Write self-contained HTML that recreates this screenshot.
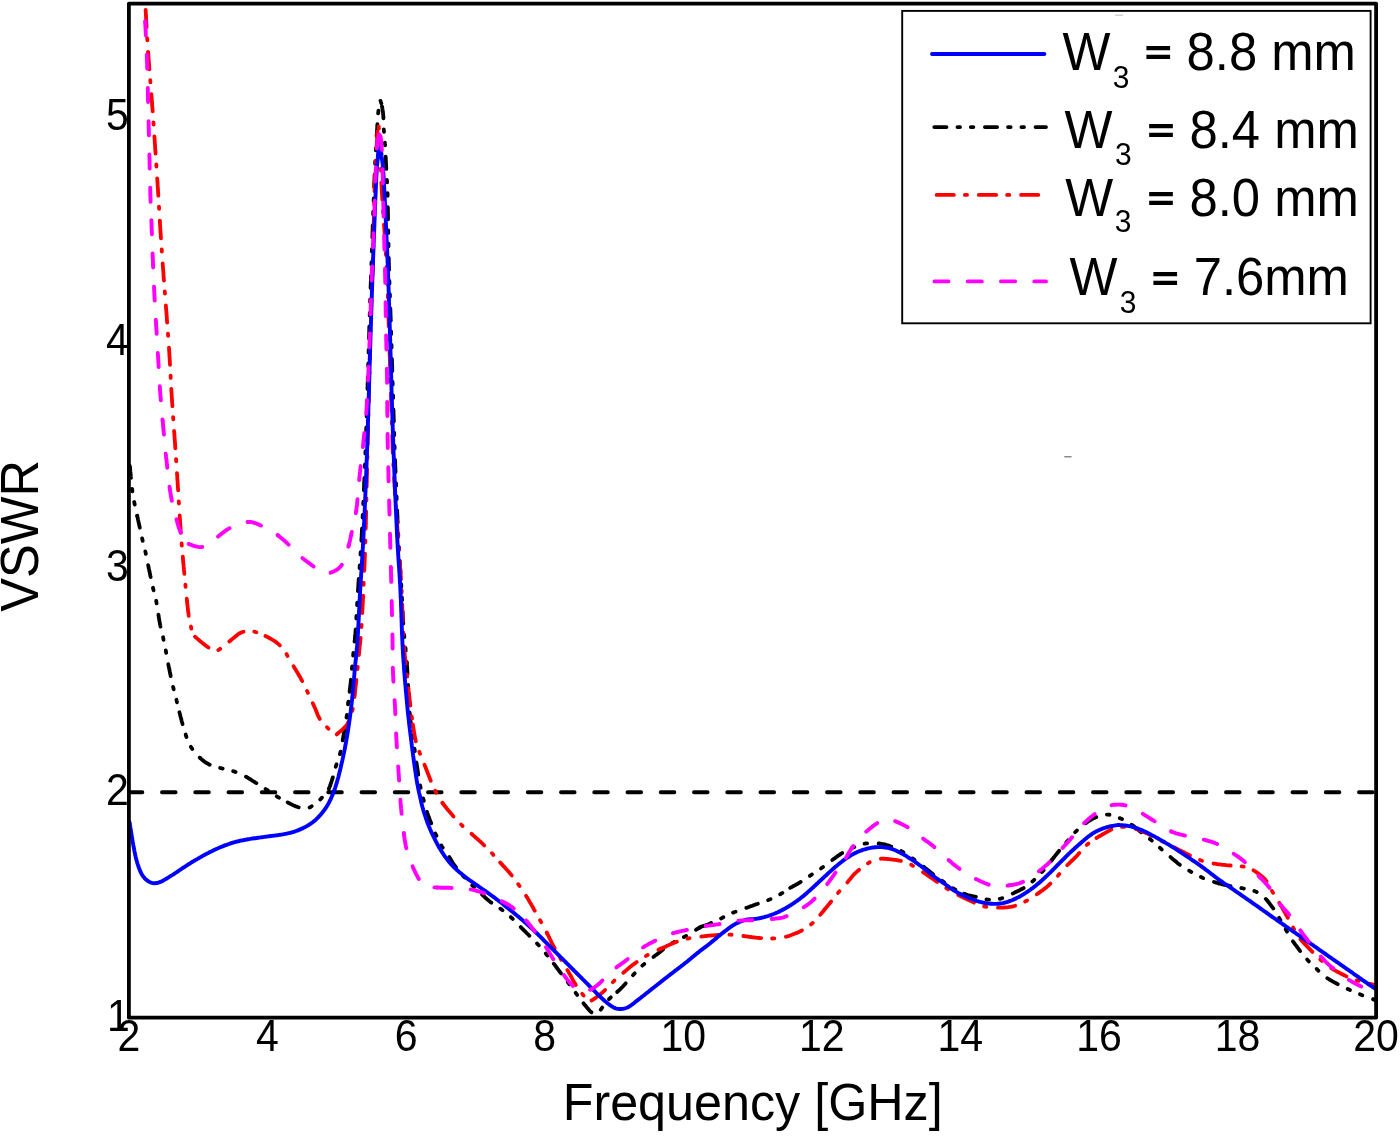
<!DOCTYPE html>
<html lang="en">
<head>
<meta charset="utf-8">
<title>VSWR versus Frequency</title>
<style>
html,body{margin:0;padding:0;background:#fff;}
body{width:1400px;height:1136px;overflow:hidden;}
svg{display:block;}
text{font-family:"Liberation Sans",sans-serif;fill:#000;}
.tk{font-size:41px;}
.lg{font-size:50.8px;}
.sb{font-size:30px;}
.ax{font-size:50.3px;}
.ay{font-size:50.6px;}
</style>
</head>
<body>
<svg width="1400" height="1136" viewBox="0 0 1400 1136">
<rect x="0" y="0" width="1400" height="1136" fill="#fff"/>
<defs><clipPath id="plot"><rect x="128.9" y="3.6" width="1247.2" height="1014.1"/></clipPath></defs>
<g clip-path="url(#plot)" fill="none" stroke-linecap="round" stroke-linejoin="round">
<path d="M128.75 792.3H1380" stroke="#000" stroke-width="3.9" stroke-dasharray="13.6 19.65"/>
<g stroke="#000" stroke-width="3.8" stroke-dasharray="12.2 10.94 2.6 10.77 2.6 11.5">
<path d="M129.5 462.0L129.6 462.7L129.6 463.5L129.7 464.5L129.8 465.5L129.9 466.7L130.0 467.9L130.2 469.2L130.3 470.6L130.4 472.0L130.6 473.5L130.7 474.9L130.8 476.4L131.0 477.9L131.1 479.3L131.2 480.8L131.4 482.1L131.5 483.5L131.6 484.7L131.8 485.9L131.9 487.0L132.0 488.0L132.2 489.8L132.4 491.3L132.5 492.5L132.7 493.7L132.8 494.7L133.0 495.7L133.2 496.8L133.4 498.0L133.7 499.4L134.0 501.0L134.2 502.0L134.4 503.0L134.6 504.2L134.9 505.3L135.2 506.6L135.4 507.8L135.7 509.1L136.0 510.4L136.3 511.8L136.6 513.1L136.9 514.4L137.2 515.8" stroke-dashoffset="46.8"/>
<path d="M137.2 515.8L137.5 517.1L137.8 518.3L138.0 519.6L138.3 520.8L138.5 521.9L138.8 523.0L139.0 524.0L139.3 525.6L139.7 527.1L140.0 528.5L140.2 529.8L140.5 531.1L140.7 532.3L141.0 533.4L141.2 534.6L141.5 535.7L141.7 536.8L142.0 538.0L142.3 539.2L142.6 540.3L142.8 541.4L143.1 542.4L143.4 543.4L143.7 544.4L144.0 545.6L144.3 546.9L144.6 548.3L145.0 550.0L145.2 550.9L145.4 552.0L145.7 553.0L145.9 554.2L146.2 555.4L146.4 556.6L146.7 557.9L147.0 559.2L147.2 560.5L147.5 561.9L147.8 563.2L148.0 564.5L148.3 565.9L148.6 567.2L148.8 568.4L149.1 569.6L149.3 570.8L149.6 572.0L149.8 573.0L150.0 574.0L150.3 575.7L150.7 577.2L151.0 578.6L151.2 579.9L151.5 581.2L151.7 582.3L152.0 583.5L152.2 584.6L152.5 585.7L152.7 586.8L153.0 588.0L153.3 589.2L153.6 590.3L153.9 591.4L154.2 592.4L154.4 593.4L154.7 594.4L155.0 595.6L155.3 596.9L155.7 598.3L156.0 600.0L156.2 600.9L156.4 602.0L156.6 603.1L156.8 604.2L157.0 605.4L157.2 606.7L157.4 608.0L157.6 609.3L157.8 610.6L158.0 611.9L158.2 613.3L158.4 614.6"/>
<path d="M158.4 614.6L158.6 615.9L158.8 617.2L159.0 618.5L159.2 619.7L159.4 620.9L159.6 622.0L159.8 623.0L160.0 624.0L160.3 625.6L160.6 627.0L160.9 628.3L161.2 629.6L161.5 630.7L161.7 631.7L162.0 632.8L162.2 633.8L162.5 634.8L162.7 635.9L163.0 637.0L163.3 638.2L163.5 639.4L163.8 640.6L164.0 641.7L164.3 642.9L164.5 644.1L164.8 645.3L165.0 646.6L165.3 648.1L165.6 649.6L165.8 650.6L166.0 651.7L166.2 652.9L166.4 654.1L166.7 655.3L166.9 656.6L167.1 657.9L167.4 659.2L167.6 660.5L167.9 661.8L168.1 663.1L168.3 664.4L168.6 665.7L168.8 666.9L169.1 668.1L169.3 669.3L169.6 670.6L169.8 671.9L170.1 673.2L170.4 674.5L170.6 675.8L170.9 677.1L171.2 678.4L171.4 679.6L171.7 680.8L172.0 682.0L172.2 683.2L172.5 684.3L172.8 685.4L173.0 686.5L173.3 687.9L173.7 689.2L174.0 690.4L174.3 691.6L174.6 692.7L174.9 693.8L175.2 695.0L175.5 696.2L175.8 697.5L176.2 698.9L176.5 700.0L176.7 701.1L177.0 702.3L177.3 703.5L177.6 704.7L177.9 705.9L178.2 707.2L178.5 708.5L178.8 709.8L179.1 711.0L179.4 712.3"/>
<path d="M179.4 712.3L179.8 713.6L180.1 714.9L180.4 716.1L180.7 717.3L181.1 718.6L181.4 719.9L181.7 721.2L182.1 722.5L182.5 723.8L182.8 725.1L183.2 726.3L183.5 727.6L183.9 728.8L184.2 730.0L184.6 731.2L184.9 732.3L185.3 733.4L185.7 734.7L186.1 736.0L186.5 737.1L186.9 738.3L187.3 739.4L187.7 740.5L188.1 741.5L188.6 742.6L189.1 743.6L189.6 744.6L190.2 745.7L190.8 746.8L191.5 747.8L192.3 748.9L193.0 750.0L193.8 751.0L194.7 752.1L195.5 753.1L196.3 754.1L197.2 755.0L198.1 755.9L198.9 756.8L199.8 757.7"/>
<path d="M199.8 757.7L200.8 758.6L201.7 759.4L202.7 760.2L203.7 761.0L204.6 761.7L205.6 762.4L206.6 763.0L207.7 763.6L208.7 764.2L209.9 764.8L211.1 765.3L212.3 765.7L213.5 766.1L214.7 766.5L216.0 766.9L217.2 767.2L218.5 767.5L219.8 767.9L221.0 768.2L222.2 768.5L223.4 768.8L224.7 769.0L225.9 769.3L227.2 769.6L228.5 769.8L229.7 770.1L230.9 770.5L232.1 770.8L233.4 771.2L234.6 771.6L235.8 772.0L237.0 772.5L238.3 773.0L239.5 773.5L240.7 774.0L241.9 774.6L243.2 775.2L244.3 775.8L245.4 776.4L246.5 777.0L247.6 777.6L248.7 778.3L249.8 779.0L251.0 779.7L252.1 780.5L253.2 781.2L254.4 781.9L255.5 782.6L256.5 783.2L257.6 783.9L258.7 784.6L259.8 785.3L260.9 786.0L261.9 786.7L263.0 787.3L264.0 788.0L265.1 788.7L266.1 789.3L267.0 789.9L267.9 790.5L269.1 791.3L270.3 792.1L271.3 792.8L272.3 793.5L273.3 794.1L274.3 794.8L275.3 795.5L276.5 796.2L277.5 796.8L278.6 797.4L279.6 798.1L280.8 798.7L281.9 799.3L283.0 800.0L284.2 800.6L285.3 801.2L286.5 801.8L287.6 802.4"/>
<path d="M287.6 802.4L288.7 803.0L289.8 803.5L291.0 804.1L292.1 804.7L293.2 805.2L294.4 805.7L295.5 806.2L296.6 806.6L297.6 807.0L298.7 807.3L300.0 807.6L301.2 807.9L302.5 808.1L303.7 808.3L304.9 808.3L306.1 808.3L307.3 808.1L308.5 807.8L309.6 807.4L310.7 806.9L311.8 806.2L312.9 805.5L314.0 804.7L315.2 803.8L316.3 802.9L317.3 802.0L318.4 801.1L319.3 800.3L320.2 799.5L321.1 798.6L322.0 797.7L322.9 796.8L323.7 795.9L324.6 794.9L325.4 794.0L326.1 793.0L326.9 792.0L327.5 791.1L328.2 790.0L328.8 788.9"/>
<path d="M328.8 788.9L329.3 787.8L329.7 786.7L330.2 785.6L330.6 784.4L330.9 783.2L331.4 782.0L331.8 780.6L332.2 779.5L332.5 778.4L332.9 777.2L333.2 775.9L333.6 774.6L333.9 773.3L334.3 772.0L334.6 770.7L335.0 769.5L335.3 768.2L335.7 767.0L336.0 765.8L336.4 764.6L336.8 763.4L337.2 762.3L337.6 761.2L338.0 760.1L338.4 759.0L338.7 757.9L339.1 756.8L339.5 755.6L339.9 754.4L340.2 753.1L340.5 752.0L340.7 750.9L341.0 749.8L341.2 748.6L341.4 747.5L341.6 746.3L341.9 745.0L342.1 743.8L342.3 742.6L342.5 741.3L342.7 740.0L343.0 738.8L343.2 737.5L343.4 736.2L343.6 735.1L343.8 733.9L344.0 732.7L344.2 731.4L344.5 730.2L344.7 729.0L344.9 727.7L345.1 726.4L345.3 725.2L345.5 724.0L345.7 722.7L345.9 721.6L346.1 720.4L346.3 719.3L346.4 718.2L346.6 717.2L346.8 715.7L347.0 714.4L347.1 713.3L347.2 712.2L347.3 711.1L347.4 710.0L347.5 708.9L347.7 707.6L347.8 706.2L348.0 704.5L348.1 703.5L348.2 702.5L348.4 701.5L348.5 700.4L348.6 699.3L348.8 698.1L348.9 696.9L349.1 695.7L349.3 694.5L349.4 693.2L349.6 691.9"/>
<path d="M349.6 691.9L349.7 690.6L349.9 689.3L350.0 688.0L350.2 686.7L350.4 685.3L350.5 684.0L350.7 682.6L350.8 681.3L350.9 680.2L351.0 679.1L351.1 677.9L351.3 676.7L351.4 675.5L351.5 674.3L351.6 673.1L351.7 671.9L351.8 670.7L351.9 669.4L352.0 668.2L352.1 667.0L352.2 665.7L352.4 664.5L352.5 663.3L352.6 662.0L352.7 660.8L352.8 659.6L352.9 658.4L353.0 657.2L353.1 656.1L353.2 654.9L353.3 653.8L353.4 652.5L353.6 651.2L353.7 650.0L353.8 648.8L353.9 647.7L354.0 646.6L354.2 645.5L354.3 644.3L354.4 643.2L354.5 642.1L354.6 641.0L354.8 639.8L354.9 638.6L355.0 637.3L355.1 636.0L355.2 634.6L355.4 633.2L355.5 631.6L355.6 630.0L355.7 629.0L355.7 628.0L355.8 627.0L355.9 626.0L355.9 624.9L356.0 623.9L356.1 622.8L356.1 621.7L356.2 620.6L356.3 619.5L356.3 618.3L356.4 617.2L356.5 616.0L356.5 614.8L356.6 613.6L356.7 612.4L356.8 611.2L356.8 610.0L356.9 608.7L357.0 607.5L357.0 606.2L357.1 604.9L357.2 603.6L357.3 602.3L357.3 601.0L357.4 599.6L357.5 598.3L357.6 596.9L357.7 595.6L357.7 594.2L357.8 592.8L357.9 591.4L358.0 590.0L358.1 588.9L358.1 587.9L358.2 586.8L358.3 585.7L358.4 584.7L358.4 583.6L358.5 582.5L358.6 581.4L358.7 580.3L358.7 579.2L358.8 578.1L358.9 577.0L359.0 575.9L359.1 574.8L359.1 573.7L359.2 572.6L359.3 571.4L359.4 570.3L359.5 569.1L359.6 567.9L359.7 566.8L359.7 565.6L359.8 564.4L359.9 563.2L360.0 562.0L360.1 560.8L360.2 559.6L360.3 558.3L360.3 557.1L360.4 555.8L360.5 554.6L360.6 553.3L360.7 552.0L360.8 550.7L360.9 549.4L360.9 548.1L361.0 546.7L361.1 545.4L361.2 544.0L361.3 542.6L361.4 541.3L361.4 539.8L361.5 538.4L361.6 537.0L361.7 536.0L361.7 534.9L361.8 533.8L361.8 532.8L361.9 531.7L361.9 530.6L362.0 529.5L362.1 528.3L362.1 527.2L362.2 526.1L362.2 524.9L362.3 523.7L362.4 522.6L362.4 521.4L362.5 520.2L362.5 519.0L362.6 517.8L362.7 516.6L362.7 515.4L362.8 514.2L362.8 513.0L362.9 511.8L362.9 510.5L363.0 509.3L363.1 508.0L363.1 506.8L363.2 505.6L363.2 504.3L363.3 503.0L363.4 501.8L363.4 500.5L363.5 499.3L363.5 498.0L363.6 496.7L363.6 495.5L363.7 494.2L363.8 492.9L363.8 491.7L363.9 490.4L363.9 489.2L364.0 487.9L364.0 486.6L364.1 485.4L364.1 484.1L364.2 482.9L364.2 481.6L364.3 480.4L364.4 479.1L364.4 477.9L364.5 476.6L364.5 475.4L364.6 474.2L364.6 472.9L364.7 471.7L364.7 470.5L364.8 469.3L364.8 468.1L364.9 466.9L364.9 465.7L365.0 464.6L365.0 463.4L365.0 462.2L365.1 460.9L365.1 459.7L365.2 458.4L365.2 457.2L365.3 456.0L365.3 454.7L365.4 453.5L365.4 452.3L365.5 451.1L365.5 449.9L365.6 448.6L365.6 447.4L365.6 446.2L365.7 445.0L365.7 443.8L365.8 442.6L365.8 441.4L365.9 440.2L365.9 439.0L365.9 437.8L366.0 436.6L366.0 435.4L366.1 434.2L366.1 433.0L366.1 431.8L366.2 430.6L366.2 429.4L366.3 428.2L366.3 427.0L366.3 425.8L366.4 424.6L366.4 423.4L366.4 422.2L366.5 421.1L366.5 419.9L366.6 418.7L366.6 417.5L366.6 416.3L366.7 415.1L366.7 414.0L366.7 412.8L366.8 411.6L366.8 410.4L366.9 409.2L366.9 408.0L366.9 406.9L367.0 405.7L367.0 404.5L367.0 403.3L367.1 402.1L367.1 400.9L367.2 399.7L367.2 398.6L367.2 397.4L367.3 396.2L367.3 395.0L367.3 393.8L367.4 392.5L367.4 391.3L367.5 390.1L367.5 388.8L367.5 387.6L367.6 386.4L367.6 385.1L367.6 383.9L367.7 382.7L367.7 381.5L367.8 380.2L367.8 379.0L367.8 377.8L367.9 376.5L367.9 375.3L367.9 374.1L368.0 372.8L368.0 371.6L368.0 370.4L368.1 369.2L368.1 367.9L368.2 366.7L368.2 365.5L368.2 364.3L368.3 363.0L368.3 361.8L368.3 360.6L368.4 359.4L368.4 358.1L368.4 356.9L368.5 355.7L368.5 354.5L368.5 353.3L368.6 352.0L368.6 350.8L368.6 349.6L368.7 348.4L368.7 347.2L368.8 346.0L368.8 344.8L368.8 343.6L368.9 342.4L368.9 341.2L368.9 339.9L369.0 338.7L369.0 337.5L369.0 336.3L369.1 335.2L369.1 334.0L369.2 332.8L369.2 331.6L369.2 330.4L369.3 329.2L369.3 328.0L369.3 326.8L369.4 325.5L369.4 324.3L369.5 323.1L369.5 321.8L369.5 320.6L369.6 319.4L369.6 318.2L369.6 317.1L369.7 315.9L369.7 314.7L369.8 313.5L369.8 312.4L369.8 311.2L369.9 310.0L369.9 308.9L369.9 307.7L370.0 306.6L370.0 305.4L370.1 304.3L370.1 303.1L370.1 302.0L370.2 300.8L370.2 299.7L370.2 298.5L370.3 297.3L370.3 296.2L370.4 295.0L370.4 293.8L370.4 292.7L370.5 291.5L370.5 290.3L370.6 289.1L370.6 287.9L370.6 286.7L370.7 285.5L370.7 284.2L370.8 283.0L370.8 281.8L370.9 280.5L370.9 279.3L370.9 278.0L371.0 276.7L371.0 275.4L371.1 274.1L371.1 272.8L371.2 271.4L371.2 270.1L371.3 268.7L371.3 267.3L371.4 265.9L371.4 264.5L371.4 263.4L371.5 262.3L371.5 261.2L371.6 260.1L371.6 259.0L371.6 257.8L371.7 256.6L371.7 255.4L371.8 254.2L371.8 253.0L371.8 251.8L371.9 250.5L371.9 249.3L372.0 248.0L372.0 246.7L372.1 245.4L372.1 244.1L372.2 242.8L372.2 241.5L372.2 240.2L372.3 238.8L372.3 237.5L372.4 236.1L372.4 234.8L372.5 233.4L372.5 232.1L372.6 230.7L372.6 229.4L372.7 228.0L372.7 226.6L372.8 225.3L372.8 223.9L372.9 222.6L372.9 221.2L373.0 219.8L373.0 218.5L373.1 217.2L373.1 215.8L373.1 214.5L373.2 213.2L373.2 211.8L373.3 210.5L373.3 209.2L373.4 207.9L373.4 206.6L373.5 205.4L373.5 204.1L373.6 202.9L373.6 201.6L373.6 200.4L373.7 199.2L373.7 198.0L373.8 196.8L373.8 195.7L373.9 194.6L373.9 193.4L373.9 192.3L374.0 191.2L374.0 190.2L374.1 189.1L374.1 188.1L374.1 187.1L374.2 186.1L374.2 185.2L374.2 184.3L374.3 183.3L374.3 182.5L374.3 181.6L374.4 180.8L374.4 180.0L374.5 177.4L374.6 175.1L374.7 173.0L374.8 171.2L374.8 169.6L374.9 168.1L374.9 166.8L375.0 165.7L375.1 164.7L375.1 163.7L375.1 162.9L375.2 162.1L375.2 161.3L375.3 160.6L375.3 159.8L375.4 159.0L375.4 158.1L375.5 157.2L375.5 156.2L375.6 155.0L375.7 153.8L375.7 152.5L375.8 151.3L375.9 150.0L375.9 148.7L376.0 147.5L376.1 146.2L376.2 144.9L376.2 143.7L376.3 142.4L376.4 141.2L376.4 139.9L376.5 138.7L376.6 137.5L376.7 136.3L376.7 135.1L376.8 134.0L376.9 132.9L376.9 131.8L377.0 130.7L377.1 129.3L377.2 127.9L377.2 126.6L377.3 125.3L377.4 124.0L377.5 122.8L377.5 121.5L377.6 120.3L377.7 119.2L377.7 118.0L377.8 116.9L377.9 115.8L378.0 114.8L378.1 113.7L378.2 112.7L378.4 111.1L378.5 109.5L378.7 107.9L378.9 106.3L379.1 104.8L379.3 103.4L379.5 102.3L379.7 101.4L380.0 100.8L380.2 100.6L380.5 100.8L380.7 101.4L381.0 102.3L381.4 103.4L381.7 104.8L382.0 106.3"/>
<path d="M382.0 106.3L382.3 107.9L382.5 109.5L382.8 111.1L383.0 112.7L383.1 113.7L383.2 114.8L383.3 116.0L383.4 117.2L383.4 118.4L383.5 119.7L383.5 121.0L383.6 122.3L383.6 123.6L383.7 124.8L383.7 126.1L383.7 127.3L383.8 128.5L383.8 129.6L383.9 130.7L384.0 132.1L384.1 133.3L384.2 134.5L384.3 135.6L384.4 136.7L384.5 137.8L384.6 138.9L384.7 140.1L384.8 141.3L384.9 142.6L385.0 144.0L385.1 145.0L385.1 146.1L385.2 147.3L385.3 148.5L385.3 149.7L385.4 150.9L385.4 152.1L385.5 153.4L385.6 154.7L385.6 156.0L385.7 157.2L385.8 158.5L385.8 159.8L385.9 161.0L385.9 162.2L386.0 163.4L386.1 164.6L386.1 165.9L386.2 167.2L386.3 168.4L386.3 169.7L386.4 170.9L386.5 172.1L386.6 173.4L386.6 174.6L386.7 175.8L386.8 177.0L386.8 178.1L386.9 179.2L386.9 180.3L387.0 181.4L387.1 182.6L387.1 183.4L387.2 183.9L387.2 184.3L387.3 184.7L387.3 185.3L387.3 186.1L387.4 187.4L387.5 189.2L387.5 191.7L387.6 195.0L387.6 195.7L387.6 196.5L387.7 197.3L387.7 198.2L387.7 199.1L387.7 200.0L387.7 200.9L387.7 201.9L387.8 202.9L387.8 203.9L387.8 205.0L387.8 206.1L387.8 207.2L387.9 208.3L387.9 209.4L387.9 210.6L387.9 211.8L387.9 213.0L388.0 214.2L388.0 215.5L388.0 216.8L388.0 218.0L388.0 219.3L388.1 220.6L388.1 221.9L388.1 223.3L388.1 224.6L388.1 226.0L388.2 227.3L388.2 228.7L388.2 230.0L388.2 231.4L388.3 232.8L388.3 234.2L388.3 235.6L388.3 236.9L388.4 238.3L388.4 239.7L388.4 241.1L388.4 242.5L388.5 243.8L388.5 245.2L388.5 246.6L388.5 247.9L388.6 249.3L388.6 250.6L388.6 252.0L388.6 253.3L388.7 254.6L388.7 255.9L388.7 257.2L388.8 258.4L388.8 259.7L388.8 260.9L388.8 262.1L388.9 263.3L388.9 264.5L388.9 265.8L389.0 267.0L389.0 268.3L389.0 269.6L389.1 270.8L389.1 272.1L389.1 273.3L389.2 274.6L389.2 275.8L389.3 277.0L389.3 278.3L389.3 279.5L389.4 280.7L389.4 281.9L389.5 283.2L389.5 284.4L389.5 285.6L389.6 286.8L389.6 288.0L389.7 289.2L389.7 290.4L389.7 291.6L389.8 292.8L389.8 294.0L389.9 295.2L389.9 296.4L389.9 297.6L390.0 298.8L390.0 300.0L390.1 301.2L390.1 302.4L390.2 303.6L390.2 304.8L390.2 306.0L390.3 307.2L390.3 308.4L390.4 309.6L390.4 310.8L390.5 312.0L390.5 313.2L390.5 314.4L390.6 315.7L390.6 316.9L390.7 318.1L390.7 319.3L390.8 320.6L390.8 321.8L390.8 323.0L390.9 324.3L390.9 325.5L391.0 326.7L391.0 328.0L391.0 329.2L391.1 330.4L391.1 331.6L391.1 332.8L391.2 334.0L391.2 335.2L391.3 336.3L391.3 337.5L391.3 338.7L391.4 339.9L391.4 341.2L391.4 342.4L391.5 343.6L391.5 344.8L391.5 346.0L391.6 347.2L391.6 348.4L391.7 349.6L391.7 350.8L391.7 352.0L391.8 353.3L391.8 354.5L391.8 355.7L391.9 356.9L391.9 358.1L391.9 359.4L392.0 360.6L392.0 361.8L392.0 363.0L392.1 364.3L392.1 365.5L392.2 366.7L392.2 367.9L392.2 369.2L392.3 370.4L392.3 371.6L392.3 372.8L392.4 374.1L392.4 375.3L392.4 376.5L392.5 377.8L392.5 379.0L392.6 380.2L392.6 381.5L392.6 382.7L392.7 383.9L392.7 385.1L392.7 386.4L392.8 387.6L392.8 388.8L392.8 390.1L392.9 391.3L392.9 392.5L393.0 393.8L393.0 395.0L393.0 396.2L393.1 397.4L393.1 398.6L393.1 399.7L393.2 400.9L393.2 402.1L393.3 403.3L393.3 404.5L393.3 405.7L393.4 406.8L393.4 408.0L393.4 409.2L393.5 410.4L393.5 411.6L393.5 412.8L393.6 413.9L393.6 415.1L393.6 416.3L393.7 417.5L393.7 418.7L393.8 419.9L393.8 421.0L393.8 422.2L393.9 423.4L393.9 424.6L393.9 425.8L394.0 427.0L394.0 428.2L394.0 429.4L394.1 430.6L394.1 431.7L394.2 432.9L394.2 434.1L394.2 435.3L394.3 436.5L394.3 437.7L394.3 438.9L394.4 440.1L394.4 441.3L394.5 442.6L394.5 443.8L394.5 445.0L394.6 446.2L394.6 447.4L394.7 448.6L394.7 449.8L394.8 451.1L394.8 452.3L394.8 453.5L394.9 454.7L394.9 456.0L395.0 457.2L395.0 458.4L395.1 459.7L395.1 460.9L395.2 462.2L395.2 463.4L395.2 464.6L395.3 465.7L395.3 466.9L395.4 468.1L395.4 469.3L395.5 470.5L395.5 471.8L395.6 473.0L395.6 474.2L395.7 475.4L395.7 476.7L395.8 477.9L395.8 479.2L395.9 480.4L395.9 481.7L396.0 482.9L396.0 484.2L396.1 485.5L396.1 486.7L396.2 488.0L396.2 489.3L396.3 490.5L396.3 491.8L396.4 493.1L396.4 494.3L396.5 495.6L396.6 496.9L396.6 498.2L396.7 499.4L396.7 500.7L396.8 502.0L396.8 503.2L396.9 504.5L396.9 505.7L397.0 507.0L397.0 508.3L397.1 509.5L397.2 510.7L397.2 512.0L397.3 513.2L397.3 514.4L397.4 515.7L397.4 516.9L397.5 518.1L397.5 519.3L397.6 520.5L397.7 521.7L397.7 522.9L397.8 524.0L397.8 525.2L397.9 526.3L397.9 527.5L398.0 528.6L398.0 529.7L398.1 530.9L398.1 532.0L398.2 533.0L398.2 534.1L398.3 535.2L398.3 536.3L398.4 537.3L398.5 538.8L398.5 540.2L398.6 541.6L398.7 543.1L398.8 544.5L398.8 545.9L398.9 547.2L399.0 548.6L399.1 550.0L399.1 551.3L399.2 552.6L399.3 553.9L399.4 555.2L399.5 556.5L399.5 557.8L399.6 559.1L399.7 560.3L399.8 561.6L399.8 562.8L399.9 564.0L400.0 565.3L400.1 566.5L400.1 567.7L400.2 568.8L400.3 570.0L400.4 571.2L400.4 572.4L400.5 573.5L400.6 574.7L400.6 575.8L400.7 576.9L400.8 578.0L400.8 579.2L400.9 580.3L401.0 581.4L401.1 582.5L401.1 583.6L401.2 584.6L401.3 585.7L401.3 586.8L401.4 587.9L401.4 588.9L401.5 590.0L401.6 591.4L401.7 592.8L401.7 594.2L401.8 595.5L401.9 596.9L401.9 598.2L402.0 599.5L402.1 600.7L402.1 602.0L402.2 603.2L402.3 604.5L402.3 605.7L402.4 606.9L402.4 608.1L402.5 609.3L402.5 610.4L402.6 611.6L402.7 612.7L402.7 613.9L402.8 615.0L402.8 616.2L402.9 617.3L403.0 618.4L403.0 619.5L403.1 620.7L403.2 621.8L403.2 622.9L403.3 624.0L403.4 625.1L403.4 626.2L403.5 627.4L403.6 628.5L403.7 629.8L403.8 631.0L403.9 632.2L404.0 633.4L404.1 634.6L404.2 635.7L404.3 636.8L404.4 637.9L404.6 639.0L404.7 640.1L404.8 641.2L404.9 642.3L405.0 643.4L405.1 644.5L405.3 645.6L405.4 646.7L405.5 647.9L405.6 649.0L405.7 650.2L405.9 651.4L406.0 652.6L406.1 653.9L406.2 655.2L406.3 656.5L406.5 657.9L406.6 659.3L406.7 660.8L406.8 662.3L406.9 663.3L406.9 664.4L407.0 665.5L407.1 666.6L407.2 667.7L407.2 668.9L407.3 670.0L407.4 671.2L407.4 672.5L407.5 673.7L407.6 675.0L407.6 676.2L407.7 677.5L407.8 678.8L407.8 680.1L407.9 681.4L408.0 682.8L408.0 684.1L408.1 685.4L408.2 686.8L408.2 688.1L408.3 689.4L408.4 690.8L408.5 692.1L408.5 693.5L408.6 694.8L408.7 696.1L408.7 697.4L408.8 698.7L408.9 700.0L409.0 701.3L409.0 702.5L409.1 703.8L409.2 705.0L409.3 706.2L409.3 707.4L409.4 708.6L409.5 709.7L409.6 710.8L409.6 711.9L409.7 713.0L409.8 714.0L409.9 715.0L410.0 716.6L410.2 718.2L410.3 719.7L410.5 721.1L410.7 722.6L410.8 724.0L411.0 725.3L411.2 726.7L411.3 728.0L411.5 729.2L411.7 730.5L411.9 731.7L412.0 732.9L412.2 734.0L412.4 735.2L412.6 736.3L412.8 737.4L412.9 738.5L413.1 739.6L413.3 740.6L413.4 741.7L413.6 742.7L413.8 743.7L413.9 744.8L414.1 745.8L414.2 746.8L414.4 748.3L414.6 749.8L414.8 751.2L415.0 752.6L415.2 753.9L415.4 755.2L415.6 756.4L415.7 757.6L415.9 758.8L416.1 760.0L416.2 761.1L416.4 762.2L416.6 763.4L416.8 764.5L416.9 765.7L417.1 766.8L417.3 768.0L417.5 769.2L417.7 770.5L417.9 771.7L418.0 772.9L418.2 774.0L418.4 775.2L418.6 776.4L418.8 777.5L418.9 778.7L419.1 779.8L419.3 781.0L419.6 782.2L419.8 783.3L420.0 784.5L420.2 785.8L420.5 787.0L420.7 788.1L421.0 789.3L421.3 790.5L421.5 791.7L421.8 792.9L422.1 794.1L422.4 795.3L422.7 796.5L423.0 797.8L423.3 799.0L423.6 800.2L424.0 801.4L424.3 802.6L424.6 803.7L424.9 804.8L425.2 805.9L425.5 807.0L425.8 808.0L426.2 809.3L426.6 810.6L427.0 811.9L427.4 813.1L427.8 814.2L428.2 815.4L428.6 816.5L429.0 817.5L429.4 818.6L429.8 819.7L430.2 820.7L430.6 821.7L431.0 822.8L431.5 824.0L432.0 825.3L432.4 826.5L432.9 827.7L433.4 828.8L433.9 830.0L434.4 831.1L434.9 832.3L435.3 833.4L435.8 834.4L436.3 835.5L436.9 836.8L437.4 838.0L438.0 839.2L438.5 840.3L439.1 841.4L439.7 842.6L440.3 843.7L440.9 844.8L441.6 846.0L442.3 847.1L443.0 848.1L443.7 849.2L444.5 850.3L445.3 851.4L446.0 852.4L446.8 853.5L447.6 854.6L448.3 855.6L449.0 856.6L449.7 857.7L450.3 858.7L450.8 859.6L451.4 860.5L451.9 861.5L452.5 862.5L453.2 863.5L454.0 864.7L455.0 866.0L455.6 866.8L456.3 867.6L456.9 868.5L457.6 869.3L458.4 870.2L459.1 871.2L459.9 872.1L460.7 873.1L461.6 874.1L462.5 875.1L463.3 876.1L464.3 877.1L465.2 878.1L466.2 879.2L467.2 880.2L468.2 881.3L469.0 882.1L469.8 882.9L470.6 883.8L471.5 884.6L472.4 885.5L473.4 886.5L474.3 887.4L475.3 888.3L476.3 889.3L477.2 890.2L478.2 891.1L479.2 892.1L480.2 893.0L481.2 893.9L482.1 894.7"/>
<path d="M482.1 894.7L483.1 895.6L484.0 896.4L484.8 897.2L485.7 898.0L486.5 898.7L487.3 899.4L488.0 900.0L489.3 901.1L490.5 902.1L491.7 902.9L492.7 903.6L493.7 904.2L494.6 904.8L495.4 905.4L496.3 905.9L497.2 906.4L498.1 907.0L499.0 907.7L500.0 908.4L501.0 909.1L501.9 909.8L502.9 910.5L503.8 911.1L504.7 911.8L505.7 912.6L506.7 913.4L507.8 914.4L509.0 915.4L509.8 916.1L510.6 916.9L511.4 917.7L512.3 918.5L513.2 919.4L514.1 920.3L515.0 921.3L515.9 922.2L516.9 923.2L517.8 924.1L518.8 925.1L519.7 926.0L520.6 927.0L521.5 927.9L522.4 928.8L523.3 929.7L524.2 930.6L525.2 931.5L526.1 932.5L527.0 933.4L528.0 934.3L528.9 935.3L529.9 936.2L530.8 937.1L531.7 938.0L532.5 938.9L533.4 939.7L534.2 940.6L535.0 941.4L535.8 942.2L536.5 942.9L537.6 944.1L538.6 945.1L539.4 946.1L540.2 947.0L541.0 947.9L541.8 948.8L542.5 949.7L543.3 950.6L544.2 951.7L545.0 952.6L545.7 953.5L546.5 954.5L547.3 955.4L548.1 956.4L548.9 957.4L549.7 958.4L550.5 959.5L551.3 960.5L552.2 961.6L553.0 962.7L553.7 963.7"/>
<path d="M553.7 963.7L554.5 964.6L555.3 965.7L556.0 966.7L556.8 967.8L557.6 968.8L558.4 969.9L559.2 971.0L560.0 972.0L560.7 973.0L561.5 974.0L562.2 975.0L562.9 975.9L563.8 977.0L564.6 978.1L565.4 979.2L566.2 980.2L567.0 981.2L567.8 982.2L568.5 983.1L569.2 984.0L569.9 984.9L570.6 985.8L571.5 987.0L572.3 988.1L573.1 989.2L573.8 990.2L574.5 991.3L575.3 992.4L576.1 993.5L576.8 994.4L577.5 995.4L578.2 996.3L578.9 997.3L579.6 998.3L580.4 999.3L581.1 1000.3L581.9 1001.3L582.7 1002.3L583.4 1003.2"/>
<path d="M583.4 1003.2L584.2 1004.2L585.1 1005.3L585.9 1006.3L586.7 1007.3L587.6 1008.3L588.4 1009.3L589.1 1010.1L589.8 1010.9L590.5 1011.5L591.9 1012.6L593.0 1013.2L594.0 1013.5L595.0 1013.5L596.0 1013.4L597.0 1013.1L598.1 1012.3L599.5 1011.0L600.1 1010.3L600.8 1009.5L601.5 1008.6L602.2 1007.6L603.0 1006.5L603.8 1005.4L604.6 1004.3L605.5 1003.1L606.3 1002.1L607.2 1001.0L608.0 1000.1L608.9 999.2L609.8 998.3L610.7 997.5L611.6 996.7L612.6 995.8L613.5 995.0L614.5 994.2L615.4 993.5L616.3 992.7L617.1 992.0"/>
<path d="M617.1 992.0L617.9 991.3L619.0 990.3L620.0 989.4L620.8 988.5L621.7 987.6L622.6 986.8L623.5 985.8L624.5 984.7L625.2 983.9L626.0 983.1L626.7 982.2L627.5 981.3L628.3 980.4L629.1 979.5L629.9 978.5L630.8 977.6L631.6 976.6L632.5 975.7L633.3 974.8L634.1 973.9L635.0 973.0L635.8 972.1L636.6 971.2L637.5 970.4L638.3 969.5L639.2 968.6L640.2 967.7L641.1 966.8L642.1 965.8L643.2 964.9L644.0 964.2L644.9 963.5L645.8 962.8L646.7 962.0L647.7 961.3L648.7 960.5L649.6 959.8L650.6 959.0L651.6 958.3L652.7 957.5L653.7 956.8L654.6 956.0L655.6 955.3L656.6 954.6L657.5 953.9L658.5 953.1L659.6 952.3L660.6 951.5L661.5 950.7L662.5 950.0L663.5 949.2L664.4 948.4L665.4 947.7L666.4 946.9L667.4 946.2L668.5 945.5L669.6 944.7L670.7 944.0L671.7 943.4L672.8 942.8L673.9 942.2L675.0 941.5L676.1 940.9L677.3 940.3L678.5 939.8L679.6 939.2L680.8 938.6L681.9 938.0L683.1 937.4L684.2 936.9L685.3 936.3L686.3 935.8L687.3 935.2L688.5 934.5L689.7 933.8L690.8 933.1L691.9 932.4L693.0 931.7L694.0 931.0L695.1 930.3L696.1 929.7L697.0 929.1L698.0 928.5L698.9 928.0L699.8 927.5"/>
<path d="M699.8 927.5L701.2 926.8L702.5 926.3L703.7 925.9L704.9 925.5L706.0 925.1L707.3 924.7L708.6 924.2L709.6 923.8L710.6 923.3L711.7 922.8L712.8 922.3L713.9 921.8L715.0 921.3L716.1 920.7L717.3 920.2L718.4 919.7L719.6 919.1L720.7 918.6L721.7 918.1L722.8 917.5L723.9 917.0L725.0 916.4L726.1 915.8L727.3 915.3L728.4 914.7L729.5 914.2L730.6 913.7L731.7 913.2L732.9 912.7L734.1 912.2L735.3 911.8L736.5 911.3L737.8 910.9L739.0 910.5L740.2 910.1L741.4 909.7L742.6 909.2L743.8 908.8L745.0 908.4L746.2 907.9L747.5 907.5L748.7 907.0L749.9 906.6L751.1 906.1L752.4 905.7L753.6 905.2L754.7 904.8L755.9 904.4L757.2 904.0L758.4 903.5L759.6 903.1L760.9 902.7L762.1 902.3L763.3 901.9L764.5 901.5L765.7 901.1L766.9 900.6L768.0 900.2L769.1 899.7L770.2 899.3L771.2 898.8L772.3 898.3L773.4 897.9L774.5 897.3L775.6 896.8L776.8 896.2L777.9 895.6L778.9 895.0L779.9 894.4L780.9 893.8L782.0 893.2L783.0 892.5L784.1 891.8L785.1 891.1L786.2 890.4L787.2 889.7L788.2 889.1L789.2 888.5L790.1 887.9"/>
<path d="M790.1 887.9L791.3 887.2L792.5 886.6L793.6 885.9L794.7 885.4L795.7 884.8L796.8 884.2L797.8 883.7L798.9 883.0L800.0 882.4L801.1 881.7L802.2 881.0L803.3 880.3L804.3 879.6L805.4 878.8L806.5 878.1L807.6 877.3L808.8 876.6L809.9 875.8L810.9 875.2L811.8 874.5L812.8 873.9L813.8 873.2L814.8 872.6L815.8 871.9L816.9 871.3L817.9 870.6L818.9 869.9L819.9 869.2L820.9 868.5L821.9 867.8L822.9 867.1L823.9 866.3L824.9 865.6L825.9 864.8L826.9 864.0L827.9 863.3L828.9 862.5L829.9 861.8L830.9 861.0L831.9 860.3L832.9 859.6L833.9 858.8L835.0 858.1L836.0 857.3L837.0 856.6L838.0 855.8L839.1 855.1L840.1 854.4L841.0 853.8L842.0 853.2L842.9 852.6L844.1 851.9L845.2 851.3L846.2 850.7L847.2 850.2L848.3 849.7L849.3 849.2L850.5 848.7L851.7 848.2L852.8 847.7L853.9 847.3L855.1 846.8L856.3 846.3L857.5 845.8L858.8 845.3L860.1 844.8L861.3 844.4L862.6 844.1L863.8 843.8L865.0 843.6L866.2 843.4L867.4 843.3L868.6 843.2L869.8 843.1L871.1 843.1L872.3 843.1L873.5 843.1L874.7 843.1L875.9 843.2L877.1 843.3L878.3 843.4L879.5 843.6"/>
<path d="M879.5 843.6L880.7 843.7L882.0 844.0L883.2 844.2L884.4 844.4L885.6 844.7L886.8 845.1L888.0 845.4L889.2 845.8L890.4 846.2L891.7 846.6L892.9 847.1L894.1 847.6L895.3 848.1L896.6 848.7L897.8 849.2L898.9 849.8L900.1 850.4L901.2 851.0L902.4 851.7L903.5 852.3L904.6 853.0L905.7 853.8L906.8 854.5L907.8 855.2L908.9 856.0L910.0 856.7L911.1 857.5L912.1 858.2L913.1 858.9L914.1 859.6L915.1 860.3L916.1 861.0L917.1 861.8L918.1 862.5L919.1 863.2L920.1 864.0L921.1 864.7L922.1 865.5L923.1 866.3L924.1 867.1L925.1 867.9L926.1 868.7L927.1 869.5L928.1 870.3L929.1 871.1L930.1 871.9L931.1 872.7L932.1 873.5L933.1 874.3L934.1 875.1L935.1 875.8L936.1 876.6L937.1 877.3L938.1 878.0L939.1 878.8L940.1 879.5L941.1 880.2L942.1 880.9L943.1 881.6L944.1 882.3L945.2 883.1L946.3 883.8L947.4 884.6L948.5 885.3L949.6 886.1L950.7 886.8L951.8 887.5L952.9 888.2L954.0 888.9L955.1 889.5L956.2 890.1L957.4 890.7L958.5 891.2L959.6 891.8L960.8 892.3L961.9 892.8L963.0 893.3L964.1 893.7"/>
<path d="M964.1 893.7L965.2 894.1L966.2 894.5L967.6 895.0L968.8 895.3L970.0 895.6L971.2 895.9L972.4 896.1L973.6 896.4L975.0 896.7L976.1 897.0L977.3 897.3L978.5 897.7L979.8 898.1L981.1 898.5L982.4 898.8L983.7 899.1L985.0 899.3L986.4 899.5L987.5 899.6L988.7 899.7L989.9 899.7L991.1 899.7L992.3 899.7L993.5 899.7L994.7 899.6L996.0 899.5L997.2 899.4L998.4 899.2L999.6 898.9L1000.8 898.6L1002.0 898.2L1003.3 897.8L1004.5 897.3L1005.7 896.7L1006.9 896.2L1008.2 895.6L1009.4 895.0L1010.5 894.5L1011.7 893.9L1012.8 893.4L1014.0 892.9L1015.2 892.3L1016.3 891.8L1017.5 891.3L1018.6 890.7L1019.7 890.2L1020.7 889.6L1021.8 889.1L1022.8 888.5L1023.8 887.9L1024.9 887.2L1025.9 886.6L1026.8 885.9L1027.7 885.3L1028.7 884.6L1029.6 883.9L1030.5 883.1L1031.5 882.2L1032.6 881.3L1033.4 880.6L1034.2 879.8L1035.0 879.0L1035.9 878.2L1036.8 877.4L1037.7 876.5L1038.5 875.6L1039.4 874.7L1040.3 873.8L1041.2 872.8L1042.0 871.9L1042.8 871.1L1043.6 870.2L1044.5 869.2L1045.3 868.2L1046.2 867.2L1047.0 866.2L1047.7 865.2L1048.5 864.2L1049.3 863.2L1050.1 862.2L1050.8 861.2L1051.6 860.2"/>
<path d="M1051.6 860.2L1052.4 859.2L1053.2 858.2L1054.0 857.2L1054.9 856.1L1055.7 855.1L1056.6 854.0L1057.4 853.0L1058.2 852.0L1059.0 851.0L1059.8 850.0L1060.6 849.1L1061.3 848.2L1062.2 847.1L1063.1 846.0L1063.9 845.1L1064.7 844.1L1065.5 843.2L1066.3 842.3L1067.1 841.4L1067.9 840.5L1068.7 839.5L1069.5 838.6L1070.3 837.6L1071.1 836.6L1071.9 835.7L1072.7 834.7L1073.6 833.8L1074.5 832.8L1075.4 831.9L1076.3 831.1L1077.2 830.2L1078.1 829.4L1079.1 828.5L1080.1 827.6L1081.2 826.8L1082.2 825.9L1083.3 825.1L1084.3 824.3L1085.3 823.6L1086.4 822.8L1087.4 822.0L1088.5 821.2L1089.6 820.5L1090.8 819.8L1091.9 819.1L1093.1 818.5L1094.3 817.9L1095.4 817.4L1096.6 817.0L1097.7 816.5L1098.9 816.1L1100.2 815.7L1101.4 815.4L1102.6 815.1L1103.8 814.9L1105.1 814.7L1106.3 814.6L1107.5 814.6L1108.7 814.7L1109.9 814.8L1111.2 815.1L1112.4 815.4L1113.7 815.8L1114.9 816.2L1116.1 816.7L1117.3 817.1L1118.5 817.6L1119.6 818.1L1120.7 818.5L1121.9 819.0L1123.1 819.6L1124.2 820.1L1125.3 820.7L1126.4 821.3L1127.4 821.9L1128.5 822.6L1129.5 823.3L1130.6 824.0L1131.6 824.7"/>
<path d="M1131.6 824.7L1132.6 825.4L1133.6 826.1L1134.6 826.9L1135.5 827.7L1136.5 828.5L1137.5 829.3L1138.5 830.1L1139.5 830.9L1140.5 831.7L1141.5 832.5L1142.5 833.2L1143.5 834.0L1144.5 834.7L1145.5 835.5L1146.4 836.2L1147.4 837.0L1148.4 837.8L1149.4 838.6L1150.4 839.4L1151.3 840.2L1152.2 840.9L1153.1 841.8L1154.0 842.6L1155.0 843.4L1155.9 844.2L1156.8 845.0L1157.7 845.8L1158.6 846.7L1159.4 847.4L1160.3 848.2L1161.3 849.1L1162.3 849.9L1163.2 850.8L1164.1 851.6L1165.0 852.4L1166.0 853.2L1166.9 854.1L1168.0 855.0L1169.1 855.9L1169.9 856.6L1170.8 857.3L1171.7 858.1L1172.6 858.9L1173.6 859.7L1174.5 860.5L1175.5 861.3L1176.5 862.1L1177.4 862.9L1178.4 863.7L1179.4 864.4L1180.3 865.1L1181.2 865.8L1182.3 866.6L1183.4 867.3L1184.5 868.0L1185.6 868.7L1186.6 869.3L1187.7 869.9L1188.8 870.5L1189.9 871.1L1191.0 871.8L1192.2 872.4L1193.2 873.0L1194.3 873.6L1195.4 874.1L1196.6 874.8L1197.7 875.4L1198.9 876.0L1200.0 876.5L1201.2 877.1L1202.3 877.7L1203.4 878.2L1204.4 878.7L1205.4 879.1L1206.8 879.7L1208.0 880.2L1209.2 880.6L1210.3 881.0L1211.5 881.3L1212.7 881.7L1213.9 882.0L1215.3 882.4L1216.4 882.7L1217.5 883.0L1218.7 883.3"/>
<path d="M1218.7 883.3L1219.9 883.6L1221.1 884.0L1222.4 884.3L1223.6 884.6L1224.9 884.9L1226.1 885.2L1227.3 885.4L1228.5 885.7L1229.8 886.0L1231.0 886.2L1232.2 886.4L1233.4 886.6L1234.6 886.8L1235.7 887.0L1236.9 887.2L1238.1 887.4L1239.4 887.7L1240.6 887.9L1241.8 888.1L1243.0 888.4L1244.2 888.6L1245.4 888.8L1246.7 889.1L1247.9 889.3L1249.1 889.6L1250.3 889.8L1251.5 890.1L1252.6 890.5L1253.6 890.8L1254.9 891.3L1256.2 891.8L1257.3 892.3L1258.4 892.8L1259.5 893.4L1260.6 894.1L1261.7 894.9L1262.8 895.8L1263.6 896.5L1264.4 897.3L1265.2 898.2L1266.0 899.1L1266.8 900.0L1267.6 901.0L1268.4 902.0L1269.2 903.0L1270.0 904.1L1270.7 905.0L1271.4 906.0L1272.1 906.9L1272.9 907.9L1273.6 909.0L1274.3 910.0L1274.9 911.0L1275.5 912.0L1276.1 912.9L1276.7 913.9L1277.4 914.9L1278.0 916.0L1278.6 917.0L1279.2 918.1L1279.9 919.2L1280.5 920.3L1281.2 921.4L1281.8 922.5L1282.4 923.6L1283.1 924.7L1283.7 925.9L1284.4 927.0L1285.0 928.1L1285.6 929.2L1286.3 930.3L1286.9 931.5L1287.5 932.6L1288.2 933.7L1288.8 934.8L1289.5 935.9L1290.1 937.0L1290.8 938.1L1291.5 939.2L1292.2 940.3L1292.9 941.3"/>
<path d="M1292.9 941.3L1293.7 942.4L1294.4 943.4L1295.1 944.4L1295.9 945.4L1296.7 946.4L1297.4 947.4L1298.2 948.4L1298.9 949.4L1299.7 950.5L1300.5 951.5L1301.3 952.5L1302.1 953.6L1302.9 954.6L1303.7 955.6L1304.5 956.6L1305.4 957.6L1306.3 958.6L1307.1 959.5L1308.0 960.5L1308.9 961.4L1309.8 962.3L1310.7 963.2L1311.7 964.2L1312.6 965.1L1313.6 966.0L1314.5 967.0L1315.5 967.9L1316.4 968.7L1317.3 969.6L1318.2 970.5L1319.1 971.3L1320.0 972.2L1320.9 973.1L1321.8 973.9L1322.8 974.8L1323.7 975.6L1324.7 976.3L1325.7 977.1L1326.7 977.8L1327.8 978.5L1328.9 979.2L1330.0 979.9L1331.1 980.5L1332.3 981.2L1333.4 981.8L1334.5 982.4L1335.6 983.0L1336.7 983.5L1337.7 984.1L1338.9 984.7L1340.1 985.3L1341.2 985.9L1342.3 986.4L1343.3 987.0L1344.4 987.5L1345.5 988.0L1346.7 988.5L1347.9 989.1L1349.0 989.6L1350.1 990.1L1351.3 990.6L1352.4 991.1L1353.6 991.7L1354.8 992.2L1356.0 992.7L1357.3 993.2L1358.6 993.8L1359.9 994.3L1361.0 994.7L1362.2 995.2L1363.5 995.7L1364.8 996.2L1366.2 996.7L1367.5 997.2L1368.9 997.7L1370.2 998.2L1371.4 998.7L1372.5 999.1L1373.5 999.4"/>
<path d="M1373.5 999.4L1374.3 999.7L1375.0 1000.0"/>
</g>
<g stroke="#ff0000" stroke-width="3.8" stroke-dasharray="17.3 10.94 2.2 11.8">
<path d="M145.6 9.5L145.6 10.1L145.7 10.8L145.7 11.6L145.8 12.4L145.8 13.3L145.9 14.2L145.9 15.1L146.0 16.1L146.0 17.2L146.1 18.2L146.1 19.4L146.2 20.5L146.3 21.7L146.3 22.9L146.4 24.2L146.5 25.5L146.6 26.8L146.6 28.1L146.7 29.5L146.8 30.9L146.9 32.3L147.0 33.7L147.0 35.1L147.1 36.6L147.2 38.1L147.3 39.5L147.4 41.0L147.5 42.5L147.6 44.0L147.7 45.5L147.8 47.0L147.9 48.5L148.0 50.0L148.1 51.0L148.1 52.1" stroke-dashoffset="41.8"/>
<path d="M148.1 52.1L148.2 53.2L148.3 54.2L148.4 55.3L148.5 56.5L148.5 57.6L148.6 58.7L148.7 59.9L148.8 61.0L148.9 62.2L149.0 63.4L149.1 64.6L149.2 65.8L149.3 67.0L149.3 68.3L149.4 69.5L149.5 70.7L149.6 72.0L149.7 73.2L149.8 74.5L149.9 75.7L150.0 77.0L150.1 78.3L150.2 79.6L150.3 80.8L150.4 82.1L150.5 83.4L150.6 84.6L150.7 85.9L150.8 87.2L150.9 88.5L151.0 89.7L151.1 91.0L151.2 92.3L151.3 93.5L151.4 94.8L151.5 96.0L151.6 97.2L151.7 98.5L151.8 99.7L151.9 100.9L152.0 102.1L152.1 103.3L152.1 104.5L152.2 105.7L152.3 106.8L152.4 108.0L152.5 109.3L152.6 110.6L152.7 111.8L152.8 113.1L152.9 114.4L152.9 115.6L153.0 116.9L153.1 118.1L153.2 119.4L153.3 120.6L153.4 121.9L153.5 123.1L153.6 124.4L153.7 125.6L153.7 126.9L153.8 128.1L153.9 129.3L154.0 130.5L154.1 131.8L154.2 133.0L154.3 134.2L154.3 135.4L154.4 136.6L154.5 137.8L154.6 139.0L154.7 140.2L154.7 141.4L154.8 142.6L154.9 143.8L155.0 145.0L155.1 146.2L155.1 147.3L155.2 148.5L155.3 149.7L155.4 150.8L155.5 152.0L155.5 153.2L155.6 154.3L155.7 155.5L155.8 156.6L155.8 157.7L155.9 158.9L156.0 160.0L156.1 161.3L156.2 162.6L156.3 164.0L156.4 165.3L156.4 166.6L156.5 167.9L156.6 169.3L156.7 170.6L156.8 171.9L156.9 173.3L157.0 174.6L157.0 175.9L157.1 177.2L157.2 178.6L157.3 179.9L157.4 181.2L157.5 182.5L157.6 183.7L157.6 185.0L157.7 186.3L157.8 187.5L157.9 188.7L158.0 190.0L158.0 191.2L158.1 192.4L158.2 193.5L158.3 194.7L158.3 195.8L158.4 196.9L158.5 198.0L158.5 199.1L158.6 200.1L158.7 201.2L158.7 202.2L158.8 203.1L158.8 204.1L158.9 205.0L159.0 206.8L159.1 208.3L159.2 209.8L159.3 211.1L159.3 212.2L159.4 213.3L159.4 214.3L159.5 215.3L159.5 216.2L159.6 217.1L159.7 218.1L159.7 219.0L159.8 220.1L159.8 221.2"/>
<path d="M159.8 221.2L159.9 222.4L160.0 223.8L160.1 225.3L160.2 227.0L160.3 227.9L160.3 228.9L160.4 229.9L160.5 230.9L160.5 232.0L160.6 233.0L160.7 234.1L160.7 235.2L160.8 236.4L160.9 237.5L161.0 238.7L161.1 239.9L161.1 241.1L161.2 242.4L161.3 243.6L161.4 244.9L161.5 246.1L161.6 247.4L161.7 248.7L161.8 250.0L161.8 251.2L161.9 252.5L162.0 253.8L162.1 255.1L162.2 256.4L162.3 257.7L162.4 259.0L162.5 260.3L162.6 261.6L162.7 262.8L162.7 264.1L162.8 265.3L162.9 266.6L163.0 267.8L163.1 269.0L163.2 270.2L163.3 271.4L163.4 272.6L163.5 273.8L163.5 275.0L163.6 276.2L163.7 277.4L163.8 278.6L163.9 279.8L164.0 281.0L164.1 282.2L164.2 283.4L164.3 284.6L164.4 285.8L164.5 287.0L164.6 288.2L164.6 289.4L164.7 290.6L164.8 291.8L164.9 293.0L165.0 294.2L165.1 295.4L165.2 296.6L165.3 297.8L165.4 299.0L165.5 300.2L165.6 301.4L165.7 302.6L165.8 303.8L165.9 305.0L165.9 306.2L166.0 307.4L166.1 308.6L166.2 309.8L166.3 311.0L166.4 312.2L166.5 313.5L166.6 314.7L166.7 315.9L166.8 317.1L166.8 318.4L166.9 319.6L167.0 320.8L167.1 322.0L167.2 323.2L167.3 324.4L167.4 325.7L167.5 326.9L167.6 328.1L167.7 329.3L167.8 330.5L167.8 331.8L167.9 333.0L168.0 334.2L168.1 335.4L168.2 336.6L168.3 337.9L168.4 339.1L168.5 340.3L168.5 341.6L168.6 342.8L168.7 344.0L168.8 345.3L168.9 346.5L169.0 347.8L169.1 349.0L169.1 350.3L169.2 351.5L169.3 352.8L169.4 354.0L169.4 355.1L169.5 356.3L169.6 357.5L169.7 358.7L169.7 359.9L169.8 361.1L169.9 362.3L169.9 363.5L170.0 364.7L170.1 365.9L170.1 367.1L170.2 368.3L170.3 369.5L170.3 370.7L170.4 372.0L170.5 373.2L170.5 374.4L170.6 375.6L170.7 376.8L170.7 378.0L170.8 379.3L170.8 380.5L170.9 381.7L171.0 382.9L171.0 384.1L171.1 385.3L171.2 386.5L171.2 387.7L171.3 388.9"/>
<path d="M171.3 388.9L171.4 390.1L171.4 391.3L171.5 392.5L171.6 393.7L171.7 394.9L171.7 396.0L171.8 397.2L171.9 398.4L172.0 399.7L172.0 400.9L172.1 402.1L172.2 403.4L172.3 404.6L172.4 405.8L172.4 407.0L172.5 408.3L172.6 409.5L172.7 410.7L172.8 411.9L172.9 413.2L173.0 414.4L173.0 415.6L173.1 416.8L173.2 418.0L173.3 419.2L173.4 420.4L173.5 421.6L173.5 422.8L173.6 424.0L173.7 425.2L173.8 426.4L173.9 427.6L174.0 428.7L174.1 429.9L174.1 431.1L174.2 432.2L174.3 433.4L174.4 434.6L174.5 435.7L174.5 436.8L174.6 438.0L174.7 439.1L174.8 440.4L174.9 441.7L175.0 443.0L175.1 444.2L175.1 445.5L175.2 446.7L175.3 447.9L175.4 449.1L175.5 450.3L175.6 451.5L175.6 452.7L175.7 453.9L175.8 455.1L175.9 456.2L176.0 457.4L176.0 458.6L176.1 459.8L176.2 461.0L176.3 462.2L176.4 463.4L176.4 464.6L176.5 465.8L176.6 467.0L176.7 468.2L176.8 469.5L176.9 470.8L176.9 472.0L177.0 473.3L177.1 474.7L177.2 476.0L177.3 477.1L177.3 478.3L177.4 479.5L177.5 480.7L177.6 481.9L177.7 483.2L177.7 484.4L177.8 485.7L177.9 487.0L178.0 488.3L178.1 489.6L178.2 490.9L178.2 492.2L178.3 493.6L178.4 494.9L178.5 496.2L178.6 497.5L178.7 498.9L178.7 500.2L178.8 501.5L178.9 502.8L179.0 504.1L179.1 505.4L179.1 506.6L179.2 507.9L179.3 509.1L179.4 510.3L179.5 511.5L179.5 512.7L179.6 513.8L179.7 514.9L179.7 516.0L179.8 517.0L179.9 518.1L179.9 519.1L180.0 520.0L180.1 521.7L180.2 523.3L180.3 524.8L180.4 526.1L180.5 527.5L180.6 528.7L180.6 529.8L180.7 531.0L180.8 532.0L180.9 533.1L180.9 534.1L181.0 535.1L181.1 536.2L181.2 537.2L181.2 538.3L181.3 539.4L181.4 540.5L181.5 541.7L181.6 543.0L181.7 544.1L181.8 545.3L181.9 546.4L182.0 547.5L182.1 548.6L182.2 549.7L182.2 550.8L182.3 552.0L182.4 553.1L182.5 554.3L182.6 555.4L182.8 556.6"/>
<path d="M182.8 556.6L182.9 557.8L183.0 559.1L183.1 560.3L183.2 561.6L183.3 562.9L183.5 564.2L183.6 565.6L183.7 567.0L183.9 568.5L184.0 570.0L184.1 571.0L184.2 572.1L184.3 573.2L184.4 574.4L184.5 575.6L184.6 576.8L184.8 578.0L184.9 579.3L185.0 580.6L185.1 581.9L185.3 583.2L185.4 584.6L185.5 585.9L185.6 587.2L185.8 588.6L185.9 590.0L186.0 591.3L186.2 592.6L186.3 594.0L186.4 595.3L186.6 596.6L186.7 597.9L186.8 599.2L186.9 600.4L187.1 601.6L187.2 602.8L187.3 604.0L187.4 605.1L187.6 606.1L187.7 607.2L187.8 608.2L187.9 609.1L188.0 610.0L188.2 611.9L188.5 613.7L188.7 615.3L189.0 616.8L189.2 618.1L189.4 619.4L189.6 620.5L189.8 621.6L190.0 622.5L190.2 623.5L190.4 624.4L190.6 625.2L190.8 626.1L191.0 627.0L191.4 628.9L191.8 630.6L192.2 632.1L192.5 633.3L192.8 634.2L193.0 635.0L193.5 635.5L194.2 636.0L195.0 636.7"/>
<path d="M195.0 636.7L195.9 637.5L196.9 638.3L197.9 639.2L199.0 640.1L200.1 641.1L201.2 642.0L202.3 642.9L203.4 643.8L204.4 644.6L205.3 645.3L206.2 645.9L207.4 646.8L208.6 647.7L209.7 648.5L210.7 649.2L211.7 649.9L212.7 650.4L213.8 650.7L214.9 650.9L216.1 650.8L217.0 650.6L218.0 650.2L219.0 649.6L220.0 649.0L221.1 648.2L222.1 647.4L223.2 646.5L224.2 645.6L225.3 644.7L226.3 643.8L227.4 643.0L228.4 642.2L229.4 641.4L230.5 640.6L231.5 639.7L232.5 638.8L233.6 638.0L234.6 637.1L235.7 636.2L236.7 635.4L237.7 634.6L238.7 633.9L239.7 633.3L240.7 632.8L242.0 632.2L243.2 631.8L244.4 631.4L245.6 631.2L246.8 631.0L248.0 630.9L249.2 630.9L250.5 631.0L251.8 631.1L252.8 631.3L253.9 631.5L255.1 631.8L256.2 632.2L257.4 632.5L258.5 633.0L259.7 633.4L260.9 633.9L262.0 634.4L263.2 635.0L264.3 635.5L265.4 636.0"/>
<path d="M265.4 636.0L266.6 636.6L267.8 637.2L269.0 637.8L270.2 638.5L271.4 639.1L272.5 639.8L273.6 640.5L274.7 641.2L275.8 641.9L276.8 642.7L277.7 643.4L278.7 644.3L279.7 645.2L280.5 646.0L281.3 646.9L282.1 647.9L282.8 648.8L283.5 649.8L284.3 650.9L285.1 652.0L285.7 652.9L286.3 653.8L286.9 654.8L287.5 655.8L288.1 656.8L288.7 657.8L289.3 658.9L289.9 660.0L290.6 661.0L291.2 662.2L291.8 663.3L292.5 664.4L293.1 665.4L293.7 666.4L294.3 667.4L294.9 668.5L295.6 669.6L296.2 670.7L296.9 671.8L297.5 672.8L298.2 673.9L298.8 675.0L299.4 676.1L300.0 677.1L300.6 678.1L301.1 679.1L301.7 680.3L302.4 681.4L302.9 682.6L303.5 683.6L304.0 684.7L304.5 685.7L305.1 686.8L305.6 687.9L306.1 689.1L306.7 690.2L307.3 691.5L307.8 692.5L308.3 693.6L308.9 694.8L309.4 696.0L310.0 697.1L310.5 698.4L311.1 699.6L311.6 700.8L312.2 702.0L312.7 703.2"/>
<path d="M312.7 703.2L313.3 704.3L313.8 705.4L314.2 706.5L314.7 707.5L315.3 708.8L315.8 710.1L316.3 711.3L316.7 712.4L317.2 713.5L317.6 714.6L318.0 715.6L318.5 716.6L319.0 717.6L319.6 718.6L320.3 719.7L321.1 720.7L321.9 721.7L322.7 722.6L323.5 723.5L324.4 724.4L325.3 725.3L326.1 726.3L327.0 727.2L327.9 728.2L328.9 729.3L329.9 730.4L331.0 731.5L332.0 732.6L332.9 733.6L333.7 734.5L334.5 735.2L335.0 735.8L335.6 735.3L336.4 734.7L337.3 733.9"/>
<path d="M337.3 733.9L338.3 733.0L339.4 732.1L340.5 731.1L341.6 730.2L342.6 729.3L343.4 728.5L344.4 727.5L345.4 726.6L346.2 725.7L347.0 724.7L347.7 723.5L348.5 722.0L348.9 721.1L349.3 720.2L349.7 719.3L350.1 718.3L350.4 717.2L350.8 716.1L351.2 715.0L351.6 713.7L351.9 712.4L352.2 711.0L352.6 709.6L352.9 708.0L353.1 707.0L353.3 706.0L353.4 705.0L353.6 703.9L353.8 702.8L353.9 701.6L354.1 700.5L354.2 699.3L354.4 698.0L354.5 696.8L354.7 695.5L354.8 694.3L355.0 693.0L355.1 691.6L355.2 690.3L355.4 688.9L355.5 687.6L355.7 686.2L355.8 684.8L356.0 683.4L356.1 682.3L356.2 681.2L356.4 680.0L356.5 678.8L356.6 677.6L356.8 676.4L356.9 675.2L357.0 673.9L357.1 672.6L357.3 671.3L357.4 670.0L357.5 668.8L357.7 667.5L357.8 666.2L357.9 664.9L358.0 663.6L358.2 662.3L358.3 661.1L358.4 659.8L358.5 658.6L358.7 657.4L358.8 656.2L358.9 655.0L359.0 653.9L359.1 652.8L359.2 651.7L359.3 650.3L359.5 649.0L359.6 647.7L359.7 646.5L359.8 645.4L359.9 644.3L360.1 643.2L360.2 642.1L360.3 641.1L360.4 640.0L360.5 638.9L360.6 637.8L360.7 636.7L360.8 635.5L360.9 634.2L361.0 632.9L361.1 631.5L361.2 630.1L361.3 628.5L361.4 627.5L361.4 626.5L361.5 625.5L361.6 624.5L361.6 623.5L361.7 622.4L361.8 621.4L361.8 620.3L361.9 619.2L362.0 618.1L362.0 617.0L362.1 615.8L362.2 614.7L362.2 613.5L362.3 612.3L362.3 611.1L362.4 609.9L362.5 608.7L362.5 607.4L362.6 606.2L362.7 604.9L362.7 603.6L362.8 602.3L362.9 601.0L362.9 599.7L363.0 598.3L363.1 597.0L363.1 595.6L363.2 594.2L363.3 592.8L363.3 591.4L363.4 590.0L363.4 589.0L363.5 587.9L363.5 586.9L363.6 585.8L363.6 584.7L363.7 583.7L363.7 582.6L363.8 581.5L363.8 580.4L363.9 579.4L363.9 578.3L364.0 577.2L364.0 576.0L364.1 574.9L364.1 573.8L364.2 572.7L364.2 571.5L364.3 570.4L364.3 569.2L364.4 568.1L364.4 566.9L364.5 565.7L364.5 564.5L364.6 563.3L364.6 562.1L364.7 560.9L364.7 559.7L364.8 558.4L364.8 557.2L364.9 555.9L364.9 554.6L365.0 553.4L365.0 552.1L365.0 550.8L365.1 549.4L365.1 548.1L365.2 546.8L365.2 545.4L365.3 544.0L365.3 542.7L365.4 541.3L365.4 539.9L365.5 538.4L365.5 537.0L365.5 536.0L365.6 534.9L365.6 533.8L365.6 532.7L365.7 531.6L365.7 530.5L365.7 529.4L365.7 528.3L365.8 527.2L365.8 526.0L365.8 524.8L365.9 523.7L365.9 522.5L365.9 521.3L365.9 520.1L366.0 518.9L366.0 517.7L366.0 516.5L366.1 515.3L366.1 514.1L366.1 512.8L366.1 511.6L366.2 510.4L366.2 509.1L366.2 507.9L366.3 506.6L366.3 505.4L366.3 504.1L366.3 502.8L366.4 501.6L366.4 500.3L366.4 499.0L366.4 497.8L366.5 496.5L366.5 495.2L366.5 493.9L366.5 492.7L366.6 491.4L366.6 490.1L366.6 488.8L366.7 487.6L366.7 486.3L366.7 485.0L366.7 483.8L366.8 482.5L366.8 481.3L366.8 480.0L366.8 478.7L366.9 477.5L366.9 476.3L366.9 475.0L367.0 473.8L367.0 472.6L367.0 471.3L367.0 470.1L367.1 468.9L367.1 467.7L367.1 466.5L367.1 465.3L367.2 464.2L367.2 463.0L367.2 461.7L367.3 460.5L367.3 459.2L367.3 458.0L367.4 456.7L367.4 455.5L367.4 454.2L367.4 453.0L367.5 451.7L367.5 450.5L367.5 449.2L367.6 448.0L367.6 446.8L367.6 445.6L367.7 444.3L367.7 443.1L367.7 441.9L367.7 440.7L367.8 439.4L367.8 438.2L367.8 437.0L367.9 435.8L367.9 434.6L367.9 433.4L368.0 432.2L368.0 431.0L368.0 429.8L368.1 428.6L368.1 427.4L368.1 426.2L368.1 425.0L368.2 423.8L368.2 422.6L368.2 421.4L368.3 420.2L368.3 419.0L368.3 417.8L368.4 416.6L368.4 415.4L368.4 414.2L368.5 413.0L368.5 411.8L368.5 410.6L368.5 409.4L368.6 408.2L368.6 407.0L368.6 405.8L368.7 404.6L368.7 403.4L368.7 402.2L368.8 401.0L368.8 399.8L368.8 398.6L368.8 397.4L368.9 396.2L368.9 395.0L368.9 393.8L369.0 392.5L369.0 391.3L369.0 390.1L369.0 388.9L369.1 387.6L369.1 386.4L369.1 385.2L369.2 383.9L369.2 382.7L369.2 381.5L369.2 380.3L369.3 379.0L369.3 377.8L369.3 376.6L369.4 375.3L369.4 374.1L369.4 372.9L369.4 371.7L369.5 370.4L369.5 369.2L369.5 368.0L369.5 366.8L369.6 365.5L369.6 364.3L369.6 363.1L369.6 361.9L369.7 360.6L369.7 359.4L369.7 358.2L369.8 357.0L369.8 355.8L369.8 354.5L369.8 353.3L369.9 352.1L369.9 350.9L369.9 349.7L370.0 348.5L370.0 347.2L370.0 346.0L370.0 344.8L370.1 343.6L370.1 342.4L370.1 341.2L370.2 340.0L370.2 338.8L370.2 337.6L370.3 336.4L370.3 335.2L370.3 334.0L370.4 332.8L370.4 331.6L370.4 330.4L370.5 329.2L370.5 328.0L370.5 326.8L370.6 325.5L370.6 324.3L370.7 323.1L370.7 321.9L370.7 320.7L370.8 319.5L370.8 318.3L370.9 317.1L370.9 315.9L370.9 314.8L371.0 313.6L371.0 312.4L371.1 311.2L371.1 310.1L371.2 308.9L371.2 307.8L371.2 306.6L371.3 305.4L371.3 304.3L371.4 303.1L371.4 301.9L371.5 300.8L371.5 299.6L371.6 298.5L371.6 297.3L371.7 296.1L371.7 295.0L371.7 293.8L371.8 292.6L371.8 291.4L371.9 290.3L371.9 289.1L372.0 287.9L372.0 286.7L372.1 285.5L372.1 284.3L372.2 283.1L372.2 281.9L372.2 280.6L372.3 279.4L372.3 278.2L372.4 276.9L372.4 275.7L372.5 274.4L372.5 273.1L372.6 271.9L372.6 270.6L372.6 269.3L372.7 268.0L372.7 266.7L372.8 265.3L372.8 264.0L372.8 262.9L372.9 261.8L372.9 260.6L372.9 259.5L373.0 258.3L373.0 257.1L373.0 255.9L373.1 254.7L373.1 253.5L373.1 252.3L373.1 251.0L373.2 249.8L373.2 248.5L373.2 247.2L373.3 245.9L373.3 244.6L373.3 243.3L373.4 242.0L373.4 240.7L373.4 239.4L373.5 238.1L373.5 236.8L373.5 235.4L373.5 234.1L373.6 232.8L373.6 231.4L373.6 230.1L373.7 228.8L373.7 227.4L373.7 226.1L373.8 224.8L373.8 223.4L373.8 222.1L373.8 220.8L373.9 219.5L373.9 218.2L373.9 216.9L374.0 215.6L374.0 214.3L374.0 213.0L374.0 211.7L374.1 210.5L374.1 209.2L374.1 208.0L374.2 206.7L374.2 205.5L374.2 204.3L374.2 203.1L374.3 202.0L374.3 200.8L374.3 199.6L374.3 198.5L374.4 197.4L374.4 196.3L374.4 195.2L374.5 194.2L374.5 193.1L374.5 192.1L374.5 191.1L374.6 190.1L374.6 189.2L374.6 188.3L374.6 187.3L374.7 186.5L374.7 185.6L374.8 183.6L374.8 181.6L374.9 179.8L375.0 178.1L375.0 176.6L375.1 175.1L375.1 173.7L375.2 172.4L375.3 171.1L375.3 170.0L375.4 168.9L375.4 167.8L375.5 166.8L375.6 165.8L375.6 164.9L375.7 163.9L375.7 163.0L375.8 162.1L375.8 161.2L375.9 160.2L376.0 159.3L376.0 158.3L376.1 157.3L376.2 156.3L376.2 155.2L376.3 154.0L376.4 152.7L376.4 151.3L376.5 149.9L376.6 148.3L376.7 146.8L376.7 145.1L376.8 143.5L376.9 141.8L377.0 140.1L377.1 138.5L377.1 136.8L377.2 135.2L377.3 133.7L377.4 132.2L377.5 130.8L377.5 129.5L377.6 128.3L377.7 127.2L377.8 126.2L377.9 125.4L378.0 124.7L378.0 124.2L378.1 123.8L378.2 123.7L378.3 123.8L378.4 124.0L378.4 124.4L378.5 124.8L378.6 125.4L378.7 126.1L378.7 126.9L378.8 127.8L378.9 128.8L379.0 129.9L379.0 131.0L379.1 132.3L379.2 133.6L379.3 134.9L379.4 136.3L379.4 137.8L379.5 139.2L379.6 140.7L379.7 142.3L379.8 143.8L379.8 145.4L379.9 146.9L380.0 148.5L380.1 150.0L380.1 151.6L380.2 153.1L380.3 154.6L380.3 156.0L380.4 157.4L380.5 158.7L380.5 160.0L380.6 161.2L380.6 162.3L380.7 163.4L380.8 164.8L380.8 166.1L380.9 167.3L380.9 168.3L381.0 169.4L381.0 170.3L381.0 171.2L381.0 172.1L381.1 172.9L381.1 173.8L381.1 174.6L381.1 175.5L381.1 176.5L381.2 177.4L381.2 178.5L381.2 179.6L381.3 180.8L381.3 182.2L381.4 183.6L381.5 185.2L381.6 187.0L381.7 188.9L381.8 191.0L381.8 191.8L381.9 192.7L382.0 193.6L382.0 194.5L382.1 195.5L382.1 196.4L382.2 197.4L382.3 198.4L382.3 199.5L382.4 200.5L382.5 201.6L382.5 202.7L382.6 203.8L382.7 204.9L382.8 206.1L382.8 207.3L382.9 208.4L383.0 209.6L383.1 210.8L383.2 212.1L383.2 213.3L383.3 214.5L383.4 215.8L383.5 217.1L383.6 218.3L383.7 219.6L383.8 220.9L383.9 222.2L383.9 223.5L384.0 224.8L384.1 226.2L384.2 227.5L384.3 228.8L384.4 230.1L384.5 231.5L384.6 232.8L384.7 234.2L384.7 235.5L384.8 236.8L384.9 238.2L385.0 239.5L385.1 240.8L385.2 242.1L385.3 243.5L385.3 244.8L385.4 246.1L385.5 247.4L385.6 248.7L385.7 250.0L385.7 251.2L385.8 252.5L385.9 253.8L386.0 255.0L386.0 256.2L386.1 257.5L386.2 258.7L386.3 259.9L386.3 261.1L386.4 262.2L386.4 263.4L386.5 264.5L386.6 265.8L386.6 267.1L386.7 268.4L386.8 269.7L386.8 271.0L386.9 272.3L386.9 273.5L387.0 274.8L387.0 276.0L387.1 277.3L387.1 278.5L387.2 279.8L387.2 281.0L387.3 282.2L387.3 283.4L387.4 284.7L387.4 285.9L387.5 287.1L387.5 288.3L387.6 289.5L387.6 290.7L387.6 291.9L387.7 293.1L387.7 294.3L387.8 295.5L387.8 296.7L387.8 297.8L387.9 299.0L387.9 300.2L388.0 301.4L388.0 302.6L388.0 303.8L388.1 305.0L388.1 306.2L388.1 307.3L388.2 308.5L388.2 309.7L388.3 310.9L388.3 312.1L388.3 313.3L388.4 314.5L388.4 315.7L388.4 316.9L388.5 318.1L388.5 319.4L388.6 320.6L388.6 321.8L388.6 323.0L388.7 324.3L388.7 325.5L388.8 326.7L388.8 328.0L388.8 329.2L388.9 330.4L388.9 331.6L389.0 332.8L389.0 334.0L389.0 335.2L389.1 336.4L389.1 337.6L389.2 338.8L389.2 340.0L389.2 341.2L389.3 342.4L389.3 343.6L389.4 344.8L389.4 346.0L389.4 347.2L389.5 348.4L389.5 349.6L389.6 350.8L389.6 352.1L389.6 353.3L389.7 354.5L389.7 355.7L389.8 356.9L389.8 358.2L389.8 359.4L389.9 360.6L389.9 361.8L390.0 363.1L390.0 364.3L390.0 365.5L390.1 366.7L390.1 368.0L390.2 369.2L390.2 370.4L390.2 371.6L390.3 372.9L390.3 374.1L390.4 375.3L390.4 376.6L390.4 377.8L390.5 379.0L390.5 380.3L390.6 381.5L390.6 382.7L390.6 383.9L390.7 385.2L390.7 386.4L390.8 387.6L390.8 388.9L390.8 390.1L390.9 391.3L390.9 392.5L391.0 393.8L391.0 395.0L391.0 396.2L391.1 397.4L391.1 398.6L391.2 399.8L391.2 401.0L391.2 402.2L391.3 403.4L391.3 404.6L391.3 405.8L391.4 407.0L391.4 408.2L391.4 409.4L391.5 410.6L391.5 411.8L391.5 413.0L391.6 414.2L391.6 415.4L391.6 416.6L391.7 417.8L391.7 419.0L391.7 420.2L391.8 421.4L391.8 422.6L391.9 423.8L391.9 425.0L391.9 426.2L392.0 427.4L392.0 428.6L392.0 429.8L392.1 431.0L392.1 432.2L392.1 433.4L392.2 434.6L392.2 435.8L392.3 437.0L392.3 438.2L392.3 439.4L392.4 440.7L392.4 441.9L392.5 443.1L392.5 444.3L392.6 445.6L392.6 446.8L392.6 448.0L392.7 449.2L392.7 450.5L392.8 451.7L392.8 453.0L392.9 454.2L393.0 455.5L393.0 456.7L393.1 458.0L393.1 459.2L393.2 460.5L393.2 461.7L393.3 463.0L393.4 464.2L393.4 465.3L393.5 466.5L393.5 467.7L393.6 468.9L393.7 470.1L393.7 471.3L393.8 472.6L393.9 473.8L393.9 475.0L394.0 476.3L394.1 477.5L394.2 478.7L394.2 480.0L394.3 481.3L394.4 482.5L394.5 483.8L394.5 485.0L394.6 486.3L394.7 487.6L394.8 488.8L394.9 490.1L394.9 491.4L395.0 492.7L395.1 493.9L395.2 495.2L395.3 496.5L395.4 497.8L395.4 499.0L395.5 500.3L395.6 501.6L395.7 502.8L395.8 504.1L395.9 505.4L395.9 506.6L396.0 507.9L396.1 509.1L396.2 510.4L396.3 511.6L396.4 512.8L396.5 514.1L396.5 515.3L396.6 516.5L396.7 517.7L396.8 518.9L396.9 520.1L396.9 521.3L397.0 522.5L397.1 523.7L397.2 524.8L397.3 526.0L397.3 527.2L397.4 528.3L397.5 529.4L397.6 530.5L397.6 531.6L397.7 532.7L397.8 533.8L397.9 534.9L397.9 536.0L398.0 537.0L398.1 538.4L398.2 539.8L398.3 541.2L398.4 542.6L398.5 544.0L398.6 545.3L398.7 546.6L398.7 547.9L398.8 549.2L398.9 550.5L399.0 551.8L399.1 553.0L399.2 554.3L399.3 555.5L399.4 556.7L399.5 557.9L399.5 559.1L399.6 560.3L399.7 561.5L399.8 562.6L399.9 563.8L400.0 564.9L400.1 566.1L400.1 567.2L400.2 568.4L400.3 569.5L400.4 570.6L400.5 571.8L400.5 572.9L400.6 574.0L400.7 575.1L400.8 576.3L400.8 577.4L400.9 578.5L401.0 579.6L401.1 580.8L401.1 581.9L401.2 583.0L401.3 584.2L401.3 585.3L401.4 586.5L401.5 587.7L401.5 588.8L401.6 590.0L401.7 591.2L401.7 592.5L401.8 593.7L401.8 595.0L401.9 596.3L402.0 597.6L402.0 598.8L402.1 600.1L402.1 601.4L402.2 602.7L402.2 604.0L402.3 605.3L402.3 606.6L402.3 607.9L402.4 609.1L402.4 610.4L402.5 611.7L402.5 613.0L402.5 614.3L402.6 615.6L402.6 616.8L402.7 618.1L402.7 619.3L402.7 620.6L402.8 621.8L402.8 623.1L402.9 624.3L402.9 625.5L402.9 626.7L403.0 627.9L403.0 629.1L403.1 630.2L403.1 631.4L403.2 632.5L403.2 633.6L403.3 634.7L403.3 635.8L403.4 636.9L403.4 638.0L403.5 639.0L403.5 640.0L403.6 641.0L403.7 642.6L403.8 644.1L403.9 645.5L404.0 646.9L404.1 648.2L404.2 649.5L404.3 650.8L404.5 652.0L404.6 653.2L404.7 654.3L404.8 655.5L404.9 656.6L405.1 657.7L405.2 658.8L405.3 659.9L405.4 661.0L405.6 662.1L405.7 663.2L405.8 664.3L406.0 665.4L406.1 666.6L406.2 667.8L406.4 669.0L406.5 670.2L406.7 671.5L406.8 672.8L406.9 673.9L407.0 675.1L407.2 676.3L407.3 677.5L407.4 678.7L407.5 679.9L407.7 681.2L407.8 682.4L407.9 683.7L408.1 685.0L408.2 686.3L408.4 687.6L408.5 688.9L408.6 690.2L408.8 691.5L408.9 692.8L409.0 694.1L409.2 695.4L409.3 696.6L409.5 697.9L409.6 699.2L409.8 700.4L409.9 701.7L410.0 702.9L410.2 704.1L410.3 705.3L410.5 706.5L410.6 707.6L410.7 708.7L410.9 709.8L411.0 710.9L411.2 712.3L411.4 713.7L411.5 715.1L411.7 716.5L411.9 717.8L412.1 719.2L412.3 720.5L412.5 721.8L412.6 723.0L412.8 724.3"/>
<path d="M412.8 724.3L413.0 725.5L413.2 726.7L413.4 727.9L413.6 729.1L413.7 730.2L413.9 731.3L414.1 732.4L414.3 733.5L414.5 734.5L414.7 735.5L414.8 736.5L415.0 737.4L415.2 738.3L415.6 740.1L415.9 741.6L416.3 743.0L416.6 744.2L417.0 745.3L417.3 746.4L417.7 747.4L418.1 748.5L418.5 749.6L418.9 750.7L419.4 752.0L419.8 753.1L420.2 754.1L420.6 755.2L421.0 756.3L421.5 757.4L421.9 758.5L422.4 759.6L422.8 760.8L423.3 761.9L423.8 763.1L424.3 764.3L424.8 765.5L425.3 766.7L425.8 768.0L426.2 769.1L426.7 770.2L427.1 771.3L427.5 772.5L428.0 773.6L428.4 774.8L428.9 776.0L429.4 777.2L429.8 778.4L430.3 779.7L430.8 780.8L431.2 782.0L431.7 783.2L432.2 784.3L432.7 785.4L433.1 786.5L433.6 787.5L434.2 788.8L434.8 790.0L435.5 791.3L436.1 792.4L436.7 793.6L437.3 794.7L438.0 795.8L438.6 796.9L439.2 798.0L439.9 799.0L440.5 800.0L441.1 801.0L441.8 802.0L442.6 803.1"/>
<path d="M442.6 803.1L443.4 804.2L444.2 805.3L445.0 806.3L445.8 807.3L446.6 808.3L447.4 809.2L448.2 810.2L449.0 811.1L449.8 812.1L450.6 813.0L451.4 813.9L452.2 814.9L452.9 815.8L453.7 816.7L454.5 817.6L455.3 818.5L456.0 819.3L456.8 820.2L457.7 821.1L458.5 822.0L459.4 822.9L460.2 823.7L461.1 824.5L462.0 825.4L462.9 826.2L463.8 827.0L464.8 827.9L465.7 828.7L466.7 829.5L467.6 830.3L468.5 831.1L469.5 832.0L470.4 832.8L471.3 833.6L472.3 834.5L473.2 835.3L474.1 836.1L475.1 837.0L476.0 837.8L477.0 838.7L477.9 839.5L478.8 840.3L479.7 841.1L480.6 841.9L481.4 842.7L482.4 843.6L483.3 844.5L484.2 845.4L485.1 846.2L485.9 847.0L486.8 847.9L487.6 848.7L488.5 849.6L489.4 850.5L490.3 851.5L491.1 852.3L491.9 853.2L492.7 854.1L493.5 855.0L494.4 855.9L495.2 856.9L496.0 857.8L496.9 858.8L497.7 859.7L498.5 860.6L499.4 861.6L500.2 862.5"/>
<path d="M500.2 862.5L501.0 863.4L501.9 864.3L502.7 865.3L503.6 866.2L504.4 867.1L505.3 868.1L506.1 869.0L507.0 869.9L507.8 870.8L508.6 871.7L509.4 872.6L510.1 873.5L511.0 874.5L511.8 875.5L512.5 876.5L513.3 877.4L514.0 878.4L514.7 879.3L515.5 880.3L516.2 881.3L517.0 882.4L517.8 883.5L518.4 884.4L519.1 885.4L519.8 886.3L520.5 887.3L521.2 888.3L521.9 889.4L522.5 890.4L523.2 891.5L523.9 892.5L524.6 893.6L525.3 894.6L526.0 895.7L526.6 896.7L527.3 897.8L528.0 898.9L528.7 900.1L529.3 901.2L530.0 902.4L530.7 903.5L531.3 904.6L531.9 905.7L532.6 906.8L533.2 907.9L533.7 908.9L534.3 909.9L535.0 911.1L535.6 912.2L536.2 913.3L536.8 914.3L537.3 915.3L537.9 916.3L538.5 917.4L539.1 918.5L539.8 919.8L540.3 920.8L540.9 921.8L541.4 922.8L542.0 923.9L542.7 925.0L543.3 926.2L543.9 927.3L544.5 928.5L545.1 929.6L545.8 930.8L546.4 931.9L546.9 933.0"/>
<path d="M546.9 933.0L547.5 934.1L548.1 935.2L548.6 936.3L549.2 937.4L549.7 938.5L550.2 939.6L550.7 940.6L551.2 941.7L551.8 942.8L552.3 943.9L552.9 945.0L553.5 946.1L554.1 947.3L554.7 948.3L555.3 949.4L555.9 950.5L556.5 951.7L557.2 952.8L557.8 954.0L558.5 955.1L559.2 956.3L559.8 957.4L560.5 958.6L561.1 959.7L561.7 960.7L562.3 961.7L562.9 962.7L563.7 964.0L564.4 965.2L565.1 966.4L565.8 967.5L566.4 968.5L567.0 969.6L567.7 970.6L568.3 971.6L568.9 972.7L569.5 973.7L570.2 974.9L570.8 976.0L571.4 977.1L572.0 978.2L572.5 979.3L573.1 980.4L573.7 981.4L574.3 982.5L575.0 983.6L575.7 984.7L576.4 985.8L577.1 986.9L577.9 988.0L578.6 989.1L579.4 990.1L580.1 991.2L580.9 992.2L581.6 993.1L582.4 994.1L583.3 995.2L584.2 996.2L585.1 997.2L586.0 998.1L586.8 998.9L587.5 999.6L588.2 1000.1L589.6 1001.2L591.5 1000.5"/>
<path d="M591.5 1000.5L592.2 1000.1L593.0 999.6L594.0 999.0L595.0 998.3L596.0 997.5L597.1 996.7L598.3 995.8L599.4 995.0L600.5 994.1L601.5 993.2L602.5 992.4L603.4 991.6L604.4 990.7L605.3 989.8L606.2 988.9L607.1 988.0L608.0 987.0L608.8 986.1L609.7 985.2L610.6 984.3L611.5 983.4L612.4 982.5L613.3 981.7L614.2 980.8L615.1 980.0L616.0 979.2L616.8 978.4L617.7 977.7L618.6 976.9L619.5 976.1L620.4 975.3L621.4 974.5L622.3 973.7L623.2 972.9L624.2 972.1L625.1 971.2L626.1 970.4L627.0 969.6L628.0 968.7L629.0 967.9L630.0 967.0L631.1 966.2L632.2 965.3L633.3 964.5L634.2 963.8L635.2 963.1L636.1 962.5L637.1 961.8L638.1 961.1L639.1 960.4L640.1 959.7L641.1 959.0L642.2 958.3L643.3 957.6L644.3 956.9L645.4 956.3L646.5 955.6L647.6 955.0L648.6 954.4L649.7 953.9L650.8 953.3L652.0 952.7L653.1 952.2L654.3 951.7L655.5 951.1L656.6 950.6L657.8 950.1L658.9 949.6L660.0 949.1L661.1 948.6"/>
<path d="M661.1 948.6L662.2 948.2L663.2 947.7L664.1 947.3L665.4 946.7L666.6 946.1L667.8 945.6L668.9 945.1L669.9 944.6L670.9 944.1L671.9 943.7L673.0 943.3L674.0 942.8L675.1 942.4L676.2 942.0L677.3 941.6L678.5 941.2L679.6 940.8L680.7 940.4L681.9 940.1L683.0 939.7L684.2 939.4L685.4 939.1L686.6 938.8L687.7 938.6L688.9 938.3L690.0 938.1L691.2 937.9L692.4 937.7L693.6 937.5L694.8 937.4L696.0 937.2L697.2 937.0L698.5 936.9L699.8 936.7L701.0 936.6L702.3 936.4L703.5 936.3L704.8 936.1L706.1 936.0L707.4 935.9L708.7 935.7L710.1 935.6L711.4 935.5L712.7 935.4L713.9 935.3L715.2 935.2L716.5 935.1L717.9 935.0L719.2 934.9L720.6 934.9L721.9 934.8L723.2 934.8L724.5 934.7L725.8 934.7L727.0 934.7L728.3 934.7L729.5 934.7L730.8 934.7L732.0 934.8L733.2 934.9L734.3 935.0L735.5 935.1L736.6 935.2L737.8 935.4L739.0 935.5L740.3 935.6L741.6 935.8L742.8 935.9L744.0 936.1"/>
<path d="M744.0 936.1L745.3 936.3L746.6 936.4L747.9 936.6L749.2 936.8L750.6 937.0L751.9 937.2L753.2 937.4L754.5 937.5L755.8 937.7L757.0 937.8L758.3 937.9L759.5 938.0L760.8 938.1L762.0 938.2L763.2 938.3L764.4 938.4L765.6 938.4L766.7 938.5L767.9 938.5L769.1 938.5L770.3 938.5L771.5 938.5L772.7 938.5L773.8 938.4L775.0 938.4L776.2 938.4L777.4 938.3L778.5 938.2L779.7 938.1L781.0 937.9L782.2 937.7L783.5 937.4L784.6 937.1L785.8 936.8L787.0 936.5L788.2 936.1L789.5 935.7L790.7 935.2L792.0 934.8L793.2 934.3L794.4 933.8L795.6 933.3L796.8 932.9L797.9 932.4L798.9 931.9L800.2 931.3L801.4 930.7L802.6 930.1L803.7 929.4L804.8 928.8L805.9 928.2L806.9 927.5L807.9 926.8L808.9 926.1L809.9 925.3L810.9 924.5L811.8 923.8L812.6 923.0L813.5 922.1L814.3 921.3L815.1 920.4L816.0 919.5L816.8 918.6L817.7 917.6L818.7 916.5L819.4 915.7L820.2 914.8"/>
<path d="M820.2 914.8L821.0 913.9L821.7 913.0L822.6 912.0L823.4 911.0L824.2 910.0L825.0 909.0L825.8 908.0L826.7 907.0L827.4 906.1L828.2 905.1L829.0 904.2L829.7 903.3L830.6 902.2L831.4 901.2L832.3 900.1L833.1 899.1L833.8 898.1L834.6 897.1L835.4 896.1L836.2 895.2L836.9 894.2L837.7 893.3L838.5 892.3L839.3 891.4L840.1 890.4L840.9 889.5L841.7 888.6L842.5 887.7L843.3 886.8L844.1 886.0L844.9 885.1L845.7 884.2L846.5 883.3L847.3 882.4L848.1 881.5L848.8 880.6L849.6 879.7L850.3 878.8L851.1 877.9L851.8 876.9L852.6 876.0L853.4 875.1L854.2 874.2L855.1 873.3L856.1 872.4L857.0 871.6L857.9 870.8L858.9 870.0L859.9 869.1L861.0 868.3L862.0 867.5L863.1 866.6L864.2 865.9L865.3 865.1L866.3 864.4L867.3 863.7L868.3 863.1L869.3 862.5L870.6 861.8L871.8 861.2L872.9 860.6L874.0 860.1L875.1 859.7L876.2 859.4L877.5 859.2L878.8 858.9L880.3 858.8L881.4 858.7L882.5 858.7L883.8 858.7"/>
<path d="M883.8 858.7L885.0 858.8L886.4 858.9L887.7 859.0L889.1 859.1L890.5 859.3L891.8 859.4L893.2 859.6L894.4 859.8L895.7 859.9L896.8 860.1L897.9 860.3L899.4 860.6L900.8 860.8L902.1 861.1L903.2 861.5L904.4 861.8L905.5 862.2L906.6 862.6L907.7 863.1L908.9 863.6L910.0 864.1L911.1 864.7L912.1 865.3L913.2 865.9L914.3 866.5L915.3 867.2L916.4 867.9L917.6 868.7L918.7 869.4L919.9 870.2L920.8 870.8L921.8 871.5L922.8 872.1L923.9 872.8L924.9 873.5L926.0 874.2L927.0 874.9L928.1 875.7L929.1 876.4L930.2 877.1L931.2 877.8L932.2 878.4L933.1 879.1L934.2 879.8L935.2 880.6L936.3 881.3L937.3 882.0L938.2 882.7L939.2 883.4L940.2 884.1L941.2 884.8L942.1 885.5L943.1 886.1L944.1 886.8L945.2 887.5L946.3 888.2L947.3 888.9L948.4 889.5L949.4 890.2L950.5 890.8L951.6 891.5L952.7 892.1L953.9 892.7L955.1 893.4L956.1 894.0L957.2 894.5L958.3 895.1"/>
<path d="M958.3 895.1L959.4 895.6L960.6 896.2L961.7 896.7L962.9 897.3L964.0 897.9L965.2 898.4L966.3 898.9L967.5 899.5L968.6 900.0L969.7 900.5L970.8 901.1L971.9 901.6L973.0 902.2L974.1 902.7L975.2 903.2L976.4 903.8L977.5 904.3L978.6 904.7L979.7 905.2L980.9 905.6L982.0 905.9L983.2 906.2L984.3 906.5L985.5 906.7L986.7 906.9L987.8 907.1L989.0 907.2L990.2 907.4L991.4 907.5L992.6 907.6L993.8 907.6L995.1 907.7L996.3 907.7L997.6 907.7L998.8 907.7L1000.1 907.7L1001.5 907.7L1002.8 907.6L1004.1 907.5L1005.5 907.4L1006.8 907.3L1008.1 907.2L1009.3 907.0L1010.5 906.8L1011.7 906.6L1013.0 906.3L1014.3 906.0L1015.6 905.6L1016.8 905.2L1018.0 904.7L1019.2 904.3L1020.4 903.8L1021.5 903.3L1022.6 902.7L1023.8 902.2L1024.9 901.6L1026.1 901.1L1027.1 900.5L1028.2 899.8L1029.3 899.2L1030.4 898.5L1031.5 897.8L1032.5 897.1L1033.7 896.4L1034.8 895.6L1035.8 894.9L1036.8 894.3"/>
<path d="M1036.8 894.3L1037.8 893.6L1038.8 892.9L1039.9 892.1L1040.9 891.4L1042.0 890.7L1043.0 889.9L1044.0 889.1L1045.0 888.4L1046.0 887.6L1046.9 886.8L1047.9 885.9L1048.9 885.1L1049.8 884.2L1050.7 883.3L1051.7 882.4L1052.6 881.5L1053.4 880.6L1054.3 879.6L1055.2 878.7L1056.0 877.8L1056.9 876.9L1057.7 876.0L1058.5 875.1L1059.3 874.2L1060.1 873.3L1060.9 872.4L1061.6 871.5L1062.4 870.6L1063.2 869.7L1064.0 868.8L1064.8 867.8L1065.7 866.9L1066.5 866.0L1067.4 865.1L1068.3 864.2L1069.3 863.3L1070.2 862.3L1071.2 861.4L1072.2 860.5L1073.1 859.5L1074.1 858.6L1075.0 857.7L1075.9 856.8L1076.7 855.9L1077.6 854.9L1078.4 854.0L1079.3 853.0L1080.1 852.1L1080.8 851.1L1081.6 850.2L1082.4 849.3L1083.2 848.4L1083.9 847.6L1084.7 846.8L1085.5 846.0L1086.5 845.1L1087.4 844.3L1088.4 843.6L1089.3 842.8L1090.2 842.2L1091.2 841.5L1092.2 840.8L1093.2 840.1L1094.3 839.4L1095.3 838.7L1096.4 838.0"/>
<path d="M1096.4 838.0L1097.5 837.4L1098.6 836.7L1099.8 836.0L1101.0 835.3L1102.1 834.6L1103.2 834.0L1104.3 833.4L1105.3 832.8L1106.5 832.1L1107.7 831.5L1108.8 830.9L1109.8 830.3L1110.9 829.7L1112.0 829.2L1113.0 828.8L1114.1 828.4L1115.3 828.0L1116.6 827.7L1117.8 827.4L1119.0 827.2L1120.2 827.0L1121.5 826.9L1122.9 826.9L1124.0 826.9L1125.2 827.0L1126.4 827.1L1127.6 827.2L1128.9 827.4L1130.1 827.6L1131.4 827.8L1132.7 828.1L1133.9 828.4L1135.1 828.7L1136.3 829.1L1137.5 829.5L1138.7 829.9L1139.9 830.4L1141.2 830.9L1142.4 831.4L1143.7 831.9L1145.0 832.5L1146.0 833.0L1147.1 833.4L1148.1 833.9L1149.2 834.5L1150.3 835.0L1151.4 835.6L1152.5 836.1L1153.6 836.7L1154.7 837.3L1155.8 837.9L1156.9 838.4L1158.0 839.0L1159.1 839.6L1160.2 840.1L1161.3 840.7L1162.4 841.3L1163.5 841.9L1164.6 842.5L1165.8 843.1L1166.9 843.7L1168.0 844.3L1169.1 844.9L1170.2 845.4L1171.3 846.0L1172.4 846.6L1173.5 847.1L1174.6 847.7"/>
<path d="M1174.6 847.7L1175.7 848.2L1176.8 848.8L1177.9 849.3L1179.0 849.9L1180.1 850.4L1181.2 851.0L1182.3 851.5L1183.4 852.1L1184.5 852.6L1185.6 853.2L1186.7 853.7L1187.8 854.3L1188.9 854.9L1190.0 855.5L1191.1 856.1L1192.2 856.6L1193.3 857.2L1194.4 857.7L1195.5 858.3L1196.6 858.7L1197.7 859.2L1198.9 859.7L1200.1 860.1L1201.2 860.5L1202.4 860.9L1203.6 861.2L1204.7 861.5L1205.9 861.8L1207.1 862.1L1208.4 862.4L1209.7 862.7L1211.0 863.0L1212.2 863.2L1213.4 863.5L1214.7 863.7L1216.0 863.9L1217.3 864.1L1218.7 864.3L1220.0 864.4L1221.3 864.6L1222.6 864.8L1223.9 864.9L1225.2 865.0L1226.4 865.2L1227.5 865.3L1228.9 865.4L1230.2 865.5L1231.5 865.5L1232.7 865.6L1233.8 865.6L1235.0 865.6L1236.1 865.7L1237.3 865.7L1238.4 865.8L1239.6 866.0L1240.8 866.2L1242.0 866.4L1243.1 866.6L1244.3 866.8L1245.5 867.0L1246.7 867.3L1247.8 867.7L1249.0 868.1L1250.3 868.6L1251.5 869.2L1252.5 869.7L1253.5 870.3"/>
<path d="M1253.5 870.3L1254.6 871.0L1255.7 871.7L1256.7 872.4L1257.8 873.2L1258.9 874.0L1260.0 874.8L1261.0 875.7L1262.0 876.5L1263.0 877.4L1263.9 878.2L1264.7 879.1L1265.6 880.1L1266.4 881.2L1267.1 882.2L1267.8 883.3L1268.5 884.5L1269.1 885.6L1269.7 886.7L1270.2 887.8L1270.8 889.0L1271.4 890.1L1272.1 891.2L1272.8 892.3L1273.4 893.4L1274.1 894.5L1274.8 895.5L1275.5 896.6L1276.1 897.7L1276.8 898.8L1277.5 899.9L1278.2 901.0L1278.8 902.1L1279.5 903.2L1280.1 904.3L1280.8 905.3L1281.4 906.4L1282.0 907.5L1282.7 908.6L1283.3 909.8L1284.0 910.9L1284.6 912.0L1285.2 913.0L1285.8 914.1L1286.3 915.1L1286.9 916.1L1287.6 917.3L1288.2 918.5L1288.8 919.6L1289.4 920.7L1289.9 921.8L1290.5 922.9L1291.1 924.0L1291.7 925.1L1292.4 926.3L1293.0 927.3L1293.6 928.4L1294.2 929.5L1294.8 930.6L1295.5 931.7L1296.1 932.8L1296.8 933.9L1297.5 935.0L1298.3 936.1L1299.0 937.2L1299.8 938.3L1300.6 939.3"/>
<path d="M1300.6 939.3L1301.4 940.2L1302.2 941.2L1303.1 942.2L1303.9 943.1L1304.8 944.1L1305.7 945.0L1306.6 945.9L1307.5 946.8L1308.4 947.7L1309.2 948.6L1310.0 949.4L1311.0 950.4L1311.9 951.4L1312.8 952.3L1313.7 953.2L1314.5 954.1L1315.4 955.0L1316.3 955.8L1317.3 956.7L1318.3 957.7L1319.1 958.4L1319.9 959.2L1320.8 960.0L1321.7 960.8L1322.5 961.6L1323.4 962.4L1324.4 963.1L1325.3 963.9L1326.3 964.7L1327.3 965.5L1328.3 966.3L1329.4 967.0L1330.4 967.6L1331.4 968.3L1332.4 968.9L1333.5 969.6L1334.6 970.2L1335.7 970.8L1336.8 971.4L1337.9 972.1L1339.0 972.6L1340.1 973.2L1341.2 973.8L1342.2 974.3L1343.2 974.8L1344.2 975.3L1345.4 975.9L1346.6 976.5L1347.7 977.0L1348.8 977.4L1349.8 977.9L1350.8 978.3L1351.9 978.7L1353.0 979.1L1354.1 979.5L1355.3 979.9L1356.5 980.3L1357.8 980.7L1359.1 981.0L1360.5 981.4L1361.8 981.8L1363.2 982.1L1364.5 982.5L1365.8 982.8L1367.0 983.1L1368.1 983.4L1369.1 983.6"/>
<path d="M1369.1 983.6L1370.9 984.0L1372.3 984.4L1373.4 984.7L1374.3 984.8L1375.0 985.0"/>
</g>
<path d="M129.5 822.0L129.6 822.7L129.7 823.5L129.9 824.4L130.1 825.5L130.2 826.6L130.4 827.9L130.7 829.2L130.9 830.5L131.1 831.9L131.3 833.4L131.6 834.8L131.8 836.3L132.0 837.7L132.3 839.2L132.5 840.6L132.7 841.9L133.0 843.2L133.2 844.5L133.4 845.6L133.6 846.7L133.9 848.2L134.2 849.7L134.4 851.1L134.7 852.4L135.0 853.7L135.2 854.9L135.5 856.1L135.7 857.2L136.0 858.3L136.3 859.4L136.6 860.5L136.9 861.6L137.2 862.7L137.6 864.0L138.0 865.2L138.4 866.5L138.9 867.7L139.3 868.9L139.8 870.0L140.2 871.1L140.7 872.2L141.2 873.2L141.7 874.1L142.2 875.0L143.0 876.2L143.9 877.3L144.7 878.3L145.6 879.2L146.5 879.9L147.4 880.6L148.3 881.2L149.5 881.9L150.7 882.5L151.9 882.9L153.2 883.1L154.5 883.2L155.6 883.2L156.7 883.0L157.8 882.8L159.0 882.4L160.4 881.9L161.9 881.2L162.8 880.7L163.8 880.2L164.8 879.6L165.9 879.0L167.0 878.3L168.2 877.6L169.3 876.9L170.5 876.1L171.7 875.4L173.0 874.6L174.2 873.8L175.2 873.2L176.2 872.5L177.2 871.8L178.2 871.1L179.3 870.4L180.4 869.7L181.4 869.0L182.5 868.2L183.6 867.5L184.7 866.8L185.8 866.1L186.9 865.4L187.9 864.7L189.0 864.0L190.1 863.3L191.1 862.7L192.2 862.0L193.2 861.4L194.3 860.8L195.3 860.1L196.4 859.5L197.5 858.9L198.5 858.3L199.6 857.7L200.6 857.1L201.7 856.5L202.7 855.9L203.8 855.3L204.9 854.7L206.1 854.1L207.2 853.5L208.4 852.9L209.5 852.3L210.6 851.7L211.8 851.2L212.9 850.6L214.0 850.1L215.2 849.5L216.3 849.0L217.5 848.5L218.6 848.0L219.7 847.5L220.9 847.0L222.0 846.6L223.2 846.1L224.3 845.6L225.4 845.2L226.6 844.8L227.7 844.4L228.9 844.0L230.0 843.6L231.1 843.2L232.3 842.8L233.4 842.5L234.6 842.2L235.8 841.8L237.0 841.5L238.1 841.3L239.3 841.0L240.4 840.7L241.6 840.5L242.8 840.3L244.1 840.0L245.4 839.8L246.7 839.5L248.1 839.3L249.2 839.1L250.4 838.9L251.6 838.7L252.8 838.5L254.1 838.3L255.4 838.2L256.7 838.0L258.0 837.8L259.3 837.6L260.6 837.4L261.9 837.2L263.2 837.1L264.4 836.9L265.6 836.7L266.8 836.6L267.9 836.4L269.3 836.2L270.7 836.0L272.0 835.9L273.3 835.7L274.5 835.6L275.7 835.4L276.9 835.3L278.1 835.1L279.2 834.9L280.3 834.8L281.5 834.6L282.6 834.4L283.9 834.2L285.2 833.9L286.5 833.7L287.7 833.4L288.9 833.1L290.2 832.8L291.4 832.5L292.6 832.2L293.8 831.8L295.0 831.4L296.1 831.0L297.3 830.6L298.4 830.1L299.6 829.6L300.7 829.1L301.9 828.6L303.0 828.1L304.1 827.5L305.2 827.0L306.3 826.4L307.3 825.8L308.4 825.2L309.4 824.5L310.4 823.9L311.4 823.2L312.4 822.5L313.3 821.8L314.2 821.0L315.2 820.2L316.1 819.4L317.1 818.4L317.9 817.6L318.6 816.8L319.4 816.0L320.2 815.1L321.0 814.2L321.8 813.2L322.6 812.3L323.4 811.3L324.1 810.2L324.9 809.2L325.6 808.2L326.3 807.1L327.0 806.0L327.6 805.0L328.2 804.0L328.8 802.9L329.3 801.9L329.9 800.8L330.4 799.7L330.9 798.6L331.4 797.5L331.9 796.3L332.4 795.1L332.9 793.9L333.4 792.6L333.9 791.3L334.4 790.0L334.8 789.0L335.1 788.0L335.4 786.9L335.8 785.9L336.1 784.8L336.5 783.7L336.8 782.6L337.1 781.5L337.4 780.4L337.7 779.2L338.1 778.0L338.4 776.9L338.7 775.6L339.0 774.4L339.3 773.2L339.6 771.9L340.0 770.6L340.3 769.2L340.6 767.9L340.8 766.9L341.1 765.8L341.3 764.7L341.6 763.6L341.9 762.5L342.1 761.4L342.4 760.2L342.6 759.1L342.9 757.9L343.1 756.7L343.4 755.5L343.6 754.3L343.9 753.1L344.1 751.9L344.4 750.7L344.6 749.4L344.9 748.2L345.1 747.0L345.3 745.7L345.6 744.5L345.8 743.3L346.0 742.0L346.3 740.8L346.5 739.5L346.7 738.3L346.9 737.1L347.1 735.9L347.3 734.7L347.5 733.6L347.7 732.4L347.9 731.2L348.1 730.0L348.3 728.8L348.4 727.6L348.6 726.4L348.8 725.2L349.0 724.0L349.2 722.8L349.3 721.5L349.5 720.3L349.7 719.1L349.8 717.8L350.0 716.6L350.2 715.3L350.3 714.1L350.5 712.8L350.7 711.5L350.8 710.2L351.0 708.9L351.1 707.6L351.3 706.3L351.4 705.1L351.6 704.0L351.7 702.8L351.8 701.6L352.0 700.3L352.1 699.1L352.2 697.8L352.3 696.6L352.5 695.3L352.6 694.1L352.7 692.8L352.8 691.5L352.9 690.2L353.1 688.9L353.2 687.6L353.3 686.3L353.4 685.1L353.5 683.8L353.6 682.5L353.7 681.2L353.8 680.0L354.0 678.7L354.1 677.5L354.2 676.3L354.3 675.1L354.4 673.9L354.5 672.7L354.6 671.6L354.7 670.4L354.8 669.3L354.9 667.9L355.1 666.7L355.2 665.4L355.3 664.2L355.4 663.0L355.5 661.9L355.6 660.8L355.8 659.7L355.9 658.7L356.0 657.6L356.1 656.5L356.2 655.5L356.3 654.4L356.4 653.3L356.5 652.2L356.6 651.0L356.7 649.8L356.8 648.6L357.0 647.3L357.1 646.0L357.2 644.6L357.3 643.1L357.4 641.6L357.5 640.0L357.6 639.0L357.6 638.0L357.7 637.0L357.8 636.0L357.8 634.9L357.9 633.8L358.0 632.7L358.0 631.6L358.1 630.5L358.1 629.3L358.2 628.1L358.3 627.0L358.3 625.8L358.4 624.6L358.5 623.3L358.5 622.1L358.6 620.9L358.7 619.6L358.7 618.4L358.8 617.1L358.9 615.8L358.9 614.5L359.0 613.3L359.0 612.0L359.1 610.7L359.2 609.4L359.2 608.1L359.3 606.8L359.4 605.5L359.4 604.2L359.5 602.8L359.6 601.5L359.6 600.2L359.7 598.9L359.8 597.7L359.8 596.4L359.9 595.1L360.0 593.8L360.1 592.5L360.1 591.3L360.2 590.0L360.3 588.8L360.3 587.6L360.4 586.5L360.5 585.3L360.5 584.1L360.6 583.0L360.7 581.8L360.8 580.7L360.8 579.5L360.9 578.4L361.0 577.2L361.1 576.1L361.1 574.9L361.2 573.8L361.3 572.7L361.4 571.5L361.4 570.4L361.5 569.2L361.6 568.1L361.7 566.9L361.7 565.7L361.8 564.6L361.9 563.4L362.0 562.2L362.0 561.0L362.1 559.8L362.2 558.6L362.3 557.4L362.3 556.1L362.4 554.9L362.5 553.6L362.6 552.3L362.6 551.1L362.7 549.8L362.8 548.4L362.9 547.1L362.9 545.8L363.0 544.4L363.1 543.0L363.2 541.6L363.3 540.2L363.3 538.8L363.4 537.3L363.5 536.3L363.5 535.2L363.6 534.1L363.6 533.0L363.7 532.0L363.7 530.9L363.8 529.7L363.8 528.6L363.9 527.5L363.9 526.3L364.0 525.2L364.0 524.0L364.1 522.9L364.2 521.7L364.2 520.5L364.3 519.3L364.3 518.1L364.4 516.9L364.4 515.7L364.5 514.4L364.5 513.2L364.6 512.0L364.7 510.7L364.7 509.5L364.8 508.3L364.8 507.0L364.9 505.7L364.9 504.5L365.0 503.2L365.0 502.0L365.1 500.7L365.1 499.4L365.2 498.2L365.3 496.9L365.3 495.6L365.4 494.3L365.4 493.1L365.5 491.8L365.5 490.5L365.6 489.3L365.6 488.0L365.7 486.7L365.7 485.5L365.8 484.2L365.8 482.9L365.9 481.7L365.9 480.4L366.0 479.2L366.0 477.9L366.1 476.7L366.1 475.4L366.2 474.2L366.2 473.0L366.3 471.8L366.3 470.5L366.4 469.3L366.4 468.1L366.5 466.9L366.5 465.7L366.6 464.6L366.6 463.4L366.6 462.2L366.7 460.9L366.7 459.7L366.8 458.4L366.8 457.2L366.9 456.0L366.9 454.7L367.0 453.5L367.0 452.3L367.0 451.1L367.1 449.8L367.1 448.6L367.2 447.4L367.2 446.2L367.3 445.0L367.3 443.8L367.3 442.6L367.4 441.3L367.4 440.1L367.5 438.9L367.5 437.7L367.5 436.5L367.6 435.3L367.6 434.1L367.6 432.9L367.7 431.7L367.7 430.6L367.8 429.4L367.8 428.2L367.8 427.0L367.9 425.8L367.9 424.6L367.9 423.4L368.0 422.2L368.0 421.0L368.0 419.9L368.1 418.7L368.1 417.5L368.2 416.3L368.2 415.1L368.2 413.9L368.3 412.8L368.3 411.6L368.3 410.4L368.4 409.2L368.4 408.0L368.4 406.8L368.5 405.7L368.5 404.5L368.5 403.3L368.6 402.1L368.6 400.9L368.7 399.7L368.7 398.6L368.7 397.4L368.8 396.2L368.8 395.0L368.8 393.8L368.9 392.5L368.9 391.3L369.0 390.1L369.0 388.8L369.0 387.6L369.1 386.4L369.1 385.1L369.1 383.9L369.2 382.7L369.2 381.5L369.2 380.2L369.3 379.0L369.3 377.8L369.4 376.5L369.4 375.3L369.4 374.1L369.5 372.8L369.5 371.6L369.5 370.4L369.6 369.2L369.6 367.9L369.6 366.7L369.7 365.5L369.7 364.3L369.8 363.0L369.8 361.8L369.8 360.6L369.9 359.4L369.9 358.1L369.9 356.9L370.0 355.7L370.0 354.5L370.0 353.3L370.1 352.0L370.1 350.8L370.1 349.6L370.2 348.4L370.2 347.2L370.3 346.0L370.3 344.8L370.3 343.6L370.4 342.4L370.4 341.2L370.4 339.9L370.5 338.7L370.5 337.5L370.5 336.3L370.6 335.2L370.6 334.0L370.7 332.8L370.7 331.6L370.7 330.4L370.8 329.2L370.8 328.0L370.8 326.8L370.9 325.5L370.9 324.3L371.0 323.1L371.0 321.8L371.0 320.6L371.1 319.4L371.1 318.2L371.1 317.1L371.2 315.9L371.2 314.7L371.3 313.5L371.3 312.4L371.3 311.2L371.4 310.0L371.4 308.9L371.4 307.7L371.5 306.6L371.5 305.4L371.5 304.3L371.6 303.1L371.6 302.0L371.7 300.8L371.7 299.7L371.7 298.5L371.8 297.3L371.8 296.2L371.8 295.0L371.9 293.8L371.9 292.7L372.0 291.5L372.0 290.3L372.0 289.1L372.1 287.9L372.1 286.7L372.2 285.5L372.2 284.2L372.2 283.0L372.3 281.8L372.3 280.5L372.4 279.3L372.4 278.0L372.5 276.7L372.5 275.4L372.6 274.1L372.6 272.8L372.7 271.4L372.7 270.1L372.7 268.7L372.8 267.3L372.8 265.9L372.9 264.5L372.9 263.4L373.0 262.3L373.0 261.2L373.1 260.1L373.1 259.0L373.1 257.8L373.2 256.6L373.2 255.4L373.3 254.2L373.3 253.0L373.4 251.7L373.4 250.5L373.5 249.2L373.5 247.9L373.6 246.7L373.6 245.4L373.7 244.0L373.7 242.7L373.8 241.4L373.8 240.1L373.9 238.7L373.9 237.4L374.0 236.0L374.0 234.7L374.1 233.3L374.1 231.9L374.2 230.6L374.2 229.2L374.3 227.8L374.3 226.5L374.4 225.1L374.4 223.7L374.5 222.4L374.5 221.0L374.6 219.7L374.6 218.3L374.7 217.0L374.7 215.6L374.8 214.3L374.8 212.9L374.9 211.6L374.9 210.3L375.0 209.0L375.0 207.7L375.1 206.4L375.1 205.2L375.2 203.9L375.2 202.7L375.3 201.4L375.3 200.2L375.4 199.0L375.4 197.8L375.5 196.6L375.5 195.5L375.6 194.4L375.6 193.2L375.7 192.1L375.7 191.1L375.8 190.0L375.8 189.0L375.9 188.0L375.9 187.0L375.9 186.0L376.0 185.1L376.0 184.2L376.1 183.3L376.1 182.4L376.1 181.6L376.2 180.8L376.2 180.0L376.3 177.2L376.5 174.8L376.6 172.7L376.7 170.9L376.8 169.3L376.9 167.9L376.9 166.8L377.0 165.8L377.1 164.9L377.2 164.1L377.2 163.4L377.3 162.8L377.4 162.2L377.5 161.5L377.5 160.8L377.6 160.0L377.7 159.1L377.8 158.0L377.9 156.6L378.0 155.0L378.1 153.4L378.3 151.8L378.4 150.1L378.5 148.5L378.6 146.8L378.7 145.3L378.9 143.9L379.0 142.6L379.1 141.4L379.2 140.4L379.3 139.7L379.5 139.2L379.6 139.0L379.7 139.1L379.9 139.5L380.0 140.1L380.2 141.0L380.3 142.1L380.4 143.4L380.6 144.8L380.7 146.3L380.9 147.9L381.0 149.6L381.2 151.2L381.3 152.9L381.5 154.5L381.6 156.0L381.7 157.0L381.8 157.8L381.9 158.6L382.0 159.4L382.1 160.1L382.2 160.8L382.3 161.5L382.4 162.2L382.5 163.0L382.6 163.8L382.7 164.7L382.8 165.7L382.9 166.8L383.0 168.1L383.1 169.6L383.2 171.2L383.4 173.1L383.5 175.1L383.7 177.4L383.8 180.0L383.8 180.8L383.9 181.6L383.9 182.5L384.0 183.3L384.0 184.2L384.1 185.1L384.1 186.1L384.2 187.1L384.2 188.1L384.3 189.1L384.3 190.1L384.4 191.2L384.4 192.3L384.5 193.4L384.6 194.5L384.6 195.6L384.7 196.8L384.7 198.0L384.8 199.1L384.8 200.3L384.9 201.6L385.0 202.8L385.0 204.0L385.1 205.3L385.1 206.6L385.2 207.9L385.3 209.1L385.3 210.5L385.4 211.8L385.4 213.1L385.5 214.4L385.6 215.7L385.6 217.1L385.7 218.4L385.8 219.8L385.8 221.1L385.9 222.5L385.9 223.9L386.0 225.2L386.1 226.6L386.1 227.9L386.2 229.3L386.2 230.7L386.3 232.0L386.4 233.4L386.4 234.7L386.5 236.1L386.5 237.4L386.6 238.8L386.7 240.1L386.7 241.5L386.8 242.8L386.8 244.1L386.9 245.4L387.0 246.7L387.0 248.0L387.1 249.3L387.1 250.5L387.2 251.8L387.2 253.0L387.3 254.2L387.3 255.4L387.4 256.6L387.4 257.8L387.5 259.0L387.5 260.1L387.6 261.2L387.6 262.3L387.7 263.4L387.7 264.5L387.8 265.9L387.8 267.3L387.9 268.7L387.9 270.1L388.0 271.4L388.0 272.8L388.1 274.1L388.1 275.4L388.2 276.7L388.2 278.0L388.3 279.3L388.3 280.5L388.4 281.8L388.4 283.0L388.4 284.2L388.5 285.5L388.5 286.7L388.6 287.9L388.6 289.1L388.6 290.3L388.7 291.5L388.7 292.7L388.8 293.8L388.8 295.0L388.8 296.2L388.9 297.3L388.9 298.5L388.9 299.7L389.0 300.8L389.0 302.0L389.1 303.1L389.1 304.3L389.1 305.4L389.2 306.6L389.2 307.7L389.2 308.9L389.3 310.0L389.3 311.2L389.3 312.4L389.4 313.5L389.4 314.7L389.4 315.9L389.5 317.1L389.5 318.2L389.5 319.4L389.6 320.6L389.6 321.8L389.6 323.1L389.7 324.3L389.7 325.5L389.8 326.8L389.8 328.0L389.8 329.2L389.9 330.4L389.9 331.6L389.9 332.8L390.0 334.0L390.0 335.2L390.0 336.3L390.1 337.5L390.1 338.7L390.2 339.9L390.2 341.2L390.2 342.4L390.3 343.6L390.3 344.8L390.3 346.0L390.4 347.2L390.4 348.4L390.4 349.6L390.5 350.8L390.5 352.0L390.5 353.3L390.6 354.5L390.6 355.7L390.6 356.9L390.7 358.1L390.7 359.4L390.7 360.6L390.8 361.8L390.8 363.0L390.8 364.3L390.9 365.5L390.9 366.7L390.9 367.9L391.0 369.2L391.0 370.4L391.0 371.6L391.1 372.8L391.1 374.1L391.1 375.3L391.2 376.5L391.2 377.8L391.2 379.0L391.3 380.2L391.3 381.5L391.3 382.7L391.4 383.9L391.4 385.1L391.4 386.4L391.5 387.6L391.5 388.8L391.5 390.1L391.6 391.3L391.6 392.5L391.7 393.8L391.7 395.0L391.7 396.2L391.8 397.4L391.8 398.6L391.8 399.7L391.9 400.9L391.9 402.1L392.0 403.3L392.0 404.5L392.0 405.7L392.1 406.8L392.1 408.0L392.1 409.2L392.2 410.4L392.2 411.6L392.3 412.8L392.3 413.9L392.3 415.1L392.4 416.3L392.4 417.5L392.4 418.7L392.5 419.9L392.5 421.0L392.6 422.2L392.6 423.4L392.6 424.6L392.7 425.8L392.7 427.0L392.7 428.2L392.8 429.4L392.8 430.6L392.9 431.7L392.9 432.9L392.9 434.1L393.0 435.3L393.0 436.5L393.1 437.7L393.1 438.9L393.2 440.1L393.2 441.3L393.2 442.6L393.3 443.8L393.3 445.0L393.4 446.2L393.4 447.4L393.4 448.6L393.5 449.8L393.5 451.1L393.6 452.3L393.6 453.5L393.7 454.7L393.7 456.0L393.8 457.2L393.8 458.4L393.9 459.7L393.9 460.9L394.0 462.2L394.0 463.4L394.0 464.6L394.1 465.7L394.1 466.9L394.2 468.1L394.2 469.3L394.3 470.5L394.3 471.8L394.4 473.0L394.4 474.2L394.5 475.4L394.5 476.7L394.6 477.9L394.6 479.2L394.7 480.4L394.7 481.7L394.8 482.9L394.8 484.2L394.9 485.5L394.9 486.7L395.0 488.0L395.0 489.3L395.1 490.5L395.1 491.8L395.2 493.1L395.2 494.3L395.3 495.6L395.4 496.9L395.4 498.2L395.5 499.4L395.5 500.7L395.6 502.0L395.6 503.2L395.7 504.5L395.7 505.7L395.8 507.0L395.8 508.3L395.9 509.5L396.0 510.7L396.0 512.0L396.1 513.2L396.1 514.4L396.2 515.7L396.2 516.9L396.3 518.1L396.3 519.3L396.4 520.5L396.4 521.7L396.5 522.9L396.6 524.0L396.6 525.2L396.7 526.3L396.7 527.5L396.8 528.6L396.8 529.7L396.9 530.9L396.9 532.0L397.0 533.0L397.0 534.1L397.1 535.2L397.1 536.3L397.2 537.3L397.3 538.8L397.4 540.2L397.4 541.6L397.5 543.0L397.6 544.4L397.7 545.8L397.7 547.1L397.8 548.4L397.9 549.8L398.0 551.1L398.1 552.3L398.1 553.6L398.2 554.9L398.3 556.1L398.4 557.4L398.4 558.6L398.5 559.8L398.6 561.0L398.7 562.2L398.8 563.4L398.8 564.6L398.9 565.7L399.0 566.9L399.1 568.1L399.2 569.2L399.2 570.4L399.3 571.5L399.4 572.7L399.5 573.8L399.5 574.9L399.6 576.1L399.7 577.2L399.7 578.4L399.8 579.5L399.9 580.7L400.0 581.8L400.0 583.0L400.1 584.1L400.2 585.3L400.2 586.5L400.3 587.6L400.3 588.8L400.4 590.0L400.5 591.3L400.5 592.5L400.6 593.8L400.6 595.1L400.7 596.3L400.7 597.6L400.8 598.9L400.9 600.2L400.9 601.5L401.0 602.8L401.0 604.1L401.0 605.4L401.1 606.7L401.1 608.0L401.2 609.3L401.2 610.5L401.3 611.8L401.3 613.1L401.4 614.4L401.4 615.7L401.4 616.9L401.5 618.2L401.5 619.4L401.6 620.7L401.6 621.9L401.7 623.1L401.7 624.4L401.7 625.6L401.8 626.8L401.8 627.9L401.9 629.1L401.9 630.3L401.9 631.4L402.0 632.6L402.0 633.7L402.1 634.8L402.1 635.8L402.2 636.9L402.2 638.0L402.3 639.0L402.3 640.0L402.4 641.6L402.4 643.0L402.5 644.5L402.6 645.9L402.7 647.3L402.7 648.6L402.8 649.9L402.9 651.1L402.9 652.4L403.0 653.6L403.1 654.8L403.2 655.9L403.2 657.1L403.3 658.2L403.4 659.3L403.5 660.4L403.5 661.6L403.6 662.7L403.7 663.8L403.8 664.9L403.9 666.1L403.9 667.2L404.0 668.4L404.1 669.6L404.2 670.8L404.3 672.0L404.4 673.2L404.5 674.5L404.6 675.7L404.7 677.0L404.8 678.3L404.9 679.6L405.0 680.9L405.1 682.2L405.2 683.5L405.4 684.9L405.5 686.2L405.6 687.5L405.7 688.8L405.8 690.1L405.9 691.4L406.1 692.7L406.2 694.0L406.3 695.2L406.4 696.4L406.5 697.6L406.6 698.8L406.7 699.9L406.8 701.0L406.9 702.1L407.0 703.1L407.1 704.1L407.2 705.0L407.4 706.8L407.5 708.3L407.6 709.6L407.7 710.7L407.8 711.7L407.9 712.7L408.0 713.6L408.1 714.6L408.2 715.6L408.4 716.8L408.5 718.1L408.7 719.6L408.9 721.4L409.0 722.3L409.1 723.3L409.2 724.3L409.4 725.4L409.5 726.5L409.6 727.6L409.8 728.8L409.9 730.0L410.1 731.2L410.2 732.5L410.4 733.7L410.5 735.0L410.7 736.3L410.9 737.6L411.0 739.0L411.2 740.3L411.4 741.6L411.5 742.9L411.7 744.2L411.8 745.5L412.0 746.8L412.2 748.1L412.3 749.4L412.5 750.6L412.6 751.8L412.8 753.0L413.0 754.1L413.1 755.2L413.3 756.6L413.5 757.9L413.6 759.3L413.8 760.6L414.0 761.9L414.2 763.2L414.4 764.5L414.5 765.8L414.7 767.0L414.9 768.3L415.1 769.5L415.2 770.7L415.4 771.9L415.6 773.1L415.8 774.3L415.9 775.4L416.1 776.6L416.3 777.7L416.5 778.8L416.6 779.9L416.8 781.0L417.0 782.0L417.2 783.4L417.5 784.8L417.8 786.1L418.0 787.5L418.3 788.7L418.5 790.0L418.8 791.2L419.0 792.4L419.3 793.6L419.6 794.7L419.8 795.8L420.1 796.9L420.3 798.0L420.5 799.0L420.8 800.0L421.0 801.0L421.3 802.5L421.6 803.8L421.9 805.0L422.2 806.1L422.5 807.2L422.8 808.2L423.1 809.3L423.4 810.5L423.8 811.7L424.2 813.0L424.5 814.0L424.9 815.0L425.2 816.1L425.6 817.2L425.9 818.3L426.3 819.4L426.7 820.5L427.1 821.7L427.5 822.9L428.0 824.1L428.5 825.3L428.9 826.5L429.5 827.7L430.0 829.0L430.5 830.1L430.9 831.1L431.4 832.2L432.0 833.4L432.5 834.5L433.1 835.7L433.6 836.9L434.2 838.0L434.8 839.2L435.4 840.4L436.0 841.6L436.6 842.7L437.2 843.9L437.8 845.0L438.4 846.1L439.0 847.2L439.6 848.2L440.3 849.3L441.0 850.5L441.7 851.6L442.4 852.7L443.1 853.7L443.8 854.8L444.5 855.8L445.2 856.8L446.0 857.9L446.7 858.8L447.5 859.8L448.2 860.8L449.0 861.7L449.8 862.7L450.6 863.6L451.5 864.6L452.4 865.5L453.2 866.4L454.1 867.4L455.1 868.2L456.0 869.1L456.9 870.0L457.9 870.8L458.8 871.7L459.8 872.5L460.8 873.3L461.8 874.1L462.8 875.0L463.8 875.8L464.8 876.6L465.7 877.3L466.7 878.1L467.7 878.8L468.8 879.6L469.8 880.3L470.8 881.0L471.9 881.7L472.9 882.5L474.0 883.2L475.0 883.9L476.1 884.6L477.1 885.3L478.2 886.1L479.2 886.8L480.2 887.5L481.3 888.3L482.3 889.0L483.3 889.7L484.4 890.4L485.4 891.1L486.4 891.9L487.5 892.6L488.5 893.3L489.5 894.1L490.6 894.8L491.6 895.5L492.6 896.3L493.7 897.0L494.7 897.8L495.7 898.5L496.6 899.3L497.6 900.0L498.6 900.8L499.6 901.5L500.6 902.3L501.6 903.1L502.5 903.8L503.5 904.6L504.5 905.4L505.5 906.2L506.4 906.9L507.4 907.7L508.3 908.4L509.2 909.2L510.1 909.9L511.1 910.7L512.1 911.5L513.1 912.3L514.0 913.1L515.0 913.9L515.9 914.6L516.8 915.4L517.8 916.2L518.7 916.9L519.6 917.7L520.5 918.5L521.4 919.3L522.4 920.1L523.3 920.9L524.2 921.7L525.2 922.6L526.1 923.4L527.1 924.2L528.0 925.1L529.0 926.0L529.9 926.8L530.8 927.7L531.8 928.6L532.7 929.4L533.7 930.3L534.6 931.2L535.6 932.1L536.5 933.0L537.4 933.8L538.3 934.7L539.1 935.6L540.0 936.4L540.9 937.3L541.8 938.2L542.7 939.1L543.5 940.0L544.4 940.9L545.3 941.8L546.2 942.7L547.1 943.5L547.9 944.4L548.8 945.3L549.7 946.2L550.6 947.1L551.5 948.0L552.3 948.8L553.2 949.7L554.1 950.6L555.0 951.5L555.9 952.4L556.7 953.2L557.6 954.1L558.5 955.0L559.4 955.9L560.3 956.8L561.1 957.6L562.0 958.5L562.9 959.4L563.8 960.3L564.7 961.2L565.5 962.0L566.4 962.9L567.3 963.8L568.2 964.7L569.1 965.6L569.9 966.4L570.8 967.3L571.7 968.2L572.6 969.1L573.5 970.0L574.3 970.8L575.2 971.7L576.1 972.6L577.0 973.5L577.9 974.4L578.8 975.3L579.7 976.2L580.6 977.1L581.5 978.0L582.4 978.9L583.3 979.8L584.2 980.7L585.1 981.6L585.9 982.4L586.8 983.3L587.7 984.2L588.5 985.0L589.3 985.8L590.3 986.8L591.3 987.8L592.3 988.8L593.2 989.8L594.2 990.7L595.1 991.6L596.0 992.6L596.9 993.5L597.8 994.3L598.6 995.2L599.5 996.0L600.3 996.8L601.4 997.8L602.4 998.8L603.5 999.8L604.5 1000.7L605.5 1001.5L606.4 1002.3L607.3 1003.1L608.2 1003.8L609.1 1004.5L610.3 1005.4L611.5 1006.2L612.5 1006.8L613.6 1007.4L614.6 1007.9L615.7 1008.3L617.0 1008.7L618.3 1008.9L619.7 1009.0L621.0 1009.0L622.3 1008.9L623.6 1008.7L624.8 1008.4L626.1 1008.0L627.4 1007.5L628.9 1006.7L629.7 1006.2L630.6 1005.6L631.4 1005.0L632.3 1004.4L633.2 1003.7L634.2 1002.9L635.3 1002.0L636.4 1001.1L637.7 1000.1L638.5 999.5L639.3 998.9L640.2 998.2L641.1 997.5L642.0 996.7L643.0 996.0L644.0 995.2L645.0 994.4L646.0 993.6L647.0 992.8L648.1 992.0L649.1 991.2L650.1 990.3L651.1 989.6L652.1 988.8L653.1 988.0L654.1 987.2L655.0 986.5L656.0 985.7L656.9 985.0L657.9 984.2L658.9 983.5L659.8 982.7L660.8 981.9L661.8 981.2L662.7 980.4L663.7 979.7L664.6 978.9L665.6 978.2L666.6 977.4L667.5 976.7L668.5 975.9L669.5 975.2L670.4 974.4L671.4 973.7L672.4 972.9L673.3 972.2L674.3 971.5L675.2 970.7L676.2 970.0L677.2 969.3L678.1 968.5L679.1 967.8L680.1 967.0L681.1 966.3L682.0 965.5L683.0 964.8L684.0 964.0L684.9 963.3L685.9 962.5L686.9 961.7L687.9 960.9L688.9 960.1L689.9 959.2L690.9 958.4L691.9 957.6L692.9 956.8L693.9 955.9L694.9 955.2L695.8 954.4L696.7 953.6L697.6 952.9L698.5 952.2L699.3 951.6L700.0 951.0L701.4 949.9L702.5 949.1L703.5 948.4L704.3 947.7L705.2 947.1L706.1 946.4L707.3 945.6L708.6 944.5L709.4 943.9L710.2 943.2L711.1 942.4L712.1 941.7L713.1 940.8L714.1 940.0L715.1 939.1L716.2 938.3L717.2 937.4L718.2 936.5L719.3 935.7L720.3 934.8L721.3 934.0L722.2 933.3L723.1 932.6L724.0 931.9L725.2 931.0L726.3 930.2L727.3 929.4L728.3 928.6L729.3 927.9L730.2 927.2L731.2 926.6L732.1 925.9L733.1 925.3L734.0 924.8L735.0 924.2L736.2 923.5L737.4 922.9L738.7 922.4L739.9 921.8L741.1 921.3L742.3 920.9L743.6 920.5L744.8 920.1L746.0 919.8L747.2 919.5L748.4 919.4L749.7 919.2L750.9 919.2L752.1 919.1L753.3 919.1L754.6 919.0L755.8 918.9L757.0 918.7L758.2 918.5L759.4 918.2L760.7 918.0L761.9 917.7L763.1 917.4L764.3 917.1L765.5 916.7L766.8 916.4L768.0 916.0L769.2 915.6L770.5 915.2L771.7 914.7L772.9 914.3L774.2 913.8L775.4 913.3L776.6 912.7L777.9 912.2L779.1 911.6L780.2 911.1L781.3 910.5L782.4 909.9L783.5 909.4L784.6 908.8L785.7 908.1L786.8 907.5L787.9 906.8L789.0 906.2L790.1 905.5L791.1 904.9L792.1 904.2L793.1 903.6L794.1 902.9L795.1 902.2L796.1 901.5L797.1 900.8L798.1 900.1L799.1 899.3L800.1 898.6L801.1 897.8L802.0 897.1L802.9 896.3L803.9 895.6L804.8 894.8L805.7 894.0L806.6 893.2L807.5 892.4L808.4 891.6L809.4 890.8L810.3 890.0L811.2 889.1L812.1 888.3L813.0 887.5L813.9 886.6L814.9 885.8L815.8 884.9L816.7 884.0L817.6 883.2L818.5 882.3L819.4 881.4L820.4 880.6L821.3 879.7L822.2 878.9L823.1 878.0L824.0 877.2L824.9 876.3L825.9 875.5L826.8 874.6L827.7 873.8L828.6 872.9L829.5 872.1L830.4 871.2L831.4 870.4L832.3 869.6L833.2 868.8L834.1 868.0L835.1 867.1L836.1 866.3L837.1 865.5L838.1 864.6L839.1 863.8L840.1 863.0L841.1 862.2L842.1 861.4L843.1 860.6L844.1 859.9L845.1 859.2L846.2 858.4L847.3 857.7L848.4 857.0L849.5 856.3L850.6 855.6L851.7 854.9L852.8 854.3L853.9 853.7L855.0 853.1L856.1 852.6L857.3 852.0L858.5 851.5L859.8 851.0L861.0 850.6L862.2 850.1L863.4 849.7L864.7 849.4L865.9 849.0L867.1 848.7L868.3 848.4L869.5 848.1L870.8 847.9L872.0 847.7L873.2 847.5L874.4 847.3L875.7 847.2L876.9 847.1L878.1 847.1L879.3 847.1L880.5 847.1L881.8 847.1L883.0 847.2L884.2 847.3L885.4 847.5L886.7 847.7L887.9 847.9L889.1 848.2L890.3 848.5L891.5 848.9L892.8 849.3L894.0 849.8L895.2 850.3L896.4 850.8L897.7 851.4L898.9 852.0L900.1 852.6L901.2 853.2L902.3 853.8L903.4 854.4L904.5 855.0L905.6 855.7L906.7 856.4L907.8 857.1L908.9 857.8L910.0 858.5L911.1 859.2L912.1 859.9L913.1 860.5L914.1 861.2L915.1 861.9L916.1 862.6L917.1 863.3L918.1 864.0L919.1 864.8L920.1 865.5L921.1 866.2L922.1 867.0L923.1 867.8L924.1 868.6L925.1 869.4L926.1 870.2L927.1 871.0L928.1 871.8L929.1 872.6L930.1 873.5L931.1 874.3L932.1 875.0L933.1 875.8L934.1 876.5L935.1 877.3L936.1 878.0L937.1 878.7L938.1 879.4L939.1 880.1L940.1 880.7L941.1 881.4L942.1 882.1L943.1 882.8L944.1 883.5L945.1 884.2L946.1 884.9L947.1 885.7L948.1 886.4L949.1 887.1L950.1 887.8L951.1 888.6L952.1 889.3L953.1 889.9L954.1 890.6L955.1 891.2L956.2 891.8L957.3 892.4L958.3 893.0L959.4 893.6L960.5 894.1L961.6 894.6L962.7 895.1L963.8 895.7L965.0 896.2L966.2 896.7L967.3 897.2L968.4 897.6L969.5 898.1L970.6 898.6L971.8 899.0L973.0 899.5L974.2 900.0L975.4 900.4L976.5 900.8L977.7 901.2L978.9 901.6L980.0 901.9L981.3 902.2L982.7 902.6L984.0 902.8L985.4 903.1L986.7 903.3L988.0 903.5L989.3 903.6L990.5 903.7L991.8 903.8L993.0 903.9L994.3 903.9L995.6 903.9L996.8 903.9L998.0 903.8L999.2 903.7L1000.4 903.5L1001.6 903.3L1002.8 903.1L1004.0 902.8L1005.2 902.5L1006.4 902.2L1007.7 901.8L1008.9 901.4L1010.1 900.9L1011.3 900.5L1012.6 900.0L1013.8 899.4L1015.0 898.9L1016.1 898.4L1017.2 897.8L1018.3 897.3L1019.4 896.7L1020.5 896.1L1021.6 895.4L1022.7 894.8L1023.8 894.1L1024.9 893.4L1026.0 892.7L1027.0 892.0L1028.0 891.4L1029.0 890.7L1030.0 890.0L1031.0 889.2L1032.0 888.5L1033.0 887.8L1034.0 887.0L1035.0 886.2L1036.0 885.4L1037.0 884.6L1037.9 883.8L1038.8 883.1L1039.8 882.3L1040.7 881.5L1041.6 880.7L1042.5 879.8L1043.4 879.0L1044.3 878.2L1045.2 877.3L1046.2 876.4L1047.1 875.6L1048.0 874.7L1048.8 873.9L1049.7 873.1L1050.5 872.2L1051.4 871.4L1052.2 870.5L1053.1 869.7L1053.9 868.8L1054.8 867.9L1055.6 867.0L1056.5 866.2L1057.3 865.3L1058.2 864.5L1059.0 863.6L1059.9 862.7L1060.7 861.9L1061.6 861.0L1062.4 860.2L1063.3 859.3L1064.1 858.5L1065.0 857.6L1065.8 856.7L1066.7 855.9L1067.5 855.1L1068.4 854.2L1069.2 853.4L1070.1 852.6L1071.0 851.7L1071.9 850.9L1072.9 850.0L1073.8 849.2L1074.7 848.3L1075.6 847.5L1076.5 846.7L1077.4 845.9L1078.4 845.1L1079.3 844.3L1080.2 843.5L1081.1 842.7L1082.1 841.8L1083.1 841.0L1084.1 840.1L1085.1 839.3L1086.1 838.4L1087.1 837.6L1088.1 836.8L1089.1 836.0L1090.1 835.3L1091.1 834.6L1092.1 833.9L1093.2 833.2L1094.3 832.5L1095.4 831.9L1096.5 831.3L1097.6 830.8L1098.7 830.2L1099.8 829.7L1100.9 829.3L1102.0 828.8L1103.1 828.4L1104.3 828.0L1105.6 827.6L1106.9 827.2L1108.2 826.8L1109.5 826.5L1110.8 826.3L1112.0 826.0L1113.1 825.8L1114.1 825.6L1115.6 825.3L1116.8 825.1L1118.0 825.0L1119.2 825.0L1120.7 825.1L1121.7 825.2L1122.8 825.3L1124.0 825.4L1125.3 825.5L1126.6 825.7L1127.9 825.9L1129.2 826.1L1130.5 826.4L1131.7 826.7L1132.9 827.0L1134.1 827.4L1135.4 827.8L1136.6 828.2L1137.8 828.6L1139.0 829.1L1140.3 829.6L1141.5 830.1L1142.7 830.6L1143.8 831.1L1144.8 831.5L1145.9 832.0L1146.9 832.5L1147.9 833.0L1149.0 833.6L1150.1 834.2L1151.2 834.8L1152.4 835.4L1153.7 836.1L1154.7 836.6L1155.7 837.2L1156.7 837.7L1157.8 838.3L1158.9 839.0L1160.0 839.6L1161.1 840.2L1162.3 840.9L1163.4 841.5L1164.6 842.2L1165.7 842.9L1166.9 843.6L1168.0 844.2L1169.1 844.9L1170.1 845.5L1171.1 846.1L1172.1 846.8L1173.1 847.4L1174.2 848.0L1175.2 848.7L1176.2 849.3L1177.2 850.0L1178.2 850.6L1179.2 851.3L1180.2 852.0L1181.3 852.7L1182.3 853.4L1183.4 854.1L1184.5 854.8L1185.5 855.5L1186.5 856.1L1187.5 856.8L1188.5 857.5L1189.5 858.2L1190.5 858.9L1191.6 859.6L1192.6 860.3L1193.7 861.0L1194.7 861.7L1195.8 862.5L1196.9 863.2L1197.9 863.9L1199.0 864.7L1200.0 865.4L1201.1 866.2L1202.1 866.9L1203.1 867.6L1204.1 868.3L1205.0 869.1L1206.0 869.8L1207.0 870.5L1208.0 871.3L1208.9 872.0L1209.9 872.8L1210.9 873.6L1211.9 874.3L1212.9 875.1L1213.8 875.8L1214.8 876.6L1215.8 877.3L1216.8 878.0L1217.7 878.8L1218.7 879.5L1219.7 880.2L1220.7 880.9L1221.8 881.7L1222.8 882.4L1223.8 883.1L1224.9 883.8L1225.9 884.5L1226.9 885.2L1227.9 885.9L1229.0 886.6L1230.0 887.3L1231.0 888.0L1232.1 888.7L1233.1 889.4L1234.2 890.1L1235.2 890.9L1236.2 891.6L1237.3 892.3L1238.3 893.0L1239.3 893.7L1240.3 894.4L1241.3 895.1L1242.3 895.8L1243.3 896.5L1244.3 897.2L1245.3 897.9L1246.4 898.6L1247.4 899.3L1248.4 900.0L1249.4 900.7L1250.4 901.4L1251.4 902.1L1252.4 902.9L1253.5 903.6L1254.5 904.3L1255.5 905.0L1256.5 905.7L1257.5 906.4L1258.6 907.2L1259.6 907.9L1260.6 908.6L1261.6 909.3L1262.6 910.0L1263.7 910.8L1264.7 911.5L1265.7 912.2L1266.7 912.9L1267.8 913.7L1268.8 914.4L1269.8 915.1L1270.8 915.8L1271.9 916.6L1272.9 917.3L1273.9 918.0L1274.9 918.7L1276.0 919.4L1277.0 920.2L1278.0 920.9L1279.0 921.6L1280.1 922.3L1281.1 923.0L1282.1 923.7L1283.1 924.5L1284.2 925.2L1285.2 925.9L1286.2 926.6L1287.3 927.3L1288.3 928.0L1289.3 928.8L1290.3 929.5L1291.4 930.2L1292.4 930.9L1293.4 931.6L1294.5 932.3L1295.5 933.0L1296.5 933.8L1297.5 934.5L1298.6 935.2L1299.6 935.9L1300.6 936.6L1301.6 937.3L1302.7 938.1L1303.7 938.8L1304.7 939.5L1305.8 940.2L1306.8 940.9L1307.8 941.6L1308.8 942.4L1309.9 943.1L1310.9 943.8L1311.9 944.5L1313.0 945.2L1314.0 946.0L1315.0 946.7L1316.0 947.4L1317.1 948.1L1318.1 948.9L1319.1 949.6L1320.1 950.3L1321.2 951.0L1322.2 951.7L1323.2 952.5L1324.3 953.2L1325.3 953.9L1326.3 954.6L1327.3 955.4L1328.4 956.1L1329.4 956.8L1330.4 957.5L1331.5 958.2L1332.5 959.0L1333.5 959.7L1334.5 960.4L1335.6 961.1L1336.6 961.8L1337.6 962.5L1338.6 963.2L1339.7 964.0L1340.7 964.7L1341.7 965.4L1342.8 966.1L1343.8 966.8L1344.8 967.5L1345.8 968.3L1346.9 969.0L1347.9 969.7L1348.9 970.4L1350.0 971.2L1351.1 971.9L1352.2 972.7L1353.3 973.5L1354.4 974.3L1355.6 975.1L1356.7 975.9L1357.8 976.6L1358.9 977.4L1359.9 978.2L1361.0 978.9L1362.0 979.6L1363.0 980.3L1363.9 980.9L1364.8 981.6L1365.6 982.2L1366.4 982.7L1368.0 983.8L1369.4 984.8L1370.7 985.7L1371.9 986.5L1372.8 987.1L1373.7 987.7L1374.4 988.2L1375.0 988.6" stroke="#0000ff" stroke-width="3.9"/>
<g stroke="#ff00ff" stroke-width="3.9" stroke-dasharray="14.1 19.2">
<path d="M144.6 5.0L144.6 5.6L144.6 6.3L144.6 7.0L144.7 7.9L144.7 8.9L144.7 10.1L144.7 11.6L144.8 13.3L144.9 15.5L145.0 18.0L145.0 18.8L145.1 19.7L145.1 20.5L145.2 21.5" stroke-dashoffset="16.8"/>
<path d="M145.2 21.5L145.2 22.4L145.3 23.4L145.3 24.4L145.4 25.5L145.4 26.5L145.5 27.7L145.5 28.8L145.6 29.9L145.7 31.1L145.7 32.3L145.8 33.6L145.8 34.8L145.9 36.1L146.0 37.3L146.0 38.6L146.1 39.9L146.2 41.2L146.2 42.6L146.3 43.9L146.4 45.2L146.4 46.6L146.5 47.9L146.6 49.3L146.6 50.6L146.7 52.0L146.7 53.3L146.8 54.7L146.8 56.0L146.9 57.4L147.0 58.7L147.0 60.0L147.0 61.1L147.1 62.3L147.1 63.4L147.2 64.6L147.2 65.8L147.2 67.0L147.3 68.2L147.3 69.4L147.3 70.6L147.4 71.9L147.4 73.1L147.4 74.4L147.5 75.6L147.5 76.9L147.5 78.1L147.6 79.4L147.6 80.7L147.6 81.9L147.7 83.2L147.7 84.5L147.7 85.8L147.8 87.0L147.8 88.3L147.8 89.6L147.8 90.8L147.9 92.1L147.9 93.4L147.9 94.6L148.0 95.9L148.0 97.1L148.0 98.3L148.0 99.5L148.1 100.8L148.1 102.0L148.1 103.1L148.2 104.3L148.2 105.5L148.2 106.6L148.2 107.8L148.3 108.9L148.3 110.0L148.3 111.4L148.4 112.7L148.4 114.0L148.4 115.3L148.5 116.5L148.5 117.7L148.5 119.0L148.6 120.2L148.6 121.4L148.6 122.5L148.6 123.7L148.7 124.9L148.7 126.0L148.7 127.2L148.8 128.3L148.8 129.4L148.8 130.6L148.8 131.7L148.9 132.8L148.9 134.0L148.9 135.1L149.0 136.3L149.0 137.5L149.0 138.6L149.1 139.8L149.1 141.0L149.1 142.3L149.1 143.5L149.2 144.7L149.2 146.0L149.2 147.3L149.3 148.6L149.3 150.0L149.3 151.1L149.4 152.3L149.4 153.4L149.4 154.6L149.4 155.8L149.5 157.1L149.5 158.3L149.5 159.6L149.6 160.9L149.6 162.2L149.6 163.6L149.6 164.9L149.7 166.2L149.7 167.6L149.7 168.9L149.8 170.3L149.8 171.7L149.8 173.0L149.9 174.4L149.9 175.7L149.9 177.1L150.0 178.4L150.0 179.8L150.0 181.1L150.1 182.4L150.1 183.7L150.1 185.0L150.1 186.2L150.2 187.5L150.2 188.7L150.2 189.9L150.3 191.0L150.3 192.2L150.3 193.3L150.3 194.3L150.4 195.4L150.4 196.4L150.4 197.3L150.5 198.3L150.5 199.2L150.5 200.0L150.6 202.2L150.6 204.0L150.7 205.4L150.7 206.6L150.8 207.6L150.8 208.4L150.9 209.2L150.9 209.9L151.0 210.6L151.0 211.5L151.1 212.6L151.2 213.8L151.2 215.4L151.3 217.3L151.3 218.2L151.4 219.1L151.4 220.1"/>
<path d="M151.4 220.1L151.4 221.2L151.5 222.2L151.5 223.3L151.6 224.5L151.6 225.7L151.6 226.9L151.7 228.1L151.7 229.3L151.8 230.6L151.8 231.9L151.9 233.2L151.9 234.6L152.0 235.9L152.0 237.3L152.1 238.6L152.1 240.0L152.1 241.3L152.2 242.7L152.2 244.1L152.3 245.4L152.3 246.8L152.4 248.1L152.4 249.4L152.5 250.7L152.5 252.0L152.6 253.3L152.6 254.5L152.7 255.7L152.7 256.9L152.8 258.1L152.8 259.2L152.9 260.6L152.9 261.9L153.0 263.3L153.0 264.6L153.1 265.9L153.1 267.2L153.2 268.4L153.2 269.7L153.3 270.9L153.3 272.1L153.4 273.3L153.4 274.5L153.5 275.7L153.6 276.9L153.6 278.1L153.7 279.3L153.7 280.5L153.8 281.6L153.8 282.8L153.9 284.0L153.9 285.2L154.0 286.4L154.1 287.6L154.1 288.8L154.2 290.0L154.2 291.2L154.3 292.4L154.4 293.6L154.4 294.9L154.5 296.1L154.6 297.3L154.6 298.6L154.7 299.8L154.8 301.0L154.8 302.3L154.9 303.5L155.0 304.7L155.0 306.0L155.1 307.2L155.2 308.4L155.3 309.7L155.3 310.9L155.4 312.1L155.5 313.4L155.5 314.6L155.6 315.8L155.7 317.1L155.8 318.3L155.8 319.5L155.9 320.8L156.0 322.0L156.1 323.2L156.1 324.5L156.2 325.7L156.3 326.9L156.3 328.2L156.4 329.4L156.5 330.6L156.6 331.9L156.6 333.1L156.7 334.3L156.8 335.6L156.9 336.8L156.9 338.0L157.0 339.3L157.1 340.5L157.2 341.7L157.2 343.0L157.3 344.2L157.4 345.4L157.5 346.7L157.5 347.9L157.6 349.1L157.7 350.4L157.8 351.6L157.8 352.8L157.9 354.1L158.0 355.3L158.1 356.5L158.1 357.8L158.2 359.0L158.3 360.2L158.3 361.5L158.4 362.7L158.5 363.9L158.6 365.2L158.6 366.4L158.7 367.6L158.8 368.9L158.8 370.1L158.9 371.3L159.0 372.6L159.0 373.8L159.1 375.0L159.2 376.3L159.2 377.5L159.3 378.7L159.4 380.0L159.5 381.2L159.5 382.4L159.6 383.7L159.7 384.9L159.8 386.1L159.9 387.4L159.9 388.6L160.0 389.8L160.1 391.1L160.2 392.3L160.3 393.5L160.4 394.8L160.5 396.0L160.6 397.2L160.7 398.5L160.8 399.7L160.9 400.9L161.0 402.1L161.1 403.4L161.2 404.6L161.3 405.8L161.4 407.1L161.5 408.3L161.6 409.5L161.7 410.7L161.9 412.0L162.0 413.2L162.1 414.4L162.2 415.7L162.3 416.9L162.4 418.1L162.5 419.3L162.6 420.6"/>
<path d="M162.6 420.6L162.8 421.8L162.9 423.0L163.0 424.3L163.1 425.5L163.2 426.7L163.3 428.0L163.4 429.2L163.5 430.4L163.7 431.6L163.8 432.8L163.9 434.0L164.0 435.2L164.1 436.4L164.2 437.7L164.3 438.9L164.4 440.1L164.5 441.3L164.6 442.5L164.8 443.7L164.9 444.9L165.0 446.2L165.1 447.4L165.2 448.6L165.4 449.9L165.5 451.1L165.6 452.4L165.7 453.7L165.9 454.9L166.0 456.2L166.2 457.5L166.3 458.8L166.4 459.9L166.6 461.1L166.7 462.3L166.8 463.4L166.9 464.6L167.1 465.8L167.2 467.0L167.3 468.3L167.5 469.5L167.6 470.7L167.7 471.9L167.9 473.2L168.0 474.4L168.1 475.6L168.3 476.9L168.4 478.1L168.6 479.3L168.7 480.6L168.9 481.8L169.0 483.0L169.2 484.2L169.3 485.5L169.5 486.7L169.7 487.9L169.9 489.1L170.0 490.3L170.2 491.4L170.4 492.6L170.6 493.7L170.8 494.9L171.0 496.0L171.2 497.3L171.5 498.6L171.7 499.9L172.0 501.2L172.3 502.5L172.6 503.8L172.9 505.1L173.2 506.4L173.5 507.7L173.8 509.0L174.1 510.2L174.4 511.5L174.7 512.8L175.0 514.0L175.3 515.2L175.6 516.4L176.0 517.6L176.3 518.8L176.6 519.9L176.9 521.0L177.2 522.1L177.5 523.2L177.8 524.2L178.1 525.2L178.4 526.2L178.7 527.1L179.0 528.0L179.6 529.8L180.2 531.4L180.8 532.9L181.5 534.4L182.1 535.7L182.7 536.9L183.3 538.1L183.9 539.1L184.4 540.0L184.9 540.9L185.3 541.7L185.7 542.4L186.0 543.0L186.7 543.2L187.6 543.5L188.6 543.9"/>
<path d="M188.6 543.9L189.8 544.4L191.1 544.8L192.4 545.3L193.8 545.8L195.3 546.2L196.7 546.6L198.1 546.9L199.5 547.1L200.8 547.1L202.0 547.0L203.1 546.7L204.3 546.3L205.4 545.8L206.5 545.2L207.5 544.5L208.6 543.8L209.7 543.0L210.7 542.1L211.8 541.3L212.8 540.4L213.9 539.6L214.9 538.8L216.0 538.0L217.0 537.3L218.0 536.6L218.9 535.9L219.9 535.1L220.8 534.3L221.8 533.6L222.8 532.8L223.7 532.1L224.7 531.3L225.7 530.6L226.7 529.9L227.8 529.2L228.9 528.6L230.0 528.0L231.1 527.5L232.2 526.9L233.4 526.4L234.6 525.9L235.9 525.3L237.1 524.8L238.4 524.4L239.6 523.9L240.9 523.5L242.1 523.1L243.4 522.8L244.6 522.5L245.8 522.3L246.9 522.1L248.0 522.0L249.3 522.0L250.6 522.0L251.8 522.2L253.0 522.4L254.1 522.8L255.2 523.1L256.4 523.5L257.5 524.0L258.6 524.5L259.7 525.0L260.8 525.5L262.0 526.0L263.1 526.5L264.2 527.0L265.3 527.5L266.4 528.1L267.5 528.7L268.6 529.3L269.7 529.9L270.8 530.6L271.8 531.3L272.9 531.9L274.0 532.6L275.0 533.3L276.0 534.0L277.0 534.7L278.0 535.4"/>
<path d="M278.0 535.4L278.9 536.1L279.8 536.9L280.8 537.6L281.7 538.4L282.6 539.1L283.5 539.9L284.4 540.7L285.3 541.5L286.2 542.3L287.1 543.2L288.0 544.0L288.9 544.8L289.7 545.6L290.6 546.5L291.4 547.3L292.2 548.2L293.1 549.1L293.9 550.0L294.8 550.9L295.6 551.8L296.5 552.7L297.4 553.5L298.2 554.4L299.1 555.2L300.0 556.0L301.0 556.8L302.0 557.7L303.0 558.5L304.1 559.3L305.1 560.2L306.2 560.9L307.2 561.7L308.2 562.5L309.3 563.2L310.3 564.0L311.2 564.7L312.1 565.4L313.0 566.0L314.2 566.9L315.3 567.8L316.3 568.6L317.4 569.5L318.3 570.2L319.3 570.9L320.2 571.5L321.1 572.1L322.0 572.5L323.3 573.0L324.5 573.4L325.6 573.6L326.8 573.6L328.1 573.4L329.6 573.0L330.5 572.7L331.5 572.3L332.6 571.9L333.7 571.5L334.8 570.9L335.9 570.3L337.0 569.7L338.1 568.9L339.1 568.0L340.1 567.1L341.0 566.0L341.6 565.2L342.1 564.3L342.6 563.4L343.1 562.4L343.6 561.3L344.0 560.2L344.5 559.1L344.9 557.9L345.3 556.7L345.7 555.5L346.1 554.3L346.5 553.0L346.9 551.8L347.3 550.5L347.6 549.3L348.0 548.0L348.3 546.9L348.7 545.7"/>
<path d="M348.7 545.7L349.0 544.5L349.3 543.3L349.6 542.1L349.9 540.8L350.2 539.6L350.4 538.3L350.7 537.0L351.0 535.7L351.2 534.5L351.5 533.2L351.8 531.9L352.0 530.7L352.3 529.5L352.5 528.3L352.8 527.1L353.0 526.0L353.3 524.7L353.6 523.5L353.8 522.4L354.1 521.3L354.3 520.2L354.6 519.2L354.8 518.2L355.0 517.1L355.3 516.0L355.5 514.9L355.7 513.7L355.9 512.4L356.2 511.0L356.4 509.5L356.6 507.8L356.7 506.9L356.8 505.9L357.0 504.8L357.1 503.8L357.2 502.7L357.3 501.6L357.4 500.4L357.5 499.2L357.6 498.0L357.8 496.8L357.9 495.6L358.0 494.3L358.1 493.0L358.2 491.8L358.3 490.5L358.4 489.2L358.5 487.9L358.6 486.6L358.8 485.3L358.9 484.0L359.0 482.7L359.1 481.4L359.2 480.1L359.3 478.9L359.4 477.6L359.6 476.4L359.7 475.2L359.8 474.0L359.9 472.7L360.1 471.5L360.2 470.3L360.3 469.0L360.5 467.8L360.6 466.6L360.7 465.4L360.9 464.2L361.0 463.0L361.2 461.8L361.3 460.6L361.4 459.4L361.6 458.2L361.7 457.0L361.9 455.8L362.0 454.6L362.2 453.4L362.3 452.2L362.4 450.9L362.6 449.7L362.7 448.4L362.9 447.2L363.0 445.9L363.1 444.6L363.3 443.3L363.4 442.0L363.5 440.9L363.6 439.7L363.8 438.6L363.9 437.5L364.0 436.5L364.1 435.4L364.2 434.3L364.3 433.3L364.5 432.2L364.6 431.1L364.7 430.1L364.8 429.0L364.9 427.9L365.0 426.8L365.1 425.7L365.3 424.5L365.4 423.4L365.5 422.2L365.6 420.9L365.7 419.7L365.8 418.4L365.9 417.1L366.0 415.8L366.2 414.4L366.3 412.9L366.4 411.4L366.5 409.9L366.6 408.3L366.7 406.7L366.8 405.0L366.9 404.0L366.9 403.1L367.0 402.1L367.0 401.1L367.1 400.1L367.1 399.0L367.2 397.9L367.3 396.9L367.3 395.8L367.4 394.7L367.4 393.5L367.5 392.4L367.5 391.3L367.6 390.1L367.6 388.9L367.7 387.7L367.8 386.5L367.8 385.3L367.9 384.1L367.9 382.9L368.0 381.6L368.0 380.4L368.1 379.1L368.1 377.9L368.2 376.6L368.3 375.3L368.3 374.0L368.4 372.8L368.4 371.5L368.5 370.2L368.5 368.9L368.6 367.6L368.6 366.3L368.7 365.0L368.7 363.7L368.8 362.4L368.8 361.1L368.9 359.8L368.9 358.5L369.0 357.2L369.0 355.9L369.1 354.6L369.1 353.4L369.2 352.1L369.2 350.8L369.3 349.5L369.3 348.3L369.4 347.0L369.4 345.8L369.5 344.5L369.5 343.3L369.6 342.1L369.6 340.9L369.7 339.7L369.7 338.5L369.7 337.3L369.8 336.0L369.8 334.8L369.9 333.5L369.9 332.3L370.0 331.0L370.0 329.8L370.1 328.6L370.1 327.3L370.1 326.1L370.2 324.9L370.2 323.6L370.3 322.4L370.3 321.2L370.3 320.0L370.4 318.7L370.4 317.5L370.5 316.3L370.5 315.1L370.5 313.8"/>
<path d="M370.5 313.8L370.6 312.6L370.6 311.4L370.7 310.2L370.7 309.0L370.7 307.8L370.8 306.6L370.8 305.3L370.8 304.1L370.9 302.9L370.9 301.7L371.0 300.5L371.0 299.3L371.0 298.1L371.1 296.8L371.1 295.6L371.1 294.4L371.2 293.2L371.2 292.0L371.3 290.8L371.3 289.6L371.3 288.4L371.4 287.2L371.4 285.9L371.5 284.7L371.5 283.5L371.5 282.3L371.6 281.1L371.6 279.9L371.7 278.7L371.7 277.4L371.8 276.2L371.8 275.0L371.8 273.8L371.9 272.5L371.9 271.3L372.0 270.1L372.0 268.8L372.1 267.5L372.1 266.3L372.2 265.0L372.2 263.7L372.3 262.4L372.3 261.1L372.4 259.8L372.4 258.5L372.5 257.2L372.6 255.9L372.6 254.6L372.7 253.3L372.7 252.0L372.8 250.7L372.8 249.4L372.9 248.1L372.9 246.8L373.0 245.5L373.0 244.2L373.1 243.0L373.2 241.7L373.2 240.4L373.3 239.1L373.3 237.9L373.4 236.6L373.4 235.3L373.5 234.1L373.5 232.9L373.6 231.6L373.6 230.4L373.7 229.2L373.7 228.0L373.8 226.8L373.8 225.7L373.9 224.5L373.9 223.3L374.0 222.2L374.0 221.1L374.1 220.0L374.1 218.9L374.2 217.8L374.2 216.7L374.2 215.7L374.3 214.7"/>
<path d="M374.3 214.7L374.3 213.7L374.4 212.7L374.4 211.7L374.5 210.1L374.5 208.5L374.6 206.9L374.6 205.4L374.7 203.9L374.7 202.5L374.8 201.1L374.8 199.7L374.9 198.4L374.9 197.1L374.9 195.8L375.0 194.6L375.0 193.4L375.1 192.2L375.1 191.0L375.1 189.9L375.2 188.8L375.2 187.7L375.2 186.6L375.3 185.5L375.3 184.4L375.3 183.3L375.3 182.3L375.4 181.2L375.4 180.2L375.5 179.2L375.5 178.1L375.5 177.1L375.6 176.0L375.6 175.0L375.7 173.5L375.7 172.0L375.8 170.6L375.8 169.2L375.9 167.8L375.9 166.4L375.9 165.0L376.0 163.7L376.0 162.4L376.1 161.1L376.1 159.9L376.2 158.6L376.2 157.4L376.3 156.2L376.3 155.1L376.4 153.9L376.5 152.8L376.5 151.8L376.6 150.7L376.7 149.7L376.8 148.7L377.0 147.0L377.2 145.2L377.4 143.5L377.6 141.8L377.9 140.2L378.1 138.7L378.4 137.4L378.7 136.2L378.9 135.2L379.1 134.5L379.4 134.1L379.6 133.9L379.8 134.0L380.0 134.5L380.2 135.1L380.4 136.0"/>
<path d="M380.4 136.0L380.6 137.1L380.8 138.4L381.0 139.8L381.2 141.4L381.3 143.1L381.5 144.9L381.7 146.8L381.8 148.7L381.9 149.6L381.9 150.6L382.0 151.6L382.0 152.6L382.1 153.7L382.1 154.8L382.2 156.0L382.2 157.2L382.2 158.4L382.3 159.6L382.3 160.9L382.4 162.2L382.4 163.5L382.4 164.8L382.5 166.1L382.5 167.4L382.5 168.7L382.6 170.0L382.6 171.4L382.6 172.7L382.6 174.0L382.7 175.3L382.7 176.6L382.7 177.8L382.8 179.1L382.8 180.3L382.8 181.5L382.9 182.6L382.9 183.7L382.9 184.8L382.9 185.9L383.0 186.9L383.0 187.9L383.0 188.9L383.0 189.9L383.1 190.9L383.1 192.0L383.1 193.0L383.1 194.0L383.1 195.1L383.2 196.2L383.2 197.3L383.2 198.5L383.2 199.7L383.3 201.0L383.3 202.3L383.3 203.7L383.3 205.1L383.4 206.6L383.4 208.2L383.5 209.9L383.5 211.7L383.5 212.6L383.5 213.6L383.6 214.5L383.6 215.5L383.6 216.5L383.6 217.6L383.7 218.6L383.7 219.7L383.7 220.8L383.8 221.9L383.8 223.0L383.8 224.1L383.8 225.3L383.9 226.4L383.9 227.6L383.9 228.8L384.0 230.0L384.0 231.2L384.0 232.5L384.1 233.7L384.1 235.0L384.1 236.2L384.2 237.5L384.2 238.8L384.2 240.1L384.3 241.3L384.3 242.6L384.3 243.9L384.4 245.2L384.4 246.6L384.4 247.9L384.5 249.2L384.5 250.5L384.5 251.8L384.6 253.1L384.6 254.5L384.6 255.8L384.7 257.1L384.7 258.4L384.7 259.7L384.8 261.0L384.8 262.3L384.8 263.6L384.9 264.9L384.9 266.2L384.9 267.5L385.0 268.8"/>
<path d="M385.0 268.8L385.0 270.0L385.0 271.3L385.0 272.5L385.1 273.8L385.1 275.0L385.1 276.2L385.2 277.5L385.2 278.7L385.2 280.0L385.2 281.2L385.3 282.5L385.3 283.8L385.3 285.0L385.3 286.3L385.3 287.6L385.4 288.9L385.4 290.2L385.4 291.5L385.4 292.8L385.5 294.1L385.5 295.4L385.5 296.8L385.5 298.1L385.6 299.4L385.6 300.7L385.6 302.0L385.6 303.3L385.6 304.6L385.7 305.9L385.7 307.2L385.7 308.5L385.7 309.8L385.7 311.1L385.8 312.3L385.8 313.6L385.8 314.9L385.8 316.1L385.8 317.3L385.9 318.6L385.9 319.8L385.9 321.0L385.9 322.2L385.9 323.4L386.0 324.6L386.0 325.8L386.0 326.9L386.0 328.0L386.0 329.2L386.1 330.3L386.1 331.4L386.1 332.4L386.1 333.5L386.1 334.5L386.1 335.6L386.2 336.6L386.2 337.5L386.2 338.5L386.2 340.2L386.3 341.8L386.3 343.3L386.3 344.8L386.4 346.3L386.4 347.7L386.4 349.0L386.5 350.3L386.5 351.6L386.5 352.8L386.5 354.0L386.6 355.2L386.6 356.3L386.6 357.4L386.7 358.5L386.7 359.6L386.7 360.7L386.7 361.7L386.8 362.8L386.8 363.9L386.8 364.9L386.8 366.0L386.9 367.1L386.9 368.2L386.9 369.3L386.9 370.4L387.0 371.6L387.0 372.8L387.0 374.0L387.0 375.2L387.0 376.4L387.0 377.6L387.1 378.8L387.1 380.0L387.1 381.2L387.1 382.4L387.1 383.7L387.1 384.9L387.1 386.1L387.1 387.3L387.2 388.6L387.2 389.8L387.2 391.0L387.2 392.2L387.2 393.4L387.2 394.7L387.2 395.9L387.2 397.1L387.2 398.3L387.2 399.5L387.2 400.7L387.2 401.9L387.2 403.0L387.3 404.2L387.3 405.4L387.3 406.6L387.3 407.7L387.3 408.9L387.3 410.0L387.3 411.3L387.3 412.6L387.3 413.8L387.4 415.0L387.4 416.2L387.4 417.4L387.4 418.6L387.4 419.8L387.4 421.0L387.4 422.1L387.4 423.3L387.4 424.4L387.5 425.6L387.5 426.8L387.5 427.9L387.5 429.1L387.5 430.3L387.5 431.5L387.5 432.7L387.6 434.0"/>
<path d="M387.6 434.0L387.6 435.2L387.6 436.5L387.6 437.9L387.6 439.2L387.7 440.6L387.7 442.0L387.7 443.1L387.7 444.2L387.8 445.3L387.8 446.4L387.8 447.5L387.8 448.7L387.9 449.8L387.9 451.0L387.9 452.2L387.9 453.4L388.0 454.6L388.0 455.8L388.0 457.0L388.1 458.3L388.1 459.5L388.1 460.7L388.1 462.0L388.2 463.2L388.2 464.5L388.2 465.7L388.3 467.0L388.3 468.3L388.3 469.5L388.4 470.8L388.4 472.1L388.4 473.3L388.5 474.6L388.5 475.8L388.5 477.1L388.5 478.3L388.6 479.6L388.6 480.8L388.6 482.1L388.7 483.3L388.7 484.5L388.7 485.7L388.8 486.9L388.8 488.1L388.8 489.3L388.9 490.6L388.9 491.8L388.9 493.0L388.9 494.2L389.0 495.4L389.0 496.6L389.0 497.8L389.1 499.0L389.1 500.2L389.1 501.4L389.2 502.6L389.2 503.9L389.2 505.1L389.3 506.3L389.3 507.5L389.3 508.7L389.4 509.9L389.4 511.1L389.4 512.3L389.5 513.5L389.5 514.7L389.5 515.9L389.5 517.1L389.6 518.3L389.6 519.6L389.6 520.8L389.7 522.0L389.7 523.2L389.7 524.4L389.8 525.6L389.8 526.8L389.8 528.0L389.9 529.2L389.9 530.4L389.9 531.6L390.0 532.8L390.0 534.0L390.0 535.2L390.1 536.5L390.1 537.7L390.1 538.9L390.1 540.1L390.2 541.3L390.2 542.5L390.2 543.7L390.3 544.9L390.3 546.1L390.3 547.3L390.4 548.5L390.4 549.7L390.4 550.9L390.5 552.1L390.5 553.3L390.5 554.5L390.6 555.7L390.6 556.9L390.6 558.1L390.7 559.3L390.7 560.6L390.7 561.8L390.7 563.0L390.8 564.2L390.8 565.4L390.8 566.6L390.9 567.8"/>
<path d="M390.9 567.8L390.9 569.0L390.9 570.2L391.0 571.4L391.0 572.7L391.0 573.9L391.1 575.2L391.1 576.4L391.1 577.7L391.1 578.9L391.2 580.2L391.2 581.5L391.2 582.7L391.3 584.0L391.3 585.3L391.3 586.6L391.4 587.8L391.4 589.1L391.4 590.4L391.4 591.6L391.5 592.9L391.5 594.1L391.5 595.4L391.6 596.6L391.6 597.8L391.6 599.0L391.6 600.2L391.7 601.4L391.7 602.6L391.7 603.7L391.8 604.8L391.8 606.0L391.8 607.1L391.8 608.2L391.9 609.2L391.9 610.3L391.9 611.3L391.9 612.8L392.0 614.3L392.0 615.7L392.0 617.0L392.1 618.4L392.1 619.7L392.1 620.9L392.1 622.1L392.2 623.3L392.2 624.5L392.2 625.7L392.2 626.8L392.3 628.0L392.3 629.1L392.3 630.3L392.3 631.4L392.4 632.6L392.4 633.7L392.4 634.9L392.4 636.2L392.5 637.4L392.5 638.7L392.5 640.0L392.5 641.1L392.5 642.3L392.6 643.4L392.6 644.6L392.6 645.8L392.6 647.0L392.6 648.1L392.6 649.3L392.6 650.5L392.6 651.7L392.6 652.9L392.6 654.1L392.7 655.3L392.7 656.6L392.7 657.8L392.7 659.0L392.7 660.2L392.7 661.5L392.7 662.7L392.8 664.0L392.8 665.2L392.8 666.5L392.8 667.7L392.9 669.0L392.9 670.3L393.0 671.5L393.0 672.8L393.0 674.0L393.1 675.2L393.2 676.4L393.2 677.6L393.3 678.8L393.3 680.1L393.4 681.3L393.5 682.5L393.6 683.8L393.6 685.0L393.7 686.3L393.8 687.5L393.9 688.8L393.9 690.1L394.0 691.3L394.1 692.6L394.2 693.8L394.3 695.1L394.4 696.4L394.4 697.6L394.5 698.9L394.6 700.1"/>
<path d="M394.6 700.1L394.7 701.4L394.8 702.6L394.8 703.8L394.9 705.1L395.0 706.3L395.0 707.5L395.1 708.7L395.2 709.9L395.2 711.2L395.3 712.4L395.3 713.7L395.4 714.9L395.5 716.1L395.5 717.3L395.6 718.6L395.6 719.8L395.7 721.0L395.7 722.2L395.8 723.4L395.8 724.7L395.9 725.9L395.9 727.1L395.9 728.3L396.0 729.5L396.0 730.7L396.1 731.9L396.1 733.1L396.2 734.2L396.2 735.4L396.3 736.6L396.4 737.8L396.4 739.0L396.5 740.2L396.5 741.3L396.6 742.5L396.7 743.8L396.7 745.0L396.8 746.3L396.9 747.5L397.0 748.7L397.0 750.0L397.1 751.2L397.2 752.4L397.3 753.6L397.4 754.8L397.4 756.1L397.5 757.3L397.6 758.5L397.7 759.7L397.8 760.9L397.9 762.1L397.9 763.3L398.0 764.5L398.1 765.7L398.2 766.9L398.3 768.1L398.4 769.3L398.4 770.6L398.5 771.8L398.6 773.0L398.7 774.2L398.8 775.4L398.9 776.7L398.9 777.9L399.0 779.2L399.1 780.4L399.2 781.7L399.3 782.9L399.4 784.2L399.4 785.5L399.5 786.7L399.6 788.0L399.7 789.2L399.8 790.5L399.8 791.8L399.9 793.0L400.0 794.2L400.1 795.5L400.2 796.7L400.3 797.9L400.4 799.1L400.4 800.3L400.5 801.5L400.6 802.6L400.7 803.8L400.8 804.9L400.9 806.0L401.0 807.4L401.1 808.7L401.3 810.0L401.4 811.4L401.5 812.7L401.6 814.0L401.8 815.3L401.9 816.5L402.0 817.8L402.2 819.0L402.3 820.3L402.4 821.5L402.6 822.6L402.7 823.8L402.8 825.0L403.0 826.1L403.1 827.2L403.2 828.2L403.3 829.3L403.5 830.3L403.6 831.3L403.8 832.8L404.0 834.3"/>
<path d="M404.0 834.3L404.1 835.6L404.3 836.9L404.5 838.1L404.6 839.3L404.8 840.4L405.0 841.5L405.2 842.6L405.4 843.7L405.6 844.8L405.8 845.9L406.1 847.1L406.4 848.3L406.7 849.5L407.0 850.7L407.4 851.9L407.7 853.1L408.1 854.3L408.5 855.5L408.9 856.7L409.3 857.9L409.7 859.0L410.1 860.2L410.6 861.4L411.0 862.5L411.5 863.7L411.9 864.8L412.4 866.0L412.9 867.2L413.4 868.3L413.9 869.5L414.5 870.6L415.0 871.7L415.5 872.8L416.0 873.9L416.6 874.9L417.1 875.9L417.6 876.8L418.3 878.1L419.0 879.3L419.6 880.4L420.3 881.5L421.0 882.5L421.7 883.5L422.4 884.3L423.3 885.1L424.2 885.7L425.2 886.2L426.3 886.6L427.4 886.8L428.5 887.0L429.8 887.1L431.0 887.2L432.4 887.2L433.8 887.3L435.2 887.4L436.3 887.5L437.5 887.5"/>
<path d="M437.5 887.5L438.7 887.6L439.9 887.6L441.2 887.7L442.5 887.7L443.8 887.7L445.1 887.7L446.5 887.8L447.9 887.8L449.2 887.8L450.6 887.9L451.8 888.0L453.0 888.0L454.3 888.1L455.6 888.1L456.9 888.2L458.2 888.2L459.5 888.3L460.8 888.3L462.1 888.4L463.4 888.5L464.7 888.6L465.9 888.7L467.1 888.9L468.2 889.0L469.6 889.2L470.8 889.4L472.1 889.7L473.2 889.9L474.4 890.2L475.5 890.5L476.6 890.8L477.8 891.1L478.9 891.5L480.1 891.9L481.4 892.3L482.4 892.7L483.5 893.1L484.6 893.5L485.7 893.9L486.8 894.4L487.9 894.8L489.1 895.3L490.2 895.8L491.4 896.3L492.5 896.8L493.6 897.4L494.7 897.9L495.8 898.4L496.9 898.9L498.0 899.4L499.2 900.0L500.3 900.5L501.4 901.0L502.5 901.6L503.6 902.1L504.7 902.7L505.8 903.3L506.9 903.9L508.0 904.5L509.1 905.2L510.1 905.9L511.2 906.6L512.2 907.3L513.2 908.1L514.2 908.9L515.1 909.7L516.1 910.6L517.1 911.5L518.1 912.4L519.0 913.3L520.0 914.2L520.9 915.1L521.8 916.0L522.7 916.9L523.6 917.8L524.4 918.7L525.3 919.6L526.1 920.5"/>
<path d="M526.1 920.5L526.9 921.4L527.7 922.3L528.4 923.2L529.1 924.1L529.8 925.0L530.6 925.9L531.3 926.8L532.0 927.8L532.7 928.8L533.5 929.8L534.3 930.8L535.0 931.7L535.7 932.7L536.5 933.7L537.2 934.7L538.0 935.7L538.7 936.8L539.5 937.8L540.2 938.9L541.0 940.0L541.8 941.0L542.5 942.1L543.2 943.1L543.9 944.2L544.6 945.2L545.3 946.2L546.0 947.3L546.8 948.5L547.5 949.6L548.2 950.7L548.8 951.8L549.5 952.9L550.2 954.0L550.8 955.1L551.5 956.2L552.1 957.3L552.8 958.4L553.4 959.4L554.1 960.5L554.8 961.6L555.5 962.6L556.1 963.7L556.8 964.7L557.5 965.8L558.2 966.8L558.8 967.8L559.5 968.8L560.2 969.8L560.9 970.8L561.5 971.8L562.2 972.8L562.9 973.7L563.7 974.8L564.5 975.9L565.3 977.0L566.1 978.0L566.9 979.1L567.7 980.1L568.5 981.1L569.3 982.1L570.1 983.0L570.9 983.9L571.7 984.7L572.7 985.7L573.7 986.6L574.6 987.5L575.6 988.4L576.6 989.1L577.6 989.8L578.5 990.4L579.5 990.9L580.5 991.3L581.7 991.6L583.0 991.7L584.2 991.7L585.5 991.5L586.7 991.1L588.0 990.7L589.3 990.2L590.3 989.7L591.4 989.2"/>
<path d="M591.4 989.2L592.4 988.7L593.4 988.0L594.5 987.3L595.6 986.5L596.8 985.6L597.9 984.7L599.2 983.6L600.0 982.9L600.8 982.1L601.6 981.3L602.5 980.4L603.4 979.5L604.3 978.6L605.2 977.6L606.1 976.7L607.0 975.7L608.0 974.7L608.9 973.8L609.8 972.9L610.7 972.0L611.5 971.2L612.4 970.4L613.4 969.5L614.4 968.7L615.4 968.0L616.4 967.3L617.4 966.6L618.3 965.9L619.3 965.3L620.3 964.6L621.3 963.9L622.3 963.2L623.4 962.4L624.5 961.6L625.4 960.9L626.3 960.2L627.2 959.5L628.2 958.7L629.1 957.9L630.1 957.1L631.1 956.3L632.1 955.5L633.1 954.7L634.1 953.9L635.1 953.1L636.1 952.3L637.1 951.5L638.1 950.8L639.0 950.1L639.9 949.5L641.1 948.7L642.2 948.0L643.3 947.3L644.3 946.6L645.3 946.0L646.4 945.4L647.4 944.8L648.5 944.2L649.5 943.6L650.7 943.0L651.9 942.4L653.1 941.8L654.1 941.3L655.1 940.8L656.2 940.3L657.3 939.8L658.4 939.3L659.5 938.7L660.7 938.2L661.8 937.7L663.0 937.2L664.1 936.7L665.3 936.2L666.4 935.8L667.5 935.3L668.6 934.9L669.7 934.5L670.7 934.1L672.0 933.6L673.2 933.2"/>
<path d="M673.2 933.2L674.4 932.9L675.6 932.5L676.7 932.2L677.8 932.0L678.9 931.7L680.1 931.4L681.2 931.2L682.4 930.9L683.7 930.6L685.0 930.3L686.1 930.0L687.2 929.8L688.4 929.5L689.6 929.2L690.9 928.9L692.1 928.7L693.4 928.4L694.6 928.1L695.9 927.8L697.1 927.6L698.4 927.3L699.6 927.1L700.8 926.8L702.0 926.6L703.1 926.4L704.5 926.2L705.8 925.9L707.1 925.8L708.4 925.6L709.6 925.4L710.8 925.3L712.1 925.1L713.3 925.0L714.6 924.8L715.8 924.6L717.1 924.4L718.5 924.2L719.7 924.0L720.9 923.8L722.2 923.5L723.4 923.3L724.7 923.0L726.0 922.7L727.3 922.5L728.6 922.2L729.9 921.9L731.2 921.7L732.4 921.5L733.7 921.2L734.9 921.1L736.1 920.9L737.4 920.8L738.8 920.6L740.0 920.6L741.3 920.5L742.5 920.4L743.7 920.4L745.0 920.4L746.2 920.4L747.5 920.3L748.8 920.3L750.1 920.3L751.5 920.2L752.7 920.1L753.9 920.1L755.1 920.0L756.4 920.0L757.7 919.9L759.0 919.8L760.3 919.8L761.6 919.7L762.9 919.6L764.2 919.6L765.5 919.5L766.8 919.4L768.0 919.3L769.2 919.2L770.3 919.1L771.6 919.0L772.9 918.9"/>
<path d="M772.9 918.9L774.2 918.8L775.4 918.6L776.5 918.5L777.7 918.4L778.8 918.2L779.9 918.1L781.1 917.8L782.2 917.6L783.4 917.3L784.6 916.9L785.7 916.5L786.8 916.1L787.9 915.7L789.0 915.2L790.2 914.6L791.3 914.1L792.4 913.5L793.6 912.9L794.7 912.4L795.8 911.8L796.9 911.2L798.0 910.6L799.0 910.0L800.0 909.4L801.1 908.8L802.2 908.1L803.3 907.5L804.3 906.9L805.3 906.2L806.3 905.6L807.2 904.9L808.2 904.3L809.2 903.5L810.1 902.8L811.1 902.0L812.1 901.1L813.0 900.3L813.8 899.5L814.7 898.6L815.6 897.7L816.5 896.7L817.4 895.8L818.3 894.8L819.2 893.8L820.0 892.8L820.9 891.8L821.8 890.8L822.6 889.8L823.4 888.9L824.2 887.9L825.0 886.9L825.8 885.9L826.6 884.9L827.4 883.9L828.1 882.9L828.9 881.9L829.6 880.9L830.3 879.9L831.0 878.9L831.8 877.9L832.5 876.9L833.3 875.8L834.1 874.7L834.8 873.7L835.5 872.7L836.3 871.7L837.1 870.6L837.8 869.5L838.6 868.4L839.4 867.4L840.2 866.3L841.0 865.2L841.7 864.1L842.5 863.1L843.2 862.0L843.8 861.1L844.5 860.1L845.1 859.2L845.9 857.9"/>
<path d="M845.9 857.9L846.6 856.7L847.3 855.6L847.8 854.6L848.4 853.6L849.0 852.5L849.5 851.5L850.2 850.5L850.9 849.4L851.7 848.2L852.3 847.3L853.0 846.4L853.7 845.5L854.5 844.5L855.2 843.6L856.0 842.6L856.8 841.6L857.6 840.6L858.4 839.6L859.3 838.7L860.1 837.7L861.0 836.8L861.8 835.9L862.7 835.0L863.6 834.1L864.5 833.3L865.5 832.4L866.4 831.5L867.4 830.7L868.4 829.8L869.4 829.0L870.4 828.2L871.4 827.4L872.4 826.6L873.3 825.9L874.2 825.2L875.1 824.6L875.9 824.0L877.2 823.1L878.4 822.2L879.6 821.5L880.6 820.9L881.7 820.3L882.7 819.9L883.7 819.5L884.7 819.2L886.0 818.9L887.1 818.8L888.1 818.9L889.3 819.1L890.7 819.5L892.4 820.1L893.3 820.4L894.2 820.8L895.2 821.2L896.3 821.6L897.4 822.1L898.6 822.6L899.8 823.1L900.9 823.7L902.1 824.3L903.3 824.9L904.5 825.5L905.6 826.1L906.7 826.7L907.8 827.3L908.9 828.0L910.0 828.7L911.0 829.4L912.1 830.2L913.1 831.0L914.1 831.8L915.1 832.5L916.1 833.3L917.1 834.1L918.1 834.9L919.1 835.7L920.0 836.5L921.0 837.2L922.0 838.0L923.1 838.7"/>
<path d="M923.1 838.7L924.1 839.4L925.1 840.1L926.1 840.8L927.1 841.5L928.1 842.2L929.1 842.9L930.1 843.7L931.1 844.4L932.1 845.2L933.1 846.0L934.0 846.8L935.0 847.6L935.9 848.4L936.8 849.2L937.7 850.1L938.6 850.9L939.5 851.8L940.5 852.7L941.4 853.5L942.3 854.4L943.3 855.3L944.2 856.1L945.2 857.0L946.1 857.8L947.0 858.6L947.9 859.4L948.8 860.2L949.7 861.0L950.7 861.8L951.6 862.6L952.5 863.4L953.5 864.2L954.4 864.9L955.4 865.7L956.4 866.5L957.4 867.2L958.4 868.0L959.4 868.7L960.4 869.4L961.4 870.1L962.4 870.8L963.4 871.5L964.5 872.2L965.5 872.9L966.6 873.6L967.6 874.2L968.7 874.9L969.8 875.5L970.8 876.1L971.9 876.7L972.9 877.3L973.9 877.9L975.1 878.5L976.3 879.2L977.5 879.8L978.7 880.3L979.9 880.9L981.1 881.5L982.3 882.0L983.4 882.5L984.5 883.0L985.6 883.4L986.7 883.8L987.7 884.2L988.6 884.6L990.2 885.2L991.5 885.7L992.7 886.0L993.9 886.3L995.0 886.5L996.1 886.7L997.4 886.8L998.6 886.8L999.7 886.8L1000.8 886.7L1002.0 886.6L1003.2 886.4L1004.5 886.2L1005.8 886.0L1007.3 885.7L1008.3 885.5L1009.4 885.3"/>
<path d="M1009.4 885.3L1010.6 885.2L1011.7 885.0L1012.9 884.8L1014.2 884.5L1015.4 884.3L1016.7 884.0L1017.9 883.7L1019.2 883.3L1020.4 882.9L1021.6 882.4L1022.6 881.9L1023.7 881.4L1024.7 880.9L1025.7 880.3L1026.8 879.7L1027.8 879.0L1028.9 878.4L1029.9 877.7L1031.0 877.0L1032.0 876.3L1033.0 875.6L1034.0 874.9L1034.9 874.2L1035.9 873.5L1036.9 872.8L1037.9 872.1L1038.8 871.4L1039.8 870.6L1040.7 869.9L1041.6 869.2L1042.5 868.4L1043.4 867.7L1044.3 866.9L1045.2 866.1L1046.2 865.3L1047.1 864.5L1048.0 863.6L1048.9 862.8L1049.7 861.9L1050.6 861.0L1051.5 860.0L1052.4 859.1L1053.3 858.1L1054.2 857.1L1055.1 856.2L1055.9 855.2L1056.8 854.2L1057.7 853.2L1058.5 852.3L1059.4 851.3L1060.2 850.4L1061.1 849.4L1062.0 848.5L1062.8 847.6L1063.7 846.6L1064.5 845.7L1065.4 844.8L1066.2 843.9L1067.0 843.0L1067.9 842.1L1068.7 841.1L1069.5 840.2L1070.4 839.3L1071.2 838.3L1072.0 837.4L1072.8 836.4L1073.6 835.5L1074.3 834.5L1075.1 833.5L1075.9 832.5L1076.7 831.6L1077.5 830.6L1078.3 829.6L1079.1 828.7L1079.8 827.7L1080.6 826.8L1081.4 825.9L1082.2 825.1L1083.1 824.1L1084.1 823.2"/>
<path d="M1084.1 823.2L1085.0 822.3L1086.0 821.4L1087.0 820.5L1087.9 819.7L1088.9 818.8L1089.8 818.1L1090.7 817.3L1091.6 816.6L1092.4 815.9L1093.2 815.2L1094.5 814.2L1095.6 813.3L1096.6 812.5L1097.6 811.7L1098.6 811.1L1099.7 810.4L1100.9 809.7L1101.9 809.1L1102.9 808.6L1103.9 808.0L1104.9 807.4L1106.0 806.9L1107.1 806.4L1108.3 806.0L1109.5 805.6L1110.8 805.3L1111.9 805.1L1113.1 804.9L1114.4 804.8L1115.7 804.7L1117.0 804.6L1118.4 804.6L1119.7 804.6L1121.1 804.7L1122.4 804.8L1123.8 805.0L1125.1 805.3L1126.2 805.6L1127.3 805.9L1128.4 806.3L1129.5 806.8L1130.6 807.3L1131.7 807.8L1132.8 808.3L1133.9 808.9L1135.0 809.5L1136.1 810.1L1137.2 810.7L1138.3 811.3L1139.4 811.9L1140.5 812.5L1141.6 813.1L1142.7 813.8L1143.8 814.4L1144.8 815.1L1145.9 815.8L1147.0 816.4L1148.1 817.1L1149.2 817.8L1150.3 818.5L1151.4 819.3L1152.6 820.0L1153.7 820.7L1154.7 821.3L1155.7 822.0L1156.7 822.7L1157.7 823.4L1158.8 824.1L1159.8 824.8L1160.8 825.5L1161.8 826.2L1162.9 826.9L1163.9 827.6L1165.0 828.3L1166.0 828.9L1167.0 829.5L1168.1 830.1L1169.1 830.6L1170.3 831.1L1171.5 831.6"/>
<path d="M1171.5 831.6L1172.6 832.1L1173.8 832.5L1175.0 832.9L1176.1 833.3L1177.3 833.6L1178.5 833.9L1179.7 834.3L1180.9 834.6L1182.1 834.9L1183.3 835.2L1184.5 835.5L1185.6 835.8L1186.8 836.1L1188.0 836.3L1189.2 836.6L1190.4 836.8L1191.5 837.0L1192.7 837.3L1193.9 837.5L1195.1 837.7L1196.3 838.0L1197.5 838.2L1198.7 838.4L1199.8 838.7L1201.0 839.0L1202.2 839.3L1203.4 839.6L1204.7 839.9L1205.9 840.2L1207.1 840.5L1208.2 840.9L1209.4 841.2L1210.6 841.5L1211.8 841.9L1213.0 842.3L1214.2 842.7L1215.3 843.2L1216.5 843.7L1217.6 844.2L1218.7 844.7L1219.8 845.3L1220.9 845.9L1222.0 846.5L1223.1 847.1L1224.2 847.8L1225.3 848.4L1226.3 849.1L1227.4 849.8L1228.4 850.4L1229.5 851.1L1230.5 851.8L1231.5 852.4L1232.5 853.1L1233.6 853.7L1234.6 854.4L1235.5 855.0L1236.5 855.6L1237.4 856.3L1238.4 856.9L1239.3 857.6L1240.3 858.3L1241.2 859.1L1242.2 859.8L1243.2 860.6L1244.2 861.5L1245.0 862.2L1245.9 863.0L1246.8 863.9L1247.7 864.7L1248.6 865.6L1249.5 866.5L1250.4 867.4L1251.4 868.4L1252.3 869.3L1253.2 870.3L1254.1 871.2L1254.9 872.1L1255.8 873.0L1256.6 873.9L1257.4 874.7L1258.2 875.5L1259.2 876.5L1260.1 877.5"/>
<path d="M1260.1 877.5L1261.0 878.3L1261.9 879.2L1262.7 880.1L1263.5 880.9L1264.3 881.7L1265.1 882.6L1265.9 883.5L1266.7 884.4L1267.6 885.4L1268.4 886.5L1269.1 887.4L1269.8 888.4L1270.4 889.4L1271.1 890.4L1271.8 891.5L1272.4 892.6L1273.1 893.7L1273.8 894.8L1274.5 896.0L1275.1 897.1L1275.8 898.2L1276.5 899.2L1277.2 900.3L1277.9 901.3L1278.6 902.3L1279.4 903.3L1280.1 904.3L1280.9 905.2L1281.7 906.1L1282.5 907.0L1283.3 907.9L1284.0 908.8L1284.8 909.6L1285.6 910.5L1286.4 911.4L1287.2 912.3L1288.0 913.2L1288.8 914.2L1289.6 915.2L1290.3 916.1L1291.0 917.1L1291.7 918.0L1292.4 919.0L1293.2 920.1L1293.9 921.1L1294.6 922.1L1295.3 923.2L1296.0 924.2L1296.7 925.2L1297.4 926.2L1298.1 927.2L1298.8 928.2L1299.4 929.1L1300.1 930.0L1300.7 930.9L1301.6 932.1L1302.3 933.1L1303.1 934.2L1303.8 935.1L1304.5 936.0L1305.2 937.0L1305.9 937.9L1306.6 938.8L1307.4 939.8L1308.2 940.9L1309.1 942.0L1309.8 942.9L1310.5 943.8L1311.3 944.8L1312.1 945.8L1312.9 946.9L1313.8 947.9L1314.6 949.0L1315.5 950.1L1316.3 951.1L1317.2 952.1L1318.0 953.2L1318.8 954.1L1319.6 955.1L1320.4 956.0L1321.1 956.8L1322.1 957.9L1323.0 959.0"/>
<path d="M1323.0 959.0L1323.9 959.9L1324.7 960.7L1325.5 961.6L1326.3 962.4L1327.2 963.2L1328.1 964.1L1329.1 965.0L1330.3 966.0L1331.1 966.7L1332.0 967.4L1332.9 968.1L1333.8 968.9L1334.8 969.7L1335.8 970.5L1336.9 971.3L1337.9 972.1L1339.0 972.9L1340.0 973.7L1341.1 974.5L1342.1 975.3L1343.1 976.0L1344.1 976.7L1345.1 977.4L1346.0 978.0L1347.2 978.8L1348.3 979.5L1349.4 980.2L1350.4 980.8L1351.5 981.4L1352.5 982.0L1353.5 982.5L1354.5 983.1L1355.6 983.6L1356.7 984.2L1357.8 984.8L1359.0 985.4L1360.1 986.0L1361.3 986.5L1362.5 987.2L1363.8 987.8L1365.1 988.4L1366.5 989.0L1367.8 989.7L1369.1 990.3L1370.3 990.8L1371.5 991.4L1372.6 991.9L1373.5 992.3L1374.3 992.7L1375.0 993.0"/>
</g>
</g>
<rect x="128.9" y="3.6" width="1247.2" height="1014.1" fill="none" stroke="#000" stroke-width="3.8" stroke-linejoin="round"/>
<text class="tk" transform="translate(128.90 1050.60) scale(1.0 1.07)" text-anchor="middle">2</text>
<text class="tk" transform="translate(267.48 1050.60) scale(1.0 1.07)" text-anchor="middle">4</text>
<text class="tk" transform="translate(406.06 1050.60) scale(1.0 1.07)" text-anchor="middle">6</text>
<text class="tk" transform="translate(544.63 1050.60) scale(1.0 1.07)" text-anchor="middle">8</text>
<text class="tk" transform="translate(683.21 1050.60) scale(1.0 1.07)" text-anchor="middle">10</text>
<text class="tk" transform="translate(821.79 1050.60) scale(1.0 1.07)" text-anchor="middle">12</text>
<text class="tk" transform="translate(960.37 1050.60) scale(1.0 1.07)" text-anchor="middle">14</text>
<text class="tk" transform="translate(1098.94 1050.60) scale(1.0 1.07)" text-anchor="middle">16</text>
<text class="tk" transform="translate(1237.52 1050.60) scale(1.0 1.07)" text-anchor="middle">18</text>
<text class="tk" transform="translate(1376.10 1050.60) scale(1.0 1.07)" text-anchor="middle">20</text>
<text class="tk" transform="translate(129.80 1031.00) scale(1.0 1.07)" text-anchor="end">1</text>
<text class="tk" transform="translate(128.70 805.20) scale(1.0 1.07)" text-anchor="end">2</text>
<text class="tk" transform="translate(128.70 580.80) scale(1.0 1.07)" text-anchor="end">3</text>
<text class="tk" transform="translate(128.70 354.90) scale(1.0 1.07)" text-anchor="end">4</text>
<text class="tk" transform="translate(128.70 130.30) scale(1.0 1.07)" text-anchor="end">5</text>
<text class="ax" transform="translate(752.70 1119.70) scale(1.0 1.04)" text-anchor="middle">Frequency [GHz]</text>
<text class="ay" transform="translate(38.40 535.90) rotate(-90) scale(1.0 1.05)" text-anchor="middle">VSWR</text>
<rect x="902.2" y="10.9" width="468.4" height="312.4" fill="#fff" stroke="#000" stroke-width="1.9"/>
<g fill="none" stroke-linecap="round">
<path d="M932.1 54H1044.3" stroke="#0000ff" stroke-width="4.1"/>
<path d="M934.3 127.1H1046" stroke="#000" stroke-width="3.8" stroke-dasharray="12.2 10.94 2.6 10.77 2.6 11.5"/>
<path d="M936.6 194.9H1038.3" stroke="#ff0000" stroke-width="3.8" stroke-dasharray="17.3 10.94 2.2 11.8"/>
<path d="M934.4 281.4H1046" stroke="#ff00ff" stroke-width="3.9" stroke-dasharray="14.1 19.2"/>
</g>
<text class="lg" transform="translate(1062.40 70.00) scale(1.0 1.04)">W</text><text class="sb" transform="translate(1112.70 88.20) scale(1.0 1.07)">3</text><text class="lg" x="1143.4" y="70" stroke="#000" stroke-width="2.2" vector-effect="non-scaling-stroke" transform="translate(1158.10 53.90) scale(0.86 0.64) translate(-1158.10 -53.90)">=</text><text class="lg" transform="translate(1186.60 70.00) scale(1.0 1.06)">8.8 mm</text>
<text class="lg" transform="translate(1064.50 147.90) scale(1.0 1.04)">W</text><text class="sb" transform="translate(1115.00 165.20) scale(1.0 1.07)">3</text><text class="lg" x="1146.3" y="147.9" stroke="#000" stroke-width="2.2" vector-effect="non-scaling-stroke" transform="translate(1161.00 131.80) scale(0.86 0.64) translate(-1161.00 -131.80)">=</text><text class="lg" transform="translate(1189.50 147.90) scale(1.0 1.06)">8.4 mm</text>
<text class="lg" transform="translate(1065.20 215.70) scale(1.0 1.04)">W</text><text class="sb" transform="translate(1114.80 231.60) scale(1.0 1.07)">3</text><text class="lg" x="1146.3" y="215.7" stroke="#000" stroke-width="2.2" vector-effect="non-scaling-stroke" transform="translate(1161.00 199.60) scale(0.86 0.64) translate(-1161.00 -199.60)">=</text><text class="lg" transform="translate(1189.50 215.70) scale(1.0 1.06)">8.0 mm</text>
<text class="lg" transform="translate(1069.50 295.40) scale(1.0 1.04)">W</text><text class="sb" transform="translate(1119.80 312.70) scale(1.0 1.07)">3</text><text class="lg" x="1150.5" y="295.4" stroke="#000" stroke-width="2.2" vector-effect="non-scaling-stroke" transform="translate(1165.20 279.30) scale(0.86 0.64) translate(-1165.20 -279.30)">=</text><text class="lg" transform="translate(1193.70 295.40) scale(1.0 1.06)">7.6mm</text>
<path d="M1115 15.2H1123" stroke="#cfcfcf" stroke-width="1.4"/>
<path d="M1064.8 456.7H1071" stroke="#8a8a8a" stroke-width="1.5" stroke-linecap="round"/>
</svg>
</body>
</html>
